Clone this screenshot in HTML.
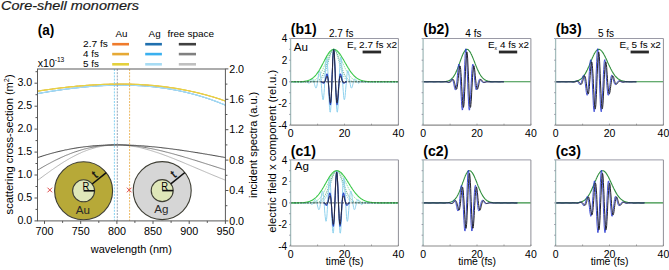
<!DOCTYPE html>
<html><head><meta charset="utf-8"><style>
html,body{margin:0;padding:0;background:#fff;}
svg{display:block;}
text{font-family:"Liberation Sans", sans-serif;}
</style></head><body>
<svg width="669" height="270" viewBox="0 0 669 270">
<rect width="669" height="270" fill="#fff"/>
<text x="1" y="10.3" font-size="12.6" font-style="italic" textLength="138" lengthAdjust="spacingAndGlyphs" fill="#1a1a1a" stroke="#1a1a1a" stroke-width="0.2">Core-shell monomers</text>
<text x="37.8" y="35" font-size="14" font-weight="bold" textLength="16.6" lengthAdjust="spacingAndGlyphs">(a)</text>
<polyline points="37.3,180.6 38.2,179.9 39.2,179.2 40.1,178.5 41,177.8 42,177.1 42.9,176.4 43.9,175.7 44.8,175 45.8,174.3 46.7,173.6 47.7,173 48.6,172.3 49.6,171.6 50.5,170.9 51.4,170.2 52.4,169.6 53.3,168.9 54.3,168.3 55.2,167.6 56.2,167 57.1,166.3 58.1,165.7 59,165.1 60,164.4 60.9,163.8 61.8,163.2 62.8,162.6 63.7,162 64.7,161.4 65.6,160.9 66.6,160.3 67.5,159.7 68.5,159.2 69.4,158.6 70.4,158.1 71.3,157.6 72.2,157.1 73.2,156.6 74.1,156.1 75.1,155.6 76,155.1 77,154.6 77.9,154.2 78.9,153.7 79.8,153.3 80.8,152.9 81.7,152.4 82.6,152 83.6,151.6 84.5,151.3 85.5,150.9 86.4,150.5 87.4,150.2 88.3,149.8 89.3,149.5 90.2,149.2 91.2,148.9 92.1,148.6 93,148.3 94,148 94.9,147.8 95.9,147.5 96.8,147.3 97.8,147.1 98.7,146.9 99.7,146.7 100.6,146.5 101.6,146.3 102.5,146.1 103.4,146 104.4,145.8 105.3,145.7 106.3,145.6 107.2,145.4 108.2,145.3 109.1,145.2 110.1,145.2 111,145.1 112,145 112.9,145 113.8,145 114.8,144.9 115.7,144.9 116.7,144.9 117.6,144.9 118.6,144.9 119.5,144.9 120.5,145 121.4,145 122.4,145.1 123.3,145.1 124.2,145.2 125.2,145.3 126.1,145.4 127.1,145.5 128,145.6 129,145.7 129.9,145.8 130.9,146 131.8,146.1 132.8,146.2 133.7,146.4 134.6,146.6 135.6,146.7 136.5,146.9 137.5,147.1 138.4,147.3 139.4,147.5 140.3,147.7 141.3,147.9 142.2,148.2 143.1,148.4 144.1,148.6 145,148.9 146,149.1 146.9,149.4 147.9,149.7 148.8,149.9 149.8,150.2 150.7,150.5 151.7,150.8 152.6,151.1 153.5,151.4 154.5,151.7 155.4,152 156.4,152.3 157.3,152.6 158.3,152.9 159.2,153.2 160.2,153.6 161.1,153.9 162.1,154.2 163,154.6 163.9,154.9 164.9,155.3 165.8,155.6 166.8,156 167.7,156.3 168.7,156.7 169.6,157.1 170.6,157.4 171.5,157.8 172.5,158.2 173.4,158.5 174.3,158.9 175.3,159.3 176.2,159.7 177.2,160.1 178.1,160.5 179.1,160.8 180,161.2 181,161.6 181.9,162 182.9,162.4 183.8,162.8 184.7,163.2 185.7,163.6 186.6,164 187.6,164.4 188.5,164.8 189.5,165.2 190.4,165.6 191.4,166 192.3,166.4 193.3,166.8 194.2,167.2 195.1,167.6 196.1,168 197,168.4 198,168.8 198.9,169.2 199.9,169.6 200.8,170 201.8,170.4 202.7,170.8 203.7,171.2 204.6,171.6 205.5,172 206.5,172.4 207.4,172.8 208.4,173.2 209.3,173.6 210.3,174 211.2,174.4 212.2,174.8 213.1,175.2 214.1,175.6 215,176 215.9,176.3 216.9,176.7 217.8,177.1 218.8,177.5 219.7,177.9 220.7,178.3 221.6,178.6 222.6,179 223.5,179.4 224.5,179.8 225.4,180.1" fill="none" stroke="#b4b4b4" stroke-width="1" stroke-linejoin="round"/>
<polyline points="37.3,170.3 38.2,169.7 39.2,169.2 40.1,168.6 41,168.1 42,167.5 42.9,167 43.9,166.4 44.8,165.9 45.8,165.4 46.7,164.8 47.7,164.3 48.6,163.8 49.6,163.3 50.5,162.8 51.4,162.3 52.4,161.8 53.3,161.3 54.3,160.8 55.2,160.3 56.2,159.9 57.1,159.4 58.1,159 59,158.5 60,158.1 60.9,157.6 61.8,157.2 62.8,156.8 63.7,156.4 64.7,155.9 65.6,155.5 66.6,155.1 67.5,154.8 68.5,154.4 69.4,154 70.4,153.6 71.3,153.3 72.2,152.9 73.2,152.6 74.1,152.2 75.1,151.9 76,151.6 77,151.3 77.9,151 78.9,150.7 79.8,150.4 80.8,150.1 81.7,149.8 82.6,149.6 83.6,149.3 84.5,149 85.5,148.8 86.4,148.6 87.4,148.3 88.3,148.1 89.3,147.9 90.2,147.7 91.2,147.5 92.1,147.3 93,147.1 94,146.9 94.9,146.8 95.9,146.6 96.8,146.4 97.8,146.3 98.7,146.2 99.7,146 100.6,145.9 101.6,145.8 102.5,145.7 103.4,145.6 104.4,145.5 105.3,145.4 106.3,145.3 107.2,145.2 108.2,145.2 109.1,145.1 110.1,145.1 111,145 112,145 112.9,145 113.8,144.9 114.8,144.9 115.7,144.9 116.7,144.9 117.6,144.9 118.6,144.9 119.5,144.9 120.5,144.9 121.4,145 122.4,145 123.3,145 124.2,145.1 125.2,145.1 126.1,145.2 127.1,145.3 128,145.3 129,145.4 129.9,145.5 130.9,145.6 131.8,145.7 132.8,145.8 133.7,145.9 134.6,146 135.6,146.1 136.5,146.2 137.5,146.3 138.4,146.5 139.4,146.6 140.3,146.7 141.3,146.9 142.2,147 143.1,147.2 144.1,147.3 145,147.5 146,147.6 146.9,147.8 147.9,148 148.8,148.2 149.8,148.3 150.7,148.5 151.7,148.7 152.6,148.9 153.5,149.1 154.5,149.3 155.4,149.5 156.4,149.7 157.3,149.9 158.3,150.1 159.2,150.3 160.2,150.6 161.1,150.8 162.1,151 163,151.2 163.9,151.5 164.9,151.7 165.8,152 166.8,152.2 167.7,152.4 168.7,152.7 169.6,152.9 170.6,153.2 171.5,153.4 172.5,153.7 173.4,153.9 174.3,154.2 175.3,154.5 176.2,154.7 177.2,155 178.1,155.3 179.1,155.5 180,155.8 181,156.1 181.9,156.3 182.9,156.6 183.8,156.9 184.7,157.2 185.7,157.5 186.6,157.7 187.6,158 188.5,158.3 189.5,158.6 190.4,158.9 191.4,159.2 192.3,159.5 193.3,159.8 194.2,160 195.1,160.3 196.1,160.6 197,160.9 198,161.2 198.9,161.5 199.9,161.8 200.8,162.1 201.8,162.4 202.7,162.7 203.7,163 204.6,163.3 205.5,163.6 206.5,163.9 207.4,164.2 208.4,164.5 209.3,164.8 210.3,165.1 211.2,165.4 212.2,165.7 213.1,166 214.1,166.3 215,166.6 215.9,166.9 216.9,167.2 217.8,167.5 218.8,167.8 219.7,168.1 220.7,168.4 221.6,168.7 222.6,169 223.5,169.3 224.5,169.6 225.4,169.9" fill="none" stroke="#7c7c7c" stroke-width="1" stroke-linejoin="round"/>
<polyline points="37.3,157.8 38.2,157.4 39.2,157.1 40.1,156.8 41,156.5 42,156.2 42.9,155.9 43.9,155.6 44.8,155.3 45.8,155 46.7,154.7 47.7,154.5 48.6,154.2 49.6,153.9 50.5,153.6 51.4,153.4 52.4,153.1 53.3,152.9 54.3,152.6 55.2,152.4 56.2,152.1 57.1,151.9 58.1,151.7 59,151.4 60,151.2 60.9,151 61.8,150.8 62.8,150.6 63.7,150.4 64.7,150.1 65.6,149.9 66.6,149.8 67.5,149.6 68.5,149.4 69.4,149.2 70.4,149 71.3,148.8 72.2,148.7 73.2,148.5 74.1,148.3 75.1,148.2 76,148 77,147.9 77.9,147.7 78.9,147.6 79.8,147.4 80.8,147.3 81.7,147.2 82.6,147.1 83.6,146.9 84.5,146.8 85.5,146.7 86.4,146.6 87.4,146.5 88.3,146.4 89.3,146.3 90.2,146.2 91.2,146.1 92.1,146 93,145.9 94,145.8 94.9,145.8 95.9,145.7 96.8,145.6 97.8,145.5 98.7,145.5 99.7,145.4 100.6,145.4 101.6,145.3 102.5,145.3 103.4,145.2 104.4,145.2 105.3,145.1 106.3,145.1 107.2,145.1 108.2,145 109.1,145 110.1,145 111,145 112,144.9 112.9,144.9 113.8,144.9 114.8,144.9 115.7,144.9 116.7,144.9 117.6,144.9 118.6,144.9 119.5,144.9 120.5,144.9 121.4,144.9 122.4,144.9 123.3,145 124.2,145 125.2,145 126.1,145 127.1,145.1 128,145.1 129,145.1 129.9,145.2 130.9,145.2 131.8,145.3 132.8,145.3 133.7,145.3 134.6,145.4 135.6,145.4 136.5,145.5 137.5,145.6 138.4,145.6 139.4,145.7 140.3,145.7 141.3,145.8 142.2,145.9 143.1,145.9 144.1,146 145,146.1 146,146.2 146.9,146.2 147.9,146.3 148.8,146.4 149.8,146.5 150.7,146.6 151.7,146.7 152.6,146.8 153.5,146.8 154.5,146.9 155.4,147 156.4,147.1 157.3,147.2 158.3,147.3 159.2,147.4 160.2,147.5 161.1,147.6 162.1,147.8 163,147.9 163.9,148 164.9,148.1 165.8,148.2 166.8,148.3 167.7,148.4 168.7,148.5 169.6,148.7 170.6,148.8 171.5,148.9 172.5,149 173.4,149.2 174.3,149.3 175.3,149.4 176.2,149.5 177.2,149.7 178.1,149.8 179.1,149.9 180,150.1 181,150.2 181.9,150.3 182.9,150.5 183.8,150.6 184.7,150.8 185.7,150.9 186.6,151 187.6,151.2 188.5,151.3 189.5,151.5 190.4,151.6 191.4,151.8 192.3,151.9 193.3,152.1 194.2,152.2 195.1,152.4 196.1,152.5 197,152.7 198,152.8 198.9,153 199.9,153.1 200.8,153.3 201.8,153.4 202.7,153.6 203.7,153.8 204.6,153.9 205.5,154.1 206.5,154.2 207.4,154.4 208.4,154.6 209.3,154.7 210.3,154.9 211.2,155 212.2,155.2 213.1,155.4 214.1,155.5 215,155.7 215.9,155.9 216.9,156 217.8,156.2 218.8,156.4 219.7,156.5 220.7,156.7 221.6,156.9 222.6,157 223.5,157.2 224.5,157.4 225.4,157.5" fill="none" stroke="#3e3e3e" stroke-width="1" stroke-linejoin="round"/>
<polyline points="37.5,93.7 39.1,93.4 40.7,93.1 42.2,92.9 43.8,92.6 45.4,92.3 47,92.1 48.6,91.8 50.1,91.5 51.7,91.3 53.3,91 54.9,90.8 56.4,90.6 58,90.3 59.6,90.1 61.2,89.9 62.8,89.6 64.3,89.4 65.9,89.2 67.5,89 69.1,88.8 70.7,88.6 72.2,88.4 73.8,88.2 75.4,88 77,87.8 78.6,87.7 80.1,87.5 81.7,87.3 83.3,87.2 84.9,87 86.4,86.9 88,86.7 89.6,86.6 91.2,86.5 92.8,86.3 94.3,86.2 95.9,86.1 97.5,86 99.1,85.9 100.7,85.8 102.2,85.7 103.8,85.6 105.4,85.6 107,85.5 108.6,85.4 110.1,85.4 111.7,85.3 113.3,85.3 114.9,85.3 116.4,85.2 118,85.2 119.6,85.2 121.2,85.2 122.8,85.2 124.3,85.2 125.9,85.2 127.5,85.2 129.1,85.3 130.7,85.3 132.2,85.4 133.8,85.4 135.4,85.5 137,85.6 138.6,85.7 140.1,85.7 141.7,85.8 143.3,85.9 144.9,86.1 146.5,86.2 148,86.3 149.6,86.5 151.2,86.6 152.8,86.8 154.3,86.9 155.9,87.1 157.5,87.3 159.1,87.5 160.7,87.7 162.2,87.9 163.8,88.2 165.4,88.4 167,88.6 168.6,88.9 170.1,89.1 171.7,89.4 173.3,89.7 174.9,90 176.5,90.3 178,90.6 179.6,90.9 181.2,91.3 182.8,91.6 184.3,92 185.9,92.3 187.5,92.7 189.1,93.1 190.7,93.5 192.2,93.9 193.8,94.3 195.4,94.8 197,95.2 198.6,95.7 200.1,96.1 201.7,96.6 203.3,97.1 204.9,97.6 206.5,98.1 208,98.6 209.6,99.2 211.2,99.7 212.8,100.3 214.3,100.9 215.9,101.4 217.5,102 219.1,102.6 220.7,103.3 222.2,103.9 223.8,104.5 225.4,105.2" fill="none" stroke="#5a9ccc" stroke-width="0.8" stroke-linejoin="round"/>
<polyline points="37.5,93.6 39.1,93.4 40.7,93.1 42.2,92.8 43.8,92.5 45.4,92.3 47,92 48.6,91.7 50.1,91.5 51.7,91.2 53.3,91 54.9,90.7 56.4,90.5 58,90.3 59.6,90 61.2,89.8 62.8,89.6 64.3,89.4 65.9,89.1 67.5,88.9 69.1,88.7 70.7,88.5 72.2,88.3 73.8,88.1 75.4,88 77,87.8 78.6,87.6 80.1,87.4 81.7,87.3 83.3,87.1 84.9,87 86.4,86.8 88,86.7 89.6,86.5 91.2,86.4 92.8,86.3 94.3,86.2 95.9,86 97.5,85.9 99.1,85.8 100.7,85.7 102.2,85.7 103.8,85.6 105.4,85.5 107,85.4 108.6,85.4 110.1,85.3 111.7,85.3 113.3,85.2 114.9,85.2 116.4,85.2 118,85.2 119.6,85.1 121.2,85.1 122.8,85.1 124.3,85.2 125.9,85.2 127.5,85.2 129.1,85.2 130.7,85.3 132.2,85.3 133.8,85.4 135.4,85.4 137,85.5 138.6,85.6 140.1,85.7 141.7,85.8 143.3,85.9 144.9,86 146.5,86.1 148,86.3 149.6,86.4 151.2,86.6 152.8,86.7 154.3,86.9 155.9,87.1 157.5,87.3 159.1,87.5 160.7,87.7 162.2,87.9 163.8,88.1 165.4,88.3 167,88.6 168.6,88.8 170.1,89.1 171.7,89.4 173.3,89.7 174.9,89.9 176.5,90.3 178,90.6 179.6,90.9 181.2,91.2 182.8,91.6 184.3,91.9 185.9,92.3 187.5,92.7 189.1,93.1 190.7,93.5 192.2,93.9 193.8,94.3 195.4,94.7 197,95.2 198.6,95.6 200.1,96.1 201.7,96.6 203.3,97.1 204.9,97.6 206.5,98.1 208,98.6 209.6,99.1 211.2,99.7 212.8,100.2 214.3,100.8 215.9,101.4 217.5,102 219.1,102.6 220.7,103.2 222.2,103.8 223.8,104.5 225.4,105.2" fill="none" stroke="#70c0ee" stroke-width="0.9" stroke-linejoin="round"/>
<polyline points="37.5,93.6 39.1,93.3 40.7,93 42.2,92.8 43.8,92.5 45.4,92.2 47,92 48.6,91.7 50.1,91.4 51.7,91.2 53.3,90.9 54.9,90.7 56.4,90.5 58,90.2 59.6,90 61.2,89.8 62.8,89.5 64.3,89.3 65.9,89.1 67.5,88.9 69.1,88.7 70.7,88.5 72.2,88.3 73.8,88.1 75.4,87.9 77,87.7 78.6,87.6 80.1,87.4 81.7,87.2 83.3,87.1 84.9,86.9 86.4,86.8 88,86.6 89.6,86.5 91.2,86.4 92.8,86.2 94.3,86.1 95.9,86 97.5,85.9 99.1,85.8 100.7,85.7 102.2,85.6 103.8,85.5 105.4,85.5 107,85.4 108.6,85.3 110.1,85.3 111.7,85.2 113.3,85.2 114.9,85.2 116.4,85.1 118,85.1 119.6,85.1 121.2,85.1 122.8,85.1 124.3,85.1 125.9,85.1 127.5,85.1 129.1,85.2 130.7,85.2 132.2,85.3 133.8,85.3 135.4,85.4 137,85.5 138.6,85.6 140.1,85.6 141.7,85.7 143.3,85.8 144.9,86 146.5,86.1 148,86.2 149.6,86.4 151.2,86.5 152.8,86.7 154.3,86.8 155.9,87 157.5,87.2 159.1,87.4 160.7,87.6 162.2,87.8 163.8,88.1 165.4,88.3 167,88.5 168.6,88.8 170.1,89 171.7,89.3 173.3,89.6 174.9,89.9 176.5,90.2 178,90.5 179.6,90.8 181.2,91.2 182.8,91.5 184.3,91.9 185.9,92.2 187.5,92.6 189.1,93 190.7,93.4 192.2,93.8 193.8,94.2 195.4,94.7 197,95.1 198.6,95.6 200.1,96 201.7,96.5 203.3,97 204.9,97.5 206.5,98 208,98.5 209.6,99.1 211.2,99.6 212.8,100.2 214.3,100.8 215.9,101.3 217.5,101.9 219.1,102.5 220.7,103.2 222.2,103.8 223.8,104.4 225.4,105.1" fill="none" stroke="#a6dcf4" stroke-width="1.1" stroke-linejoin="round"/>
<polyline points="37.5,91.2 39.1,91 40.7,90.7 42.2,90.5 43.8,90.3 45.4,90 47,89.8 48.6,89.6 50.1,89.4 51.7,89.2 53.3,88.9 54.9,88.7 56.4,88.5 58,88.3 59.6,88.1 61.2,87.9 62.8,87.8 64.3,87.6 65.9,87.4 67.5,87.2 69.1,87 70.7,86.9 72.2,86.7 73.8,86.6 75.4,86.4 77,86.2 78.6,86.1 80.1,86 81.7,85.8 83.3,85.7 84.9,85.6 86.4,85.4 88,85.3 89.6,85.2 91.2,85.1 92.8,85 94.3,84.9 95.9,84.8 97.5,84.7 99.1,84.6 100.7,84.6 102.2,84.5 103.8,84.4 105.4,84.4 107,84.3 108.6,84.3 110.1,84.2 111.7,84.2 113.3,84.2 114.9,84.1 116.4,84.1 118,84.1 119.6,84.1 121.2,84.1 122.8,84.1 124.3,84.1 125.9,84.1 127.5,84.2 129.1,84.2 130.7,84.2 132.2,84.3 133.8,84.3 135.4,84.4 137,84.5 138.6,84.5 140.1,84.6 141.7,84.7 143.3,84.8 144.9,84.9 146.5,85 148,85.1 149.6,85.3 151.2,85.4 152.8,85.5 154.3,85.7 155.9,85.8 157.5,86 159.1,86.2 160.7,86.3 162.2,86.5 163.8,86.7 165.4,86.9 167,87.1 168.6,87.3 170.1,87.6 171.7,87.8 173.3,88 174.9,88.3 176.5,88.5 178,88.8 179.6,89.1 181.2,89.4 182.8,89.7 184.3,90 185.9,90.3 187.5,90.6 189.1,90.9 190.7,91.3 192.2,91.6 193.8,92 195.4,92.3 197,92.7 198.6,93.1 200.1,93.5 201.7,93.9 203.3,94.3 204.9,94.7 206.5,95.1 208,95.6 209.6,96 211.2,96.5 212.8,96.9 214.3,97.4 215.9,97.9 217.5,98.4 219.1,98.9 220.7,99.4 222.2,100 223.8,100.5 225.4,101.1" fill="none" stroke="#e89a40" stroke-width="0.8" stroke-linejoin="round"/>
<polyline points="37.5,91.2 39.1,90.9 40.7,90.7 42.2,90.4 43.8,90.2 45.4,90 47,89.8 48.6,89.5 50.1,89.3 51.7,89.1 53.3,88.9 54.9,88.7 56.4,88.5 58,88.3 59.6,88.1 61.2,87.9 62.8,87.7 64.3,87.5 65.9,87.3 67.5,87.2 69.1,87 70.7,86.8 72.2,86.7 73.8,86.5 75.4,86.3 77,86.2 78.6,86.1 80.1,85.9 81.7,85.8 83.3,85.6 84.9,85.5 86.4,85.4 88,85.3 89.6,85.2 91.2,85.1 92.8,85 94.3,84.9 95.9,84.8 97.5,84.7 99.1,84.6 100.7,84.5 102.2,84.5 103.8,84.4 105.4,84.3 107,84.3 108.6,84.2 110.1,84.2 111.7,84.1 113.3,84.1 114.9,84.1 116.4,84.1 118,84.1 119.6,84.1 121.2,84.1 122.8,84.1 124.3,84.1 125.9,84.1 127.5,84.1 129.1,84.2 130.7,84.2 132.2,84.2 133.8,84.3 135.4,84.4 137,84.4 138.6,84.5 140.1,84.6 141.7,84.7 143.3,84.8 144.9,84.9 146.5,85 148,85.1 149.6,85.2 151.2,85.3 152.8,85.5 154.3,85.6 155.9,85.8 157.5,85.9 159.1,86.1 160.7,86.3 162.2,86.5 163.8,86.7 165.4,86.9 167,87.1 168.6,87.3 170.1,87.5 171.7,87.7 173.3,88 174.9,88.2 176.5,88.5 178,88.8 179.6,89 181.2,89.3 182.8,89.6 184.3,89.9 185.9,90.2 187.5,90.5 189.1,90.9 190.7,91.2 192.2,91.5 193.8,91.9 195.4,92.3 197,92.6 198.6,93 200.1,93.4 201.7,93.8 203.3,94.2 204.9,94.6 206.5,95.1 208,95.5 209.6,96 211.2,96.4 212.8,96.9 214.3,97.4 215.9,97.9 217.5,98.4 219.1,98.9 220.7,99.4 222.2,99.9 223.8,100.5 225.4,101" fill="none" stroke="#e6b840" stroke-width="0.9" stroke-linejoin="round"/>
<polyline points="37.5,91.1 39.1,90.9 40.7,90.6 42.2,90.4 43.8,90.2 45.4,89.9 47,89.7 48.6,89.5 50.1,89.3 51.7,89.1 53.3,88.8 54.9,88.6 56.4,88.4 58,88.2 59.6,88 61.2,87.8 62.8,87.7 64.3,87.5 65.9,87.3 67.5,87.1 69.1,86.9 70.7,86.8 72.2,86.6 73.8,86.5 75.4,86.3 77,86.1 78.6,86 80.1,85.9 81.7,85.7 83.3,85.6 84.9,85.5 86.4,85.3 88,85.2 89.6,85.1 91.2,85 92.8,84.9 94.3,84.8 95.9,84.7 97.5,84.6 99.1,84.5 100.7,84.5 102.2,84.4 103.8,84.3 105.4,84.3 107,84.2 108.6,84.2 110.1,84.1 111.7,84.1 113.3,84.1 114.9,84 116.4,84 118,84 119.6,84 121.2,84 122.8,84 124.3,84 125.9,84 127.5,84.1 129.1,84.1 130.7,84.1 132.2,84.2 133.8,84.2 135.4,84.3 137,84.4 138.6,84.4 140.1,84.5 141.7,84.6 143.3,84.7 144.9,84.8 146.5,84.9 148,85 149.6,85.2 151.2,85.3 152.8,85.4 154.3,85.6 155.9,85.7 157.5,85.9 159.1,86.1 160.7,86.2 162.2,86.4 163.8,86.6 165.4,86.8 167,87 168.6,87.2 170.1,87.5 171.7,87.7 173.3,87.9 174.9,88.2 176.5,88.4 178,88.7 179.6,89 181.2,89.3 182.8,89.6 184.3,89.9 185.9,90.2 187.5,90.5 189.1,90.8 190.7,91.2 192.2,91.5 193.8,91.9 195.4,92.2 197,92.6 198.6,93 200.1,93.4 201.7,93.8 203.3,94.2 204.9,94.6 206.5,95 208,95.5 209.6,95.9 211.2,96.4 212.8,96.8 214.3,97.3 215.9,97.8 217.5,98.3 219.1,98.8 220.7,99.3 222.2,99.9 223.8,100.4 225.4,101" fill="none" stroke="#e6d444" stroke-width="1.1" stroke-linejoin="round"/>
<line x1="114.4" y1="69" x2="114.4" y2="220.9" stroke="#78cdf0" stroke-width="0.9" stroke-dasharray="2,1.2"/>
<line x1="117.3" y1="69" x2="117.3" y2="220.9" stroke="#8c98aa" stroke-width="0.9" stroke-dasharray="2,1.2"/>
<line x1="129.6" y1="69" x2="129.6" y2="220.9" stroke="#eab050" stroke-width="0.9" stroke-dasharray="2,1.2"/>
<circle cx="83.6" cy="190.8" r="29" fill="#b7a938" stroke="#3e3e34" stroke-width="1.1"/>
<circle cx="83.6" cy="190.8" r="11" fill="#dfe7b9" stroke="#3e3e34" stroke-width="1.1"/>
<line x1="83.6" y1="190.8" x2="94.6" y2="190.8" stroke="#111" stroke-width="1.6"/>
<line x1="92.2" y1="184" x2="106.3" y2="172.7" stroke="#111" stroke-width="1.6"/>
<text x="82.6" y="189.8" font-size="10" textLength="6.8" lengthAdjust="spacingAndGlyphs">R</text>
<text x="97.1" y="177.5" font-size="11.5" text-anchor="middle" transform="rotate(-38.5 97.1 177.5)" stroke="#222" stroke-width="0.4">t</text>
<text x="82.8" y="213.6" font-size="11.6" text-anchor="middle" fill="#2a2a2a">Au</text>
<circle cx="162.2" cy="190.6" r="29" fill="#d6d6d6" stroke="#3e3e34" stroke-width="1.1"/>
<circle cx="162.2" cy="190.6" r="11" fill="#dfe7b9" stroke="#3e3e34" stroke-width="1.1"/>
<line x1="162.2" y1="190.6" x2="173.2" y2="190.6" stroke="#111" stroke-width="1.6"/>
<line x1="170.8" y1="183.8" x2="184.9" y2="172.5" stroke="#111" stroke-width="1.6"/>
<text x="161.2" y="189.6" font-size="10" textLength="6.8" lengthAdjust="spacingAndGlyphs">R</text>
<text x="175.7" y="177.3" font-size="11.5" text-anchor="middle" transform="rotate(-38.5 175.7 177.3)" stroke="#222" stroke-width="0.4">t</text>
<text x="161.4" y="213.4" font-size="11.6" text-anchor="middle" fill="#2a2a2a">Ag</text>
<path d="M47.5,187.7 L52.099999999999994,192.3 M52.099999999999994,187.7 L47.5,192.3" stroke="#e04848" stroke-width="1"/>
<path d="M126.89999999999999,187.7 L131.5,192.3 M131.5,187.7 L126.89999999999999,192.3" stroke="#e04848" stroke-width="1"/>
<rect x="37.5" y="69.0" width="187.9" height="151.9" fill="none" stroke="#5a5a5a" stroke-width="1"/>
<line x1="44.5" y1="220.9" x2="44.5" y2="223.9" stroke="#555" stroke-width="1"/>
<text x="44.5" y="235.2" font-size="10.5" text-anchor="middle" textLength="18" lengthAdjust="spacingAndGlyphs">700</text>
<line x1="80.7" y1="220.9" x2="80.7" y2="223.9" stroke="#555" stroke-width="1"/>
<text x="80.7" y="235.2" font-size="10.5" text-anchor="middle" textLength="18" lengthAdjust="spacingAndGlyphs">750</text>
<line x1="116.9" y1="220.9" x2="116.9" y2="223.9" stroke="#555" stroke-width="1"/>
<text x="116.9" y="235.2" font-size="10.5" text-anchor="middle" textLength="18" lengthAdjust="spacingAndGlyphs">800</text>
<line x1="153" y1="220.9" x2="153" y2="223.9" stroke="#555" stroke-width="1"/>
<text x="153" y="235.2" font-size="10.5" text-anchor="middle" textLength="18" lengthAdjust="spacingAndGlyphs">850</text>
<line x1="189.2" y1="220.9" x2="189.2" y2="223.9" stroke="#555" stroke-width="1"/>
<text x="189.2" y="235.2" font-size="10.5" text-anchor="middle" textLength="18" lengthAdjust="spacingAndGlyphs">900</text>
<line x1="225.4" y1="220.9" x2="225.4" y2="223.9" stroke="#555" stroke-width="1"/>
<text x="225.4" y="235.2" font-size="10.5" text-anchor="middle" textLength="18" lengthAdjust="spacingAndGlyphs">950</text>
<line x1="62.6" y1="220.9" x2="62.6" y2="222.9" stroke="#555" stroke-width="1"/>
<line x1="98.8" y1="220.9" x2="98.8" y2="222.9" stroke="#555" stroke-width="1"/>
<line x1="134.9" y1="220.9" x2="134.9" y2="222.9" stroke="#555" stroke-width="1"/>
<line x1="171.1" y1="220.9" x2="171.1" y2="222.9" stroke="#555" stroke-width="1"/>
<line x1="207.3" y1="220.9" x2="207.3" y2="222.9" stroke="#555" stroke-width="1"/>
<line x1="34.5" y1="220.9" x2="37.5" y2="220.9" stroke="#555" stroke-width="1"/>
<text x="32.2" y="224.1" font-size="10.8" text-anchor="end" textLength="14.8" lengthAdjust="spacingAndGlyphs">0.0</text>
<line x1="34.5" y1="198" x2="37.5" y2="198" stroke="#555" stroke-width="1"/>
<text x="32.2" y="201.2" font-size="10.8" text-anchor="end" textLength="14.8" lengthAdjust="spacingAndGlyphs">0.5</text>
<line x1="34.5" y1="175" x2="37.5" y2="175" stroke="#555" stroke-width="1"/>
<text x="32.2" y="178.2" font-size="10.8" text-anchor="end" textLength="14.8" lengthAdjust="spacingAndGlyphs">1.0</text>
<line x1="34.5" y1="152.1" x2="37.5" y2="152.1" stroke="#555" stroke-width="1"/>
<text x="32.2" y="155.2" font-size="10.8" text-anchor="end" textLength="14.8" lengthAdjust="spacingAndGlyphs">1.5</text>
<line x1="34.5" y1="129.1" x2="37.5" y2="129.1" stroke="#555" stroke-width="1"/>
<text x="32.2" y="132.3" font-size="10.8" text-anchor="end" textLength="14.8" lengthAdjust="spacingAndGlyphs">2.0</text>
<line x1="34.5" y1="106.2" x2="37.5" y2="106.2" stroke="#555" stroke-width="1"/>
<text x="32.2" y="109.4" font-size="10.8" text-anchor="end" textLength="14.8" lengthAdjust="spacingAndGlyphs">2.5</text>
<line x1="34.5" y1="83.2" x2="37.5" y2="83.2" stroke="#555" stroke-width="1"/>
<text x="32.2" y="86.4" font-size="10.8" text-anchor="end" textLength="14.8" lengthAdjust="spacingAndGlyphs">3.0</text>
<line x1="35.5" y1="209.4" x2="37.5" y2="209.4" stroke="#555" stroke-width="1"/>
<line x1="35.5" y1="186.5" x2="37.5" y2="186.5" stroke="#555" stroke-width="1"/>
<line x1="35.5" y1="163.5" x2="37.5" y2="163.5" stroke="#555" stroke-width="1"/>
<line x1="35.5" y1="140.6" x2="37.5" y2="140.6" stroke="#555" stroke-width="1"/>
<line x1="35.5" y1="117.6" x2="37.5" y2="117.6" stroke="#555" stroke-width="1"/>
<line x1="35.5" y1="94.7" x2="37.5" y2="94.7" stroke="#555" stroke-width="1"/>
<line x1="35.5" y1="71.7" x2="37.5" y2="71.7" stroke="#555" stroke-width="1"/>
<line x1="225.4" y1="220.9" x2="228.4" y2="220.9" stroke="#555" stroke-width="1"/>
<text x="229.2" y="224.5" font-size="10.3" textLength="14.9" lengthAdjust="spacingAndGlyphs">0.0</text>
<line x1="225.4" y1="190.5" x2="228.4" y2="190.5" stroke="#555" stroke-width="1"/>
<text x="229.2" y="194.1" font-size="10.3" textLength="14.9" lengthAdjust="spacingAndGlyphs">0.4</text>
<line x1="225.4" y1="160.1" x2="228.4" y2="160.1" stroke="#555" stroke-width="1"/>
<text x="229.2" y="163.7" font-size="10.3" textLength="14.9" lengthAdjust="spacingAndGlyphs">0.8</text>
<line x1="225.4" y1="129.7" x2="228.4" y2="129.7" stroke="#555" stroke-width="1"/>
<text x="229.2" y="133.3" font-size="10.3" textLength="14.9" lengthAdjust="spacingAndGlyphs">1.2</text>
<line x1="225.4" y1="99.3" x2="228.4" y2="99.3" stroke="#555" stroke-width="1"/>
<text x="229.2" y="102.9" font-size="10.3" textLength="14.9" lengthAdjust="spacingAndGlyphs">1.6</text>
<line x1="225.4" y1="68.9" x2="228.4" y2="68.9" stroke="#555" stroke-width="1"/>
<text x="229.2" y="72.5" font-size="10.3" textLength="14.9" lengthAdjust="spacingAndGlyphs">2.0</text>
<line x1="225.4" y1="205.7" x2="227.4" y2="205.7" stroke="#555" stroke-width="1"/>
<line x1="225.4" y1="175.3" x2="227.4" y2="175.3" stroke="#555" stroke-width="1"/>
<line x1="225.4" y1="144.9" x2="227.4" y2="144.9" stroke="#555" stroke-width="1"/>
<line x1="225.4" y1="114.5" x2="227.4" y2="114.5" stroke="#555" stroke-width="1"/>
<line x1="225.4" y1="84.1" x2="227.4" y2="84.1" stroke="#555" stroke-width="1"/>
<text x="37.8" y="66.6" font-size="10.5">x10<tspan dy="-5" font-size="6.6">-13</tspan></text>
<text x="90.8" y="252.6" font-size="10.6" textLength="81.1" lengthAdjust="spacingAndGlyphs">wavelength (nm)</text>
<text x="13.3" y="214.4" font-size="10.6" textLength="140" lengthAdjust="spacingAndGlyphs" transform="rotate(-90 13.3 214.4)">scattering cross-section (m<tspan dy="-4" font-size="7">2</tspan><tspan dy="4">)</tspan></text>
<text x="256.8" y="198" font-size="10.4" textLength="106.3" lengthAdjust="spacingAndGlyphs" transform="rotate(-90 256.8 198)">incident spectra (a.u.)</text>
<text x="83" y="46.8" font-size="9.3" textLength="24.8" lengthAdjust="spacingAndGlyphs">2.7 fs</text>
<text x="83" y="56.8" font-size="9.3" textLength="15.9" lengthAdjust="spacingAndGlyphs">4 fs</text>
<text x="83" y="66.5" font-size="9.3" textLength="15.9" lengthAdjust="spacingAndGlyphs">5 fs</text>
<text x="121.5" y="36.8" font-size="9.8" text-anchor="middle">Au</text>
<text x="154.6" y="36.9" font-size="9.8" text-anchor="middle">Ag</text>
<text x="167.4" y="36.9" font-size="9.8" textLength="46.7" lengthAdjust="spacingAndGlyphs">free space</text>
<line x1="112.2" y1="44.2" x2="129" y2="44.2" stroke="#ef7b2c" stroke-width="2.6"/>
<line x1="145.2" y1="44.2" x2="161.9" y2="44.2" stroke="#1f6fae" stroke-width="2.6"/>
<line x1="178.8" y1="44.2" x2="196" y2="44.2" stroke="#404040" stroke-width="2.6"/>
<line x1="112.2" y1="54.1" x2="129" y2="54.1" stroke="#e6a935" stroke-width="2.6"/>
<line x1="145.2" y1="54.1" x2="161.9" y2="54.1" stroke="#3ab0ef" stroke-width="2.6"/>
<line x1="178.8" y1="54.1" x2="196" y2="54.1" stroke="#808080" stroke-width="2.6"/>
<line x1="112.2" y1="64.3" x2="129" y2="64.3" stroke="#e4d03c" stroke-width="2.6"/>
<line x1="145.2" y1="64.3" x2="161.9" y2="64.3" stroke="#a8dcf4" stroke-width="2.6"/>
<line x1="178.8" y1="64.3" x2="196" y2="64.3" stroke="#c0c0c0" stroke-width="2.6"/>
<clipPath id="clip00"><rect x="290.6" y="38.5" width="107.8" height="86.7"/></clipPath>
<clipPath id="clip10"><rect x="423.1" y="38.5" width="107.8" height="86.7"/></clipPath>
<clipPath id="clip20"><rect x="555.6" y="38.5" width="107.8" height="86.7"/></clipPath>
<clipPath id="clip01"><rect x="290.6" y="159.9" width="107.8" height="86.1"/></clipPath>
<clipPath id="clip11"><rect x="423.1" y="159.9" width="107.8" height="86.1"/></clipPath>
<clipPath id="clip21"><rect x="555.6" y="159.9" width="107.8" height="86.1"/></clipPath>
<g clip-path="url(#clip00)">
<polyline points="290.6,81.8 290.9,81.8 291.1,81.8 291.4,81.8 291.7,81.8 292,81.8 292.2,81.8 292.5,81.8 292.8,81.8 293,81.8 293.3,81.8 293.6,81.8 293.8,81.8 294.1,81.8 294.4,81.8 294.7,81.8 294.9,81.8 295.2,81.8 295.5,81.8 295.7,81.8 296,81.8 296.3,81.8 296.5,81.8 296.8,81.8 297.1,81.8 297.4,81.8 297.6,81.8 297.9,81.8 298.2,81.8 298.4,81.8 298.7,81.8 299,81.8 299.2,81.8 299.5,81.8 299.8,81.8 300.1,81.8 300.3,81.8 300.6,81.8 300.9,81.8 301.1,81.8 301.4,81.8 301.7,81.8 301.9,81.8 302.2,81.8 302.5,81.8 302.8,81.8 303,81.8 303.3,81.8 303.6,81.8 303.8,81.8 304.1,81.8 304.4,81.8 304.6,81.8 304.9,81.8 305.2,81.8 305.5,81.8 305.7,81.8 306,81.8 306.3,81.8 306.5,81.8 306.8,81.8 307.1,81.7 307.4,81.7 307.6,81.7 307.9,81.7 308.2,81.7 308.4,81.7 308.7,81.6 309,81.6 309.2,81.6 309.5,81.6 309.8,81.5 310.1,81.5 310.3,81.5 310.6,81.4 310.9,81.4 311.1,81.3 311.4,81.3 311.7,81.2 311.9,81.1 312.2,81.1 312.5,81 312.8,80.9 313,80.8 313.3,80.7 313.6,80.6 313.8,80.5 314.1,80.4 314.4,80.2 314.6,80.1 314.9,80 315.2,79.8 315.5,79.6 315.7,79.4 316,79.3 316.3,79 316.5,78.8 316.8,78.6 317.1,78.3 317.3,78.1 317.6,77.8 317.9,77.5 318.2,77.2 318.4,76.9 318.7,76.6 319,76.2 319.2,75.8 319.5,75.4 319.8,75 320,74.6 320.3,74.2 320.6,73.7 320.9,73.3 321.1,72.8 321.4,72.3 321.7,71.7 321.9,71.2 322.2,70.7 322.5,70.1 322.8,69.5 323,68.9 323.3,68.3 323.6,67.7 323.8,67 324.1,66.4 324.4,65.8 324.6,65.1 324.9,64.4 325.2,63.8 325.5,63.1 325.7,62.4 326,61.7 326.3,61.1 326.5,60.4 326.8,59.7 327.1,59.1 327.3,58.4 327.6,57.8 327.9,57.1 328.2,56.5 328.4,55.9 328.7,55.3 329,54.7 329.2,54.2 329.5,53.7 329.8,53.2 330,52.7 330.3,52.2 330.6,51.8 330.9,51.4 331.1,51.1 331.4,50.7 331.7,50.4 331.9,50.2 332.2,49.9 332.5,49.7 332.7,49.6 333,49.5 333.3,49.4 333.6,49.3 333.8,49.3 334.1,49.4 334.4,49.4 334.6,49.5 334.9,49.6 335.2,49.8 335.4,50 335.7,50.2 336,50.4 336.3,50.7 336.5,51 336.8,51.3 337.1,51.7 337.3,52.1 337.6,52.5 337.9,52.9 338.2,53.3 338.4,53.8 338.7,54.3 339,54.8 339.2,55.3 339.5,55.8 339.8,56.4 340,56.9 340.3,57.5 340.6,58.1 340.9,58.7 341.1,59.3 341.4,59.9 341.7,60.5 341.9,61.1 342.2,61.7 342.5,62.3 342.7,62.9 343,63.5 343.3,64.2 343.6,64.8 343.8,65.4 344.1,66 344.4,66.5 344.6,67.1 344.9,67.7 345.2,68.3 345.4,68.8 345.7,69.4 346,69.9 346.3,70.4 346.5,70.9 346.8,71.4 347.1,71.9 347.3,72.4 347.6,72.8 347.9,73.3 348.1,73.7 348.4,74.1 348.7,74.5 349,74.9 349.2,75.3 349.5,75.6 349.8,76 350,76.3 350.3,76.6 350.6,76.9 350.8,77.2 351.1,77.5 351.4,77.8 351.7,78 351.9,78.3 352.2,78.5 352.5,78.7 352.7,78.9 353,79.1 353.3,79.3 353.6,79.5 353.8,79.6 354.1,79.8 354.4,79.9 354.6,80.1 354.9,80.2 355.2,80.3 355.4,80.4 355.7,80.5 356,80.6 356.3,80.7 356.5,80.8 356.8,80.9 357.1,81 357.3,81.1 357.6,81.1 357.9,81.2 358.1,81.2 358.4,81.3 358.7,81.3 359,81.4 359.2,81.4 359.5,81.5 359.8,81.5 360,81.5 360.3,81.6 360.6,81.6 360.8,81.6 361.1,81.6 361.4,81.6 361.7,81.7 361.9,81.7 362.2,81.7 362.5,81.7 362.7,81.7 363,81.7 363.3,81.8 363.5,81.8 363.8,81.8 364.1,81.8 364.4,81.8 364.6,81.8 364.9,81.8 365.2,81.8 365.4,81.8 365.7,81.8 366,81.8 366.2,81.8 366.5,81.8 366.8,81.8 367.1,81.8 367.3,81.8 367.6,81.8 367.9,81.8 368.1,81.8 368.4,81.8 368.7,81.8 369,81.8 369.2,81.8 369.5,81.8 369.8,81.8 370,81.8 370.3,81.8 370.6,81.8 370.8,81.8 371.1,81.8 371.4,81.8 371.7,81.8 371.9,81.8 372.2,81.8 372.5,81.8 372.7,81.8 373,81.8 373.3,81.8 373.5,81.8 373.8,81.8 374.1,81.8 374.4,81.8 374.6,81.8 374.9,81.8 375.2,81.8 375.4,81.8 375.7,81.8 376,81.8 376.2,81.8 376.5,81.8 376.8,81.8 377.1,81.8 377.3,81.8 377.6,81.8 377.9,81.8 378.1,81.8 378.4,81.8 378.7,81.8 378.9,81.8 379.2,81.8 379.5,81.8 379.8,81.8 380,81.8 380.3,81.8 380.6,81.8 380.8,81.8 381.1,81.8 381.4,81.8 381.6,81.8 381.9,81.8 382.2,81.8 382.5,81.8 382.7,81.8 383,81.8 383.3,81.8 383.5,81.8 383.8,81.8 384.1,81.8 384.4,81.8 384.6,81.8 384.9,81.8 385.2,81.8 385.4,81.8 385.7,81.8 386,81.8 386.2,81.8 386.5,81.8 386.8,81.8 387.1,81.8 387.3,81.8 387.6,81.8 387.9,81.8 388.1,81.8 388.4,81.8 388.7,81.8 388.9,81.8 389.2,81.8 389.5,81.8 389.8,81.8 390,81.8 390.3,81.8 390.6,81.8 390.8,81.8 391.1,81.8 391.4,81.8 391.6,81.8 391.9,81.8 392.2,81.8 392.5,81.8 392.7,81.8 393,81.8 393.3,81.8 393.5,81.8 393.8,81.8 394.1,81.8 394.3,81.8 394.6,81.8 394.9,81.8 395.2,81.8 395.4,81.8 395.7,81.8 396,81.8 396.2,81.8 396.5,81.8 396.8,81.8 397,81.8 397.3,81.8 397.6,81.8 397.9,81.8 398.1,81.8 398.4,81.8" fill="none" stroke="#70d890" stroke-width="0.8" stroke-linejoin="round" stroke-dasharray="1.6,0.8"/>
<polyline points="290.6,81.8 290.9,81.8 291.1,81.8 291.4,81.8 291.7,81.8 292,81.8 292.2,81.8 292.5,81.8 292.8,81.8 293,81.8 293.3,81.8 293.6,81.8 293.8,81.8 294.1,81.8 294.4,81.8 294.7,81.8 294.9,81.8 295.2,81.8 295.5,81.8 295.7,81.8 296,81.8 296.3,81.8 296.5,81.8 296.8,81.8 297.1,81.8 297.4,81.8 297.6,81.8 297.9,81.8 298.2,81.8 298.4,81.8 298.7,81.8 299,81.8 299.2,81.8 299.5,81.8 299.8,81.8 300.1,81.8 300.3,81.8 300.6,81.8 300.9,81.8 301.1,81.8 301.4,81.8 301.7,81.8 301.9,81.8 302.2,81.8 302.5,81.8 302.8,81.8 303,81.8 303.3,81.8 303.6,81.8 303.8,81.8 304.1,81.8 304.4,81.8 304.6,81.8 304.9,81.8 305.2,81.8 305.5,81.8 305.7,81.8 306,81.8 306.3,81.8 306.5,81.8 306.8,81.8 307.1,81.8 307.4,81.8 307.6,81.8 307.9,81.8 308.2,81.8 308.4,81.8 308.7,81.8 309,81.8 309.2,81.8 309.5,81.8 309.8,81.8 310.1,81.8 310.3,81.8 310.6,81.8 310.9,81.8 311.1,81.8 311.4,81.8 311.7,81.8 311.9,81.8 312.2,81.8 312.5,81.7 312.8,81.7 313,81.7 313.3,81.7 313.6,81.7 313.8,81.6 314.1,81.6 314.4,81.6 314.6,81.5 314.9,81.5 315.2,81.4 315.5,81.4 315.7,81.3 316,81.3 316.3,81.2 316.5,81.1 316.8,81 317.1,80.9 317.3,80.8 317.6,80.7 317.9,80.5 318.2,80.4 318.4,80.2 318.7,80 319,79.8 319.2,79.6 319.5,79.4 319.8,79.1 320,78.8 320.3,78.5 320.6,78.2 320.9,77.9 321.1,77.5 321.4,77.1 321.7,76.7 321.9,76.3 322.2,75.8 322.5,75.3 322.8,74.8 323,74.3 323.3,73.7 323.6,73.1 323.8,72.5 324.1,71.8 324.4,71.2 324.6,70.5 324.9,69.7 325.2,69 325.5,68.2 325.7,67.5 326,66.7 326.3,65.8 326.5,65 326.8,64.2 327.1,63.3 327.3,62.5 327.6,61.6 327.9,60.8 328.2,59.9 328.4,59.1 328.7,58.3 329,57.5 329.2,56.7 329.5,55.9 329.8,55.2 330,54.5 330.3,53.8 330.6,53.2 330.9,52.6 331.1,52 331.4,51.5 331.7,51 331.9,50.6 332.2,50.3 332.5,50 332.7,49.7 333,49.5 333.3,49.4 333.6,49.3 333.8,49.3 334.1,49.4 334.4,49.5 334.6,49.7 334.9,49.9 335.2,50.2 335.4,50.6 335.7,51 336,51.4 336.3,51.9 336.5,52.4 336.8,53 337.1,53.7 337.3,54.3 337.6,55 337.9,55.8 338.2,56.5 338.4,57.3 338.7,58.1 339,58.9 339.2,59.8 339.5,60.6 339.8,61.5 340,62.3 340.3,63.2 340.6,64 340.9,64.8 341.1,65.7 341.4,66.5 341.7,67.3 341.9,68.1 342.2,68.8 342.5,69.6 342.7,70.3 343,71 343.3,71.7 343.6,72.4 343.8,73 344.1,73.6 344.4,74.2 344.6,74.7 344.9,75.2 345.2,75.7 345.4,76.2 345.7,76.6 346,77.1 346.3,77.5 346.5,77.8 346.8,78.2 347.1,78.5 347.3,78.8 347.6,79.1 347.9,79.3 348.1,79.6 348.4,79.8 348.7,80 349,80.2 349.2,80.3 349.5,80.5 349.8,80.6 350,80.8 350.3,80.9 350.6,81 350.8,81.1 351.1,81.2 351.4,81.2 351.7,81.3 351.9,81.4 352.2,81.4 352.5,81.5 352.7,81.5 353,81.6 353.3,81.6 353.6,81.6 353.8,81.7 354.1,81.7 354.4,81.7 354.6,81.7 354.9,81.7 355.2,81.8 355.4,81.8 355.7,81.8 356,81.8 356.3,81.8 356.5,81.8 356.8,81.8 357.1,81.8 357.3,81.8 357.6,81.8 357.9,81.8 358.1,81.8 358.4,81.8 358.7,81.8 359,81.8 359.2,81.8 359.5,81.8 359.8,81.8 360,81.8 360.3,81.8 360.6,81.8 360.8,81.8 361.1,81.8 361.4,81.8 361.7,81.8 361.9,81.8 362.2,81.8 362.5,81.8 362.7,81.8 363,81.8 363.3,81.8 363.5,81.8 363.8,81.8 364.1,81.8 364.4,81.8 364.6,81.8 364.9,81.8 365.2,81.8 365.4,81.8 365.7,81.8 366,81.8 366.2,81.8 366.5,81.8 366.8,81.8 367.1,81.8 367.3,81.8 367.6,81.8 367.9,81.8 368.1,81.8 368.4,81.8 368.7,81.8 369,81.8 369.2,81.8 369.5,81.8 369.8,81.8 370,81.8 370.3,81.8 370.6,81.8 370.8,81.8 371.1,81.8 371.4,81.8 371.7,81.8 371.9,81.8 372.2,81.8 372.5,81.8 372.7,81.8 373,81.8 373.3,81.8 373.5,81.8 373.8,81.8 374.1,81.8 374.4,81.8 374.6,81.8 374.9,81.8 375.2,81.8 375.4,81.8 375.7,81.8 376,81.8 376.2,81.8 376.5,81.8 376.8,81.8 377.1,81.8 377.3,81.8 377.6,81.8 377.9,81.8 378.1,81.8 378.4,81.8 378.7,81.8 378.9,81.8 379.2,81.8 379.5,81.8 379.8,81.8 380,81.8 380.3,81.8 380.6,81.8 380.8,81.8 381.1,81.8 381.4,81.8 381.6,81.8 381.9,81.8 382.2,81.8 382.5,81.8 382.7,81.8 383,81.8 383.3,81.8 383.5,81.8 383.8,81.8 384.1,81.8 384.4,81.8 384.6,81.8 384.9,81.8 385.2,81.8 385.4,81.8 385.7,81.8 386,81.8 386.2,81.8 386.5,81.8 386.8,81.8 387.1,81.8 387.3,81.8 387.6,81.8 387.9,81.8 388.1,81.8 388.4,81.8 388.7,81.8 388.9,81.8 389.2,81.8 389.5,81.8 389.8,81.8 390,81.8 390.3,81.8 390.6,81.8 390.8,81.8 391.1,81.8 391.4,81.8 391.6,81.8 391.9,81.8 392.2,81.8 392.5,81.8 392.7,81.8 393,81.8 393.3,81.8 393.5,81.8 393.8,81.8 394.1,81.8 394.3,81.8 394.6,81.8 394.9,81.8 395.2,81.8 395.4,81.8 395.7,81.8 396,81.8 396.2,81.8 396.5,81.8 396.8,81.8 397,81.8 397.3,81.8 397.6,81.8 397.9,81.8 398.1,81.8 398.4,81.8" fill="none" stroke="#2e8a4a" stroke-width="0.8" stroke-linejoin="round" stroke-dasharray="1.2,1.2"/>
<polyline points="290.6,81.8 290.9,81.8 291.1,81.8 291.4,81.8 291.7,81.8 292,81.8 292.2,81.8 292.5,81.8 292.8,81.8 293,81.8 293.3,81.8 293.6,81.8 293.8,81.8 294.1,81.8 294.4,81.8 294.7,81.8 294.9,81.8 295.2,81.8 295.5,81.8 295.7,81.8 296,81.8 296.3,81.8 296.5,81.8 296.8,81.8 297.1,81.8 297.4,81.8 297.6,81.8 297.9,81.8 298.2,81.8 298.4,81.8 298.7,81.8 299,81.8 299.2,81.8 299.5,81.8 299.8,81.8 300.1,81.8 300.3,81.8 300.6,81.8 300.9,81.8 301.1,81.8 301.4,81.8 301.7,81.8 301.9,81.8 302.2,81.8 302.5,81.8 302.8,81.8 303,81.8 303.3,81.8 303.6,81.8 303.8,81.8 304.1,81.8 304.4,81.8 304.6,81.8 304.9,81.8 305.2,81.8 305.5,81.8 305.7,81.8 306,81.8 306.3,81.8 306.5,81.8 306.8,81.8 307.1,81.8 307.4,81.8 307.6,81.8 307.9,81.8 308.2,81.8 308.4,81.8 308.7,81.8 309,81.8 309.2,81.8 309.5,81.8 309.8,81.8 310.1,81.8 310.3,81.8 310.6,81.8 310.9,81.8 311.1,81.8 311.4,81.8 311.7,81.8 311.9,81.8 312.2,81.8 312.5,81.8 312.8,81.8 313,81.8 313.3,81.8 313.6,81.8 313.8,81.8 314.1,81.8 314.4,81.8 314.6,81.8 314.9,81.8 315.2,81.8 315.5,81.8 315.7,81.7 316,81.7 316.3,81.7 316.5,81.7 316.8,81.6 317.1,81.6 317.3,81.5 317.6,81.5 317.9,81.4 318.2,81.4 318.4,81.3 318.7,81.2 319,81.1 319.2,81 319.5,80.9 319.8,80.8 320,80.6 320.3,80.4 320.6,80.2 320.9,80 321.1,79.8 321.4,79.5 321.7,79.3 321.9,79 322.2,78.6 322.5,78.3 322.8,77.9 323,77.4 323.3,77 323.6,76.5 323.8,75.9 324.1,75.4 324.4,74.8 324.6,74.1 324.9,73.4 325.2,72.7 325.5,72 325.7,71.2 326,70.4 326.3,69.5 326.5,68.6 326.8,67.7 327.1,66.8 327.3,65.8 327.6,64.9 327.9,63.9 328.2,62.9 328.4,61.9 328.7,60.9 329,59.9 329.2,59 329.5,58 329.8,57.1 330,56.2 330.3,55.3 330.6,54.5 330.9,53.7 331.1,52.9 331.4,52.3 331.7,51.6 331.9,51.1 332.2,50.6 332.5,50.2 332.7,49.9 333,49.6 333.3,49.4 333.6,49.4 333.8,49.3 334.1,49.4 334.4,49.6 334.6,49.8 334.9,50.1 335.2,50.5 335.4,51 335.7,51.5 336,52.1 336.3,52.8 336.5,53.5 336.8,54.3 337.1,55.1 337.3,56 337.6,56.9 337.9,57.8 338.2,58.8 338.4,59.7 338.7,60.7 339,61.7 339.2,62.7 339.5,63.7 339.8,64.7 340,65.6 340.3,66.6 340.6,67.5 340.9,68.5 341.1,69.3 341.4,70.2 341.7,71 341.9,71.8 342.2,72.6 342.5,73.3 342.7,74 343,74.6 343.3,75.2 343.6,75.8 343.8,76.4 344.1,76.9 344.4,77.3 344.6,77.8 344.9,78.2 345.2,78.5 345.4,78.9 345.7,79.2 346,79.5 346.3,79.7 346.5,80 346.8,80.2 347.1,80.4 347.3,80.6 347.6,80.7 347.9,80.9 348.1,81 348.4,81.1 348.7,81.2 349,81.3 349.2,81.4 349.5,81.4 349.8,81.5 350,81.5 350.3,81.6 350.6,81.6 350.8,81.7 351.1,81.7 351.4,81.7 351.7,81.7 351.9,81.7 352.2,81.8 352.5,81.8 352.7,81.8 353,81.8 353.3,81.8 353.6,81.8 353.8,81.8 354.1,81.8 354.4,81.8 354.6,81.8 354.9,81.8 355.2,81.8 355.4,81.8 355.7,81.8 356,81.8 356.3,81.8 356.5,81.8 356.8,81.8 357.1,81.8 357.3,81.8 357.6,81.8 357.9,81.8 358.1,81.8 358.4,81.8 358.7,81.8 359,81.8 359.2,81.8 359.5,81.8 359.8,81.8 360,81.8 360.3,81.8 360.6,81.8 360.8,81.8 361.1,81.8 361.4,81.8 361.7,81.8 361.9,81.8 362.2,81.8 362.5,81.8 362.7,81.8 363,81.8 363.3,81.8 363.5,81.8 363.8,81.8 364.1,81.8 364.4,81.8 364.6,81.8 364.9,81.8 365.2,81.8 365.4,81.8 365.7,81.8 366,81.8 366.2,81.8 366.5,81.8 366.8,81.8 367.1,81.8 367.3,81.8 367.6,81.8 367.9,81.8 368.1,81.8 368.4,81.8 368.7,81.8 369,81.8 369.2,81.8 369.5,81.8 369.8,81.8 370,81.8 370.3,81.8 370.6,81.8 370.8,81.8 371.1,81.8 371.4,81.8 371.7,81.8 371.9,81.8 372.2,81.8 372.5,81.8 372.7,81.8 373,81.8 373.3,81.8 373.5,81.8 373.8,81.8 374.1,81.8 374.4,81.8 374.6,81.8 374.9,81.8 375.2,81.8 375.4,81.8 375.7,81.8 376,81.8 376.2,81.8 376.5,81.8 376.8,81.8 377.1,81.8 377.3,81.8 377.6,81.8 377.9,81.8 378.1,81.8 378.4,81.8 378.7,81.8 378.9,81.8 379.2,81.8 379.5,81.8 379.8,81.8 380,81.8 380.3,81.8 380.6,81.8 380.8,81.8 381.1,81.8 381.4,81.8 381.6,81.8 381.9,81.8 382.2,81.8 382.5,81.8 382.7,81.8 383,81.8 383.3,81.8 383.5,81.8 383.8,81.8 384.1,81.8 384.4,81.8 384.6,81.8 384.9,81.8 385.2,81.8 385.4,81.8 385.7,81.8 386,81.8 386.2,81.8 386.5,81.8 386.8,81.8 387.1,81.8 387.3,81.8 387.6,81.8 387.9,81.8 388.1,81.8 388.4,81.8 388.7,81.8 388.9,81.8 389.2,81.8 389.5,81.8 389.8,81.8 390,81.8 390.3,81.8 390.6,81.8 390.8,81.8 391.1,81.8 391.4,81.8 391.6,81.8 391.9,81.8 392.2,81.8 392.5,81.8 392.7,81.8 393,81.8 393.3,81.8 393.5,81.8 393.8,81.8 394.1,81.8 394.3,81.8 394.6,81.8 394.9,81.8 395.2,81.8 395.4,81.8 395.7,81.8 396,81.8 396.2,81.8 396.5,81.8 396.8,81.8 397,81.8 397.3,81.8 397.6,81.8 397.9,81.8 398.1,81.8 398.4,81.8" fill="none" stroke="#50b0b0" stroke-width="0.8" stroke-linejoin="round" stroke-dasharray="1.2,1.2"/>
<polyline points="290.6,81.8 290.9,81.8 291.1,81.8 291.4,81.8 291.7,81.8 292,81.8 292.2,81.8 292.5,81.9 292.8,81.9 293,81.9 293.3,81.9 293.6,81.9 293.8,81.9 294.1,81.9 294.4,81.9 294.7,81.9 294.9,81.9 295.2,81.9 295.5,81.9 295.7,81.9 296,81.8 296.3,81.8 296.5,81.8 296.8,81.8 297.1,81.8 297.4,81.8 297.6,81.8 297.9,81.8 298.2,81.8 298.4,81.8 298.7,81.8 299,81.8 299.2,81.8 299.5,81.8 299.8,81.9 300.1,81.9 300.3,81.9 300.6,81.9 300.9,82 301.1,82 301.4,82 301.7,82 301.9,82 302.2,82 302.5,82 302.8,81.9 303,81.9 303.3,81.8 303.6,81.7 303.8,81.7 304.1,81.6 304.4,81.5 304.6,81.5 304.9,81.4 305.2,81.4 305.5,81.4 305.7,81.4 306,81.5 306.3,81.6 306.5,81.7 306.8,81.9 307.1,82.1 307.4,82.3 307.6,82.5 307.9,82.7 308.2,82.9 308.4,83 308.7,83.1 309,83.1 309.2,83.1 309.5,82.9 309.8,82.7 310.1,82.3 310.3,81.9 310.6,81.4 310.9,80.9 311.1,80.4 311.4,79.9 311.7,79.4 311.9,79.1 312.2,78.9 312.5,78.8 312.8,78.9 313,79.3 313.3,79.8 313.6,80.5 313.8,81.4 314.1,82.4 314.4,83.5 314.6,84.7 314.9,85.7 315.2,86.7 315.5,87.5 315.7,88 316,88.1 316.3,87.9 316.5,87.3 316.8,86.3 317.1,85 317.3,83.3 317.6,81.3 317.9,79.2 318.2,77.1 318.4,75.1 318.7,73.3 319,71.9 319.2,70.9 319.5,70.5 319.8,70.8 320,71.7 320.3,73.4 320.6,75.7 320.9,78.5 321.1,81.7 321.4,85.2 321.7,88.7 321.9,92.1 322.2,95 322.5,97.4 322.8,99.1 323,99.8 323.3,99.5 323.6,98.2 323.8,95.8 324.1,92.5 324.4,88.3 324.6,83.6 324.9,78.5 325.2,73.4 325.5,68.5 325.7,64.1 326,60.6 326.3,58.1 326.5,57 326.8,57.2 327.1,58.8 327.3,61.9 327.6,66.2 327.9,71.5 328.2,77.6 328.4,84.2 328.7,90.8 329,97.1 329.2,102.7 329.5,107.2 329.8,110.5 330,112.1 330.3,112.1 330.6,110.3 330.9,106.9 331.1,102 331.4,95.9 331.7,88.9 331.9,81.5 332.2,74 332.5,66.8 332.7,60.5 333,55.3 333.3,51.7 333.6,49.7 333.8,49.5 334.1,51.1 334.4,54.5 334.6,59.4 334.9,65.5 335.2,72.5 335.4,80 335.7,87.5 336,94.6 336.3,100.9 336.5,106 336.8,109.7 337.1,111.8 337.3,112.2 337.6,110.9 337.9,108 338.2,103.7 338.4,98.3 338.7,92.1 339,85.5 339.2,78.9 339.5,72.7 339.8,67.1 340,62.6 340.3,59.3 340.6,57.4 340.9,56.9 341.1,57.8 341.4,60 341.7,63.3 341.9,67.5 342.2,72.3 342.5,77.5 342.7,82.6 343,87.4 343.3,91.7 343.6,95.2 343.8,97.8 344.1,99.3 344.4,99.8 344.6,99.3 344.9,97.8 345.2,95.6 345.4,92.7 345.7,89.4 346,85.9 346.3,82.4 346.5,79.1 346.8,76.2 347.1,73.8 347.3,72 347.6,70.9 347.9,70.5 348.1,70.8 348.4,71.6 348.7,73 349,74.7 349.2,76.7 349.5,78.8 349.8,80.9 350,82.9 350.3,84.6 350.6,86.1 350.8,87.1 351.1,87.8 351.4,88.1 351.7,88 351.9,87.6 352.2,86.9 352.5,85.9 352.7,84.9 353,83.8 353.3,82.7 353.6,81.6 353.8,80.7 354.1,79.9 354.4,79.4 354.6,79 354.9,78.8 355.2,78.8 355.4,79 355.7,79.4 356,79.8 356.3,80.3 356.5,80.8 356.8,81.3 357.1,81.8 357.3,82.3 357.6,82.6 357.9,82.9 358.1,83 358.4,83.1 358.7,83.1 359,83.1 359.2,82.9 359.5,82.8 359.8,82.5 360,82.3 360.3,82.1 360.6,81.9 360.8,81.7 361.1,81.6 361.4,81.5 361.7,81.4 361.9,81.4 362.2,81.4 362.5,81.4 362.7,81.4 363,81.5 363.3,81.6 363.5,81.7 363.8,81.7 364.1,81.8 364.4,81.9 364.6,81.9 364.9,82 365.2,82 365.4,82 365.7,82 366,82 366.2,82 366.5,82 366.8,81.9 367.1,81.9 367.3,81.9 367.6,81.9 367.9,81.8 368.1,81.8 368.4,81.8 368.7,81.8 369,81.8 369.2,81.8 369.5,81.8 369.8,81.8 370,81.8 370.3,81.8 370.6,81.8 370.8,81.8 371.1,81.8 371.4,81.8 371.7,81.9 371.9,81.9 372.2,81.9 372.5,81.9 372.7,81.9 373,81.9 373.3,81.9 373.5,81.9 373.8,81.9 374.1,81.9 374.4,81.9 374.6,81.9 374.9,81.9 375.2,81.8 375.4,81.8 375.7,81.8 376,81.8 376.2,81.8 376.5,81.8 376.8,81.8 377.1,81.8 377.3,81.8 377.6,81.8 377.9,81.8 378.1,81.8 378.4,81.8 378.7,81.9 378.9,81.9 379.2,81.9 379.5,81.9 379.8,81.9 380,81.9 380.3,81.9 380.6,81.9 380.8,81.9 381.1,81.9 381.4,81.9 381.6,81.9 381.9,81.9 382.2,81.9 382.5,81.8 382.7,81.8 383,81.8 383.3,81.8 383.5,81.8 383.8,81.8 384.1,81.8 384.4,81.8 384.6,81.8 384.9,81.8 385.2,81.8 385.4,81.8 385.7,81.8 386,81.9 386.2,81.9 386.5,81.9 386.8,81.9 387.1,81.9 387.3,81.9 387.6,81.9 387.9,81.9 388.1,81.9 388.4,81.9 388.7,81.9 388.9,81.9 389.2,81.9 389.5,81.8 389.8,81.8 390,81.8 390.3,81.8 390.6,81.8 390.8,81.8 391.1,81.8 391.4,81.8 391.6,81.8 391.9,81.8 392.2,81.8 392.5,81.8 392.7,81.8 393,81.8 393.3,81.9 393.5,81.9 393.8,81.9 394.1,81.9 394.3,81.9 394.6,81.9 394.9,81.9 395.2,81.9 395.4,81.9 395.7,81.9 396,81.9 396.2,81.9 396.5,81.9 396.8,81.8 397,81.8 397.3,81.8 397.6,81.8 397.9,81.8 398.1,81.8 398.4,81.8" fill="none" stroke="#90d2ee" stroke-width="1" stroke-linejoin="round"/>
<polyline points="290.6,81.8 290.9,81.8 291.1,81.8 291.4,81.8 291.7,81.8 292,81.8 292.2,81.8 292.5,81.8 292.8,81.8 293,81.8 293.3,81.8 293.6,81.8 293.8,81.8 294.1,81.8 294.4,81.8 294.7,81.8 294.9,81.8 295.2,81.8 295.5,81.8 295.7,81.8 296,81.8 296.3,81.8 296.5,81.8 296.8,81.8 297.1,81.8 297.4,81.8 297.6,81.8 297.9,81.8 298.2,81.8 298.4,81.8 298.7,81.8 299,81.8 299.2,81.8 299.5,81.7 299.8,81.7 300.1,81.7 300.3,81.7 300.6,81.7 300.9,81.7 301.1,81.7 301.4,81.7 301.7,81.6 301.9,81.6 302.2,81.6 302.5,81.6 302.8,81.6 303,81.5 303.3,81.5 303.6,81.5 303.8,81.4 304.1,81.4 304.4,81.4 304.6,81.3 304.9,81.3 305.2,81.2 305.5,81.2 305.7,81.1 306,81.1 306.3,81 306.5,81 306.8,80.9 307.1,80.8 307.4,80.8 307.6,80.7 307.9,80.6 308.2,80.5 308.4,80.4 308.7,80.3 309,80.2 309.2,80.1 309.5,80 309.8,79.9 310.1,79.8 310.3,79.6 310.6,79.5 310.9,79.3 311.1,79.2 311.4,79 311.7,78.8 311.9,78.7 312.2,78.5 312.5,78.3 312.8,78.1 313,77.9 313.3,77.6 313.6,77.4 313.8,77.2 314.1,76.9 314.4,76.6 314.6,76.4 314.9,76.1 315.2,75.8 315.5,75.5 315.7,75.2 316,74.9 316.3,74.5 316.5,74.2 316.8,73.8 317.1,73.5 317.3,73.1 317.6,72.7 317.9,72.3 318.2,71.9 318.4,71.5 318.7,71.1 319,70.6 319.2,70.2 319.5,69.8 319.8,69.3 320,68.8 320.3,68.4 320.6,67.9 320.9,67.4 321.1,66.9 321.4,66.4 321.7,65.9 321.9,65.4 322.2,64.9 322.5,64.3 322.8,63.8 323,63.3 323.3,62.8 323.6,62.2 323.8,61.7 324.1,61.2 324.4,60.7 324.6,60.1 324.9,59.6 325.2,59.1 325.5,58.6 325.7,58.1 326,57.6 326.3,57.1 326.5,56.6 326.8,56.1 327.1,55.7 327.3,55.2 327.6,54.8 327.9,54.3 328.2,53.9 328.4,53.5 328.7,53.1 329,52.7 329.2,52.4 329.5,52 329.8,51.7 330,51.4 330.3,51.1 330.6,50.9 330.9,50.6 331.1,50.4 331.4,50.2 331.7,50 331.9,49.8 332.2,49.7 332.5,49.6 332.7,49.5 333,49.4 333.3,49.4 333.6,49.3 333.8,49.3 334.1,49.4 334.4,49.4 334.6,49.4 334.9,49.5 335.2,49.6 335.4,49.7 335.7,49.9 336,50 336.3,50.2 336.5,50.4 336.8,50.6 337.1,50.8 337.3,51 337.6,51.3 337.9,51.5 338.2,51.8 338.4,52.1 338.7,52.4 339,52.8 339.2,53.1 339.5,53.5 339.8,53.8 340,54.2 340.3,54.6 340.6,55 340.9,55.4 341.1,55.8 341.4,56.2 341.7,56.7 341.9,57.1 342.2,57.6 342.5,58 342.7,58.5 343,58.9 343.3,59.4 343.6,59.9 343.8,60.3 344.1,60.8 344.4,61.3 344.6,61.8 344.9,62.3 345.2,62.7 345.4,63.2 345.7,63.7 346,64.2 346.3,64.6 346.5,65.1 346.8,65.6 347.1,66 347.3,66.5 347.6,66.9 347.9,67.4 348.1,67.8 348.4,68.3 348.7,68.7 349,69.1 349.2,69.6 349.5,70 349.8,70.4 350,70.8 350.3,71.2 350.6,71.6 350.8,71.9 351.1,72.3 351.4,72.7 351.7,73 351.9,73.4 352.2,73.7 352.5,74 352.7,74.3 353,74.6 353.3,74.9 353.6,75.2 353.8,75.5 354.1,75.8 354.4,76.1 354.6,76.3 354.9,76.6 355.2,76.8 355.4,77 355.7,77.3 356,77.5 356.3,77.7 356.5,77.9 356.8,78.1 357.1,78.3 357.3,78.4 357.6,78.6 357.9,78.8 358.1,78.9 358.4,79.1 358.7,79.2 359,79.4 359.2,79.5 359.5,79.6 359.8,79.8 360,79.9 360.3,80 360.6,80.1 360.8,80.2 361.1,80.3 361.4,80.4 361.7,80.5 361.9,80.5 362.2,80.6 362.5,80.7 362.7,80.8 363,80.8 363.3,80.9 363.5,81 363.8,81 364.1,81.1 364.4,81.1 364.6,81.2 364.9,81.2 365.2,81.3 365.4,81.3 365.7,81.3 366,81.4 366.2,81.4 366.5,81.4 366.8,81.5 367.1,81.5 367.3,81.5 367.6,81.5 367.9,81.6 368.1,81.6 368.4,81.6 368.7,81.6 369,81.6 369.2,81.7 369.5,81.7 369.8,81.7 370,81.7 370.3,81.7 370.6,81.7 370.8,81.7 371.1,81.7 371.4,81.7 371.7,81.8 371.9,81.8 372.2,81.8 372.5,81.8 372.7,81.8 373,81.8 373.3,81.8 373.5,81.8 373.8,81.8 374.1,81.8 374.4,81.8 374.6,81.8 374.9,81.8 375.2,81.8 375.4,81.8 375.7,81.8 376,81.8 376.2,81.8 376.5,81.8 376.8,81.8 377.1,81.8 377.3,81.8 377.6,81.8 377.9,81.8 378.1,81.8 378.4,81.8 378.7,81.8 378.9,81.8 379.2,81.8 379.5,81.8 379.8,81.8 380,81.8 380.3,81.8 380.6,81.8 380.8,81.8 381.1,81.8 381.4,81.8 381.6,81.8 381.9,81.8 382.2,81.8 382.5,81.8 382.7,81.8 383,81.8 383.3,81.8 383.5,81.8 383.8,81.8 384.1,81.8 384.4,81.8 384.6,81.8 384.9,81.8 385.2,81.8 385.4,81.8 385.7,81.8 386,81.8 386.2,81.8 386.5,81.8 386.8,81.8 387.1,81.8 387.3,81.8 387.6,81.8 387.9,81.8 388.1,81.8 388.4,81.8 388.7,81.8 388.9,81.8 389.2,81.8 389.5,81.8 389.8,81.8 390,81.8 390.3,81.8 390.6,81.8 390.8,81.8 391.1,81.8 391.4,81.8 391.6,81.8 391.9,81.8 392.2,81.8 392.5,81.8 392.7,81.8 393,81.8 393.3,81.8 393.5,81.8 393.8,81.8 394.1,81.8 394.3,81.8 394.6,81.8 394.9,81.8 395.2,81.8 395.4,81.8 395.7,81.8 396,81.8 396.2,81.8 396.5,81.8 396.8,81.8 397,81.8 397.3,81.8 397.6,81.8 397.9,81.8 398.1,81.8 398.4,81.8" fill="none" stroke="#3cc84a" stroke-width="1.1" stroke-linejoin="round"/>
<line x1="290.6" y1="81.8" x2="398.4" y2="81.8" stroke="#34443a" stroke-width="0.9" stroke-dasharray="2.2,1"/>
<polyline points="320.9,81.8 321.1,81.8 321.4,81.9 321.7,82.1 321.9,82.2 322.2,82.4 322.5,82.6 322.8,82.8 323,83 323.3,83.1 323.6,83.2 323.8,83.2 324.1,83 324.4,82.6 324.6,82.1 324.9,81.3 325.2,80.4 325.5,79.3 325.7,78.1 326,76.8 326.3,75.7 326.5,74.7 326.8,74.1 327.1,74 327.3,74.4 327.6,75.5 327.9,77.3 328.2,79.9 328.4,83 328.7,86.7 329,90.7 329.2,94.7 329.5,98.4 329.8,101.5 330,103.7 330.3,104.7 330.6,104.3 330.9,102.4 331.1,99 331.4,94.2 331.7,88.2 331.9,81.5 332.2,74.4 332.5,67.4 332.7,61 333,55.7 333.3,51.8 333.6,49.7 333.8,49.5 334.1,51.2 334.4,54.8 334.6,59.8 334.9,66 335.2,73 335.4,80.1 335.7,86.9 336,93.1 336.3,98.1 336.5,101.8 336.8,104 337.1,104.7 337.3,104 337.6,102 337.9,99 338.2,95.4 338.4,91.5 338.7,87.5 339,83.7 339.2,80.4 339.5,77.8 339.8,75.8 340,74.6 340.3,74 340.6,74 340.9,74.6 341.1,75.5 341.4,76.6 341.7,77.8 341.9,79.1 342.2,80.2 342.5,81.2 342.7,82 343,82.5 343.3,82.9 343.6,83.1 343.8,83.2 344.1,83.1 344.4,83 344.6,82.8 344.9,82.6 345.2,82.4 345.4,82.2 345.7,82.1 346,82 346.3,81.9 346.5,81.8" fill="none" stroke="#2848c8" stroke-width="1.1" stroke-linejoin="round"/>
<polyline points="320.9,81.8 321.1,81.8 321.4,81.9 321.7,81.9 321.9,82 322.2,82.1 322.5,82.1 322.8,82.2 323,82.3 323.3,82.4 323.6,82.5 323.8,82.5 324.1,82.4 324.4,82.3 324.6,82 324.9,81.6 325.2,81 325.5,80.3 325.7,79.5 326,78.6 326.3,77.7 326.5,77 326.8,76.4 327.1,76.1 327.3,76.3 327.6,77 327.9,78.3 328.2,80.3 328.4,82.8 328.7,85.9 329,89.3 329.2,92.9 329.5,96.4 329.8,99.4 330,101.6 330.3,102.8 330.6,102.7 330.9,101.2 331.1,98.1 331.4,93.7 331.7,88 331.9,81.5 332.2,74.5 332.5,67.5 332.7,61.1 333,55.8 333.3,51.8 333.6,49.7 333.8,49.5 334.1,51.3 334.4,54.8 334.6,60 334.9,66.2 335.2,73.1 335.4,80.1 335.7,86.8 336,92.7 336.3,97.4 336.5,100.7 336.8,102.5 337.1,102.9 337.3,101.9 337.6,99.9 337.9,97 338.2,93.6 338.4,90 338.7,86.6 339,83.4 339.2,80.7 339.5,78.7 339.8,77.2 340,76.4 340.3,76.1 340.6,76.3 340.9,76.8 341.1,77.6 341.4,78.4 341.7,79.3 341.9,80.1 342.2,80.9 342.5,81.5 342.7,81.9 343,82.2 343.3,82.4 343.6,82.5 343.8,82.5 344.1,82.4 344.4,82.4 344.6,82.3 344.9,82.2 345.2,82.1 345.4,82 345.7,81.9 346,81.9 346.3,81.9 346.5,81.8" fill="none" stroke="#2a2a3a" stroke-width="1" stroke-linejoin="round"/>
</g>
<line x1="290.6" y1="125.2" x2="398.4" y2="125.2" stroke="#8a8a8a" stroke-width="1.2"/>
<line x1="290.6" y1="38.5" x2="398.4" y2="38.5" stroke="#9a9aa6" stroke-width="1"/>
<line x1="398.4" y1="38.5" x2="398.4" y2="125.2" stroke="#8e8e96" stroke-width="1"/>
<line x1="290.6" y1="38.5" x2="290.6" y2="125.2" stroke="#a4bcbc" stroke-width="1.3"/>
<line x1="289.1" y1="125.2" x2="290.6" y2="125.2" stroke="#889" stroke-width="0.8"/>
<line x1="289.1" y1="114.4" x2="290.6" y2="114.4" stroke="#889" stroke-width="0.8"/>
<line x1="289.1" y1="103.5" x2="290.6" y2="103.5" stroke="#889" stroke-width="0.8"/>
<line x1="289.1" y1="92.7" x2="290.6" y2="92.7" stroke="#889" stroke-width="0.8"/>
<line x1="289.1" y1="81.8" x2="290.6" y2="81.8" stroke="#889" stroke-width="0.8"/>
<line x1="289.1" y1="71" x2="290.6" y2="71" stroke="#889" stroke-width="0.8"/>
<line x1="289.1" y1="60.2" x2="290.6" y2="60.2" stroke="#889" stroke-width="0.8"/>
<line x1="289.1" y1="49.3" x2="290.6" y2="49.3" stroke="#889" stroke-width="0.8"/>
<line x1="289.1" y1="38.5" x2="290.6" y2="38.5" stroke="#889" stroke-width="0.8"/>
<line x1="290.6" y1="125.2" x2="290.6" y2="123.7" stroke="#888" stroke-width="0.8"/>
<line x1="317.6" y1="125.2" x2="317.6" y2="123.7" stroke="#888" stroke-width="0.8"/>
<line x1="344.5" y1="125.2" x2="344.5" y2="123.7" stroke="#888" stroke-width="0.8"/>
<line x1="371.5" y1="125.2" x2="371.5" y2="123.7" stroke="#888" stroke-width="0.8"/>
<line x1="398.4" y1="125.2" x2="398.4" y2="123.7" stroke="#888" stroke-width="0.8"/>
<text x="287.2" y="42.2" font-size="10" text-anchor="end">4</text>
<text x="287.2" y="63.9" font-size="10" text-anchor="end">2</text>
<text x="287.2" y="85.5" font-size="10" text-anchor="end">0</text>
<text x="287.2" y="107.2" font-size="10" text-anchor="end">-2</text>
<text x="287.2" y="128.9" font-size="10" text-anchor="end">-4</text>
<text x="290.6" y="137" font-size="10.5" text-anchor="middle">0</text>
<text x="344.5" y="137" font-size="10.5" text-anchor="middle">20</text>
<text x="398.4" y="137" font-size="10.5" text-anchor="middle">40</text>
<g clip-path="url(#clip10)">
<polyline points="423.1,81.8 423.4,81.8 423.6,81.8 423.9,81.8 424.2,81.8 424.5,81.8 424.7,81.8 425,81.8 425.3,81.8 425.5,81.8 425.8,81.8 426.1,81.8 426.3,81.8 426.6,81.8 426.9,81.8 427.2,81.8 427.4,81.8 427.7,81.8 428,81.8 428.2,81.8 428.5,81.8 428.8,81.8 429,81.8 429.3,81.8 429.6,81.8 429.9,81.8 430.1,81.8 430.4,81.8 430.7,81.8 430.9,81.8 431.2,81.8 431.5,81.8 431.7,81.8 432,81.8 432.3,81.8 432.6,81.8 432.8,81.8 433.1,81.8 433.4,81.8 433.6,81.8 433.9,81.8 434.2,81.8 434.4,81.8 434.7,81.8 435,81.8 435.3,81.8 435.5,81.8 435.8,81.8 436.1,81.8 436.3,81.8 436.6,81.8 436.9,81.8 437.1,81.8 437.4,81.8 437.7,81.8 438,81.8 438.2,81.8 438.5,81.8 438.8,81.8 439,81.8 439.3,81.8 439.6,81.8 439.9,81.8 440.1,81.8 440.4,81.8 440.7,81.8 440.9,81.8 441.2,81.8 441.5,81.8 441.7,81.8 442,81.8 442.3,81.8 442.6,81.8 442.8,81.8 443.1,81.8 443.4,81.7 443.6,81.7 443.9,81.7 444.2,81.7 444.4,81.7 444.7,81.6 445,81.6 445.3,81.6 445.5,81.6 445.8,81.5 446.1,81.5 446.3,81.4 446.6,81.4 446.9,81.3 447.1,81.3 447.4,81.2 447.7,81.1 448,81 448.2,81 448.5,80.9 448.8,80.7 449,80.6 449.3,80.5 449.6,80.4 449.8,80.2 450.1,80.1 450.4,79.9 450.7,79.7 450.9,79.5 451.2,79.3 451.5,79 451.7,78.8 452,78.5 452.3,78.2 452.5,77.9 452.8,77.6 453.1,77.3 453.4,76.9 453.6,76.5 453.9,76.1 454.2,75.7 454.4,75.3 454.7,74.8 455,74.3 455.3,73.8 455.5,73.3 455.8,72.7 456.1,72.1 456.3,71.5 456.6,70.9 456.9,70.3 457.1,69.6 457.4,69 457.7,68.3 458,67.6 458.2,66.9 458.5,66.1 458.8,65.4 459,64.6 459.3,63.9 459.6,63.1 459.8,62.4 460.1,61.6 460.4,60.8 460.7,60.1 460.9,59.3 461.2,58.6 461.5,57.9 461.7,57.1 462,56.4 462.3,55.8 462.5,55.1 462.8,54.5 463.1,53.8 463.4,53.3 463.6,52.7 463.9,52.2 464.2,51.7 464.4,51.3 464.7,50.9 465,50.5 465.2,50.2 465.5,50 465.8,49.7 466.1,49.6 466.3,49.4 466.6,49.4 466.9,49.3 467.1,49.4 467.4,49.4 467.7,49.5 467.9,49.6 468.2,49.8 468.5,50 468.8,50.3 469,50.6 469.3,50.9 469.6,51.3 469.8,51.7 470.1,52.1 470.4,52.5 470.7,53 470.9,53.5 471.2,54.1 471.5,54.6 471.7,55.2 472,55.8 472.3,56.4 472.5,57.1 472.8,57.7 473.1,58.4 473.4,59.1 473.6,59.7 473.9,60.4 474.2,61.1 474.4,61.8 474.7,62.5 475,63.2 475.2,63.9 475.5,64.6 475.8,65.3 476.1,65.9 476.3,66.6 476.6,67.3 476.9,67.9 477.1,68.5 477.4,69.2 477.7,69.8 477.9,70.4 478.2,70.9 478.5,71.5 478.8,72 479,72.6 479.3,73.1 479.6,73.6 479.8,74 480.1,74.5 480.4,74.9 480.6,75.4 480.9,75.8 481.2,76.1 481.5,76.5 481.7,76.9 482,77.2 482.3,77.5 482.5,77.8 482.8,78.1 483.1,78.4 483.3,78.6 483.6,78.8 483.9,79.1 484.2,79.3 484.4,79.5 484.7,79.7 485,79.8 485.2,80 485.5,80.1 485.8,80.3 486.1,80.4 486.3,80.5 486.6,80.7 486.9,80.8 487.1,80.9 487.4,80.9 487.7,81 487.9,81.1 488.2,81.2 488.5,81.2 488.8,81.3 489,81.3 489.3,81.4 489.6,81.4 489.8,81.5 490.1,81.5 490.4,81.6 490.6,81.6 490.9,81.6 491.2,81.6 491.5,81.7 491.7,81.7 492,81.7 492.3,81.7 492.5,81.7 492.8,81.7 493.1,81.8 493.3,81.8 493.6,81.8 493.9,81.8 494.2,81.8 494.4,81.8 494.7,81.8 495,81.8 495.2,81.8 495.5,81.8 495.8,81.8 496,81.8 496.3,81.8 496.6,81.8 496.9,81.8 497.1,81.8 497.4,81.8 497.7,81.8 497.9,81.8 498.2,81.8 498.5,81.8 498.7,81.8 499,81.8 499.3,81.8 499.6,81.8 499.8,81.8 500.1,81.8 500.4,81.8 500.6,81.8 500.9,81.8 501.2,81.8 501.5,81.8 501.7,81.8 502,81.8 502.3,81.8 502.5,81.8 502.8,81.8 503.1,81.8 503.3,81.8 503.6,81.8 503.9,81.8 504.2,81.8 504.4,81.8 504.7,81.8 505,81.8 505.2,81.8 505.5,81.8 505.8,81.8 506,81.8 506.3,81.8 506.6,81.8 506.9,81.8 507.1,81.8 507.4,81.8 507.7,81.8 507.9,81.8 508.2,81.8 508.5,81.8 508.7,81.8 509,81.8 509.3,81.8 509.6,81.8 509.8,81.8 510.1,81.8 510.4,81.8 510.6,81.8 510.9,81.8 511.2,81.8 511.4,81.8 511.7,81.8 512,81.8 512.3,81.8 512.5,81.8 512.8,81.8 513.1,81.8 513.3,81.8 513.6,81.8 513.9,81.8 514.1,81.8 514.4,81.8 514.7,81.8 515,81.8 515.2,81.8 515.5,81.8 515.8,81.8 516,81.8 516.3,81.8 516.6,81.8 516.9,81.8 517.1,81.8 517.4,81.8 517.7,81.8 517.9,81.8 518.2,81.8 518.5,81.8 518.7,81.8 519,81.8 519.3,81.8 519.6,81.8 519.8,81.8 520.1,81.8 520.4,81.8 520.6,81.8 520.9,81.8 521.2,81.8 521.4,81.8 521.7,81.8 522,81.8 522.3,81.8 522.5,81.8 522.8,81.8 523.1,81.8 523.3,81.8 523.6,81.8 523.9,81.8 524.1,81.8 524.4,81.8 524.7,81.8 525,81.8 525.2,81.8 525.5,81.8 525.8,81.8 526,81.8 526.3,81.8 526.6,81.8 526.8,81.8 527.1,81.8 527.4,81.8 527.7,81.8 527.9,81.8 528.2,81.8 528.5,81.8 528.7,81.8 529,81.8 529.3,81.8 529.5,81.8 529.8,81.8 530.1,81.8 530.4,81.8 530.6,81.8 530.9,81.8" fill="none" stroke="#339040" stroke-width="1.1" stroke-linejoin="round"/>
<polyline points="423.1,81.8 423.4,81.8 423.6,81.8 423.9,81.8 424.2,81.8 424.5,81.8 424.7,81.9 425,81.9 425.3,81.9 425.5,81.9 425.8,81.9 426.1,81.9 426.3,81.9 426.6,81.9 426.9,81.9 427.2,81.9 427.4,81.9 427.7,81.9 428,81.9 428.2,81.8 428.5,81.8 428.8,81.8 429,81.8 429.3,81.8 429.6,81.8 429.9,81.8 430.1,81.8 430.4,81.8 430.7,81.8 430.9,81.8 431.2,81.8 431.5,81.8 431.7,81.9 432,81.9 432.3,81.9 432.6,81.9 432.8,81.9 433.1,81.9 433.4,81.9 433.6,81.9 433.9,81.9 434.2,81.9 434.4,81.9 434.7,81.9 435,81.9 435.3,81.9 435.5,81.8 435.8,81.8 436.1,81.8 436.3,81.8 436.6,81.8 436.9,81.8 437.1,81.8 437.4,81.8 437.7,81.8 438,81.8 438.2,81.8 438.5,81.8 438.8,81.8 439,81.9 439.3,81.9 439.6,81.9 439.9,81.9 440.1,81.9 440.4,81.9 440.7,81.9 440.9,81.9 441.2,81.9 441.5,81.9 441.7,81.9 442,81.9 442.3,81.9 442.6,81.8 442.8,81.8 443.1,81.8 443.4,81.8 443.6,81.8 443.9,81.8 444.2,81.8 444.4,81.7 444.7,81.7 445,81.7 445.3,81.7 445.5,81.8 445.8,81.8 446.1,81.8 446.3,81.9 446.6,82 446.9,82.1 447.1,82.2 447.4,82.3 447.7,82.4 448,82.5 448.2,82.5 448.5,82.5 448.8,82.5 449,82.4 449.3,82.2 449.6,82 449.8,81.7 450.1,81.3 450.4,80.9 450.7,80.5 450.9,80 451.2,79.7 451.5,79.4 451.7,79.2 452,79.1 452.3,79.3 452.5,79.7 452.8,80.3 453.1,81.1 453.4,82.1 453.6,83.3 453.9,84.7 454.2,86 454.4,87.3 454.7,88.5 455,89.4 455.3,89.9 455.5,90 455.8,89.5 456.1,88.4 456.3,86.8 456.6,84.6 456.9,82 457.1,79 457.4,75.8 457.7,72.6 458,69.7 458.2,67.1 458.5,65.3 458.8,64.2 459,64.2 459.3,65.3 459.6,67.5 459.8,70.7 460.1,75 460.4,80 460.7,85.5 460.9,91.1 461.2,96.6 461.5,101.6 461.7,105.7 462,108.6 462.3,110.1 462.5,109.9 462.8,108.1 463.1,104.7 463.4,99.8 463.6,93.7 463.9,86.7 464.2,79.2 464.4,71.7 464.7,64.7 465,58.5 465.2,53.6 465.5,50.3 465.8,48.8 466.1,49.1 466.3,51.4 466.6,55.4 466.9,60.8 467.1,67.4 467.4,74.7 467.7,82.2 467.9,89.5 468.2,96.2 468.5,101.9 468.8,106.3 469,109.1 469.3,110.2 469.6,109.7 469.8,107.6 470.1,104.2 470.4,99.7 470.7,94.5 470.9,88.9 471.2,83.3 471.5,77.9 471.7,73.2 472,69.3 472.3,66.5 472.5,64.7 472.8,64.1 473.1,64.5 473.4,65.9 473.6,68.1 473.9,70.8 474.2,73.9 474.4,77.1 474.7,80.2 475,83.1 475.2,85.6 475.5,87.5 475.8,88.9 476.1,89.7 476.3,90 476.6,89.7 476.9,89.1 477.1,88.1 477.4,86.8 477.7,85.5 477.9,84.1 478.2,82.8 478.5,81.7 478.8,80.7 479,80 479.3,79.5 479.6,79.2 479.8,79.1 480.1,79.2 480.4,79.5 480.6,79.8 480.9,80.2 481.2,80.6 481.5,81.1 481.7,81.5 482,81.8 482.3,82.1 482.5,82.3 482.8,82.4 483.1,82.5 483.3,82.5 483.6,82.5 483.9,82.4 484.2,82.3 484.4,82.2 484.7,82.1 485,82 485.2,82 485.5,81.9 485.8,81.8 486.1,81.8 486.3,81.7 486.6,81.7 486.9,81.7 487.1,81.7 487.4,81.7 487.7,81.8 487.9,81.8 488.2,81.8 488.5,81.8 488.8,81.8 489,81.8 489.3,81.9 489.6,81.9 489.8,81.9 490.1,81.9 490.4,81.9 490.6,81.9 490.9,81.9 491.2,81.9 491.5,81.9 491.7,81.9 492,81.9 492.3,81.9 492.5,81.9 492.8,81.9 493.1,81.8 493.3,81.8 493.6,81.8 493.9,81.8 494.2,81.8 494.4,81.8 494.7,81.8 495,81.8 495.2,81.8 495.5,81.8 495.8,81.8 496,81.8 496.3,81.8 496.6,81.9 496.9,81.9 497.1,81.9 497.4,81.9 497.7,81.9 497.9,81.9 498.2,81.9 498.5,81.9 498.7,81.9 499,81.9 499.3,81.9 499.6,81.9 499.8,81.9 500.1,81.8 500.4,81.8 500.6,81.8 500.9,81.8 501.2,81.8 501.5,81.8 501.7,81.8 502,81.8 502.3,81.8 502.5,81.8 502.8,81.8 503.1,81.8 503.3,81.8 503.6,81.9 503.9,81.9" fill="none" stroke="#2c3cd0" stroke-width="0.9" stroke-linejoin="round"/>
<polyline points="423.1,81.8 423.4,81.8 423.6,81.8 423.9,81.8 424.2,81.8 424.5,81.8 424.7,81.8 425,81.8 425.3,81.8 425.5,81.8 425.8,81.9 426.1,81.9 426.3,81.9 426.6,81.9 426.9,81.9 427.2,81.9 427.4,81.9 427.7,81.9 428,81.9 428.2,81.9 428.5,81.9 428.8,81.9 429,81.9 429.3,81.8 429.6,81.8 429.9,81.8 430.1,81.8 430.4,81.8 430.7,81.8 430.9,81.8 431.2,81.8 431.5,81.8 431.7,81.8 432,81.8 432.3,81.8 432.6,81.8 432.8,81.9 433.1,81.9 433.4,81.9 433.6,81.9 433.9,81.9 434.2,81.9 434.4,81.9 434.7,81.9 435,81.9 435.3,81.9 435.5,81.9 435.8,81.9 436.1,81.9 436.3,81.9 436.6,81.8 436.9,81.8 437.1,81.8 437.4,81.8 437.7,81.8 438,81.8 438.2,81.8 438.5,81.8 438.8,81.8 439,81.8 439.3,81.8 439.6,81.8 439.9,81.8 440.1,81.9 440.4,81.9 440.7,81.9 440.9,81.9 441.2,81.9 441.5,81.9 441.7,81.9 442,81.9 442.3,81.9 442.6,81.9 442.8,81.9 443.1,81.9 443.4,81.9 443.6,81.8 443.9,81.8 444.2,81.8 444.4,81.8 444.7,81.8 445,81.8 445.3,81.8 445.5,81.8 445.8,81.7 446.1,81.7 446.3,81.8 446.6,81.8 446.9,81.8 447.1,81.9 447.4,81.9 447.7,82 448,82.1 448.2,82.2 448.5,82.3 448.8,82.3 449,82.4 449.3,82.4 449.6,82.4 449.8,82.4 450.1,82.3 450.4,82.1 450.7,81.9 450.9,81.6 451.2,81.3 451.5,80.9 451.7,80.5 452,80.1 452.3,79.8 452.5,79.6 452.8,79.4 453.1,79.4 453.4,79.6 453.6,80 453.9,80.6 454.2,81.3 454.4,82.3 454.7,83.4 455,84.7 455.3,85.9 455.5,87 455.8,88 456.1,88.8 456.3,89.2 456.6,89.1 456.9,88.6 457.1,87.5 457.4,86 457.7,83.9 458,81.4 458.2,78.7 458.5,75.8 458.8,72.9 459,70.3 459.3,68.2 459.6,66.6 459.8,65.9 460.1,66 460.4,67.2 460.7,69.4 460.9,72.6 461.2,76.5 461.5,81.2 461.7,86.2 462,91.3 462.3,96.2 462.5,100.5 462.8,104 463.1,106.4 463.4,107.4 463.6,107 463.9,105 464.2,101.7 464.4,97 464.7,91.3 465,84.8 465.2,78.1 465.5,71.3 465.8,65.1 466.1,59.8 466.3,55.6 466.6,53 466.9,51.9 467.1,52.6 467.4,55 467.7,58.9 467.9,64 468.2,70.1 468.5,76.8 468.8,83.6 469,90.1 469.3,96 469.6,100.9 469.8,104.5 470.1,106.7 470.4,107.4 470.7,106.7 470.9,104.6 471.2,101.3 471.5,97 471.7,92.2 472,87.1 472.3,82.1 472.5,77.4 472.8,73.2 473.1,69.9 473.4,67.6 473.6,66.2 473.9,65.8 474.2,66.4 474.4,67.8 474.7,69.9 475,72.4 475.2,75.2 475.5,78.1 475.8,80.9 476.1,83.5 476.3,85.6 476.6,87.3 476.9,88.4 477.1,89.1 477.4,89.2 477.7,88.9 477.9,88.2 478.2,87.2 478.5,86.1 478.8,84.9 479,83.7 479.3,82.5 479.6,81.5 479.8,80.7 480.1,80.1 480.4,79.6 480.6,79.4 480.9,79.4 481.2,79.5 481.5,79.8 481.7,80.1 482,80.5 482.3,80.8 482.5,81.2 482.8,81.6 483.1,81.9 483.3,82.1 483.6,82.3 483.9,82.4 484.2,82.4 484.4,82.5 484.7,82.4 485,82.4 485.2,82.3 485.5,82.2 485.8,82.1 486.1,82 486.3,81.9 486.6,81.9 486.9,81.8 487.1,81.8 487.4,81.8 487.7,81.7 487.9,81.7 488.2,81.7 488.5,81.8 488.8,81.8 489,81.8 489.3,81.8 489.6,81.8 489.8,81.8 490.1,81.8 490.4,81.9 490.6,81.9 490.9,81.9 491.2,81.9 491.5,81.9 491.7,81.9 492,81.9 492.3,81.9 492.5,81.9 492.8,81.9 493.1,81.9 493.3,81.9 493.6,81.9 493.9,81.8 494.2,81.8 494.4,81.8 494.7,81.8 495,81.8 495.2,81.8 495.5,81.8 495.8,81.8 496,81.8 496.3,81.8 496.6,81.8 496.9,81.8 497.1,81.8 497.4,81.8 497.7,81.9 497.9,81.9 498.2,81.9 498.5,81.9 498.7,81.9 499,81.9 499.3,81.9 499.6,81.9 499.8,81.9 500.1,81.9 500.4,81.9 500.6,81.9 500.9,81.9 501.2,81.8 501.5,81.8 501.7,81.8 502,81.8 502.3,81.8 502.5,81.8 502.8,81.8 503.1,81.8 503.3,81.8 503.6,81.8 503.9,81.8" fill="none" stroke="#26262c" stroke-width="1" stroke-linejoin="round"/>
</g>
<line x1="423.1" y1="125.2" x2="530.9" y2="125.2" stroke="#8a8a8a" stroke-width="1.2"/>
<line x1="423.1" y1="38.5" x2="530.9" y2="38.5" stroke="#9a9aa6" stroke-width="1"/>
<line x1="530.9" y1="38.5" x2="530.9" y2="125.2" stroke="#8e8e96" stroke-width="1"/>
<line x1="423.1" y1="38.5" x2="423.1" y2="125.2" stroke="#a4bcbc" stroke-width="1.3"/>
<line x1="421.6" y1="125.2" x2="423.1" y2="125.2" stroke="#889" stroke-width="0.8"/>
<line x1="421.6" y1="114.4" x2="423.1" y2="114.4" stroke="#889" stroke-width="0.8"/>
<line x1="421.6" y1="103.5" x2="423.1" y2="103.5" stroke="#889" stroke-width="0.8"/>
<line x1="421.6" y1="92.7" x2="423.1" y2="92.7" stroke="#889" stroke-width="0.8"/>
<line x1="421.6" y1="81.8" x2="423.1" y2="81.8" stroke="#889" stroke-width="0.8"/>
<line x1="421.6" y1="71" x2="423.1" y2="71" stroke="#889" stroke-width="0.8"/>
<line x1="421.6" y1="60.2" x2="423.1" y2="60.2" stroke="#889" stroke-width="0.8"/>
<line x1="421.6" y1="49.3" x2="423.1" y2="49.3" stroke="#889" stroke-width="0.8"/>
<line x1="421.6" y1="38.5" x2="423.1" y2="38.5" stroke="#889" stroke-width="0.8"/>
<line x1="423.1" y1="125.2" x2="423.1" y2="123.7" stroke="#888" stroke-width="0.8"/>
<line x1="450.1" y1="125.2" x2="450.1" y2="123.7" stroke="#888" stroke-width="0.8"/>
<line x1="477" y1="125.2" x2="477" y2="123.7" stroke="#888" stroke-width="0.8"/>
<line x1="504" y1="125.2" x2="504" y2="123.7" stroke="#888" stroke-width="0.8"/>
<line x1="530.9" y1="125.2" x2="530.9" y2="123.7" stroke="#888" stroke-width="0.8"/>
<text x="423.1" y="137" font-size="10.5" text-anchor="middle">0</text>
<text x="477" y="137" font-size="10.5" text-anchor="middle">20</text>
<text x="530.9" y="137" font-size="10.5" text-anchor="middle">40</text>
<g clip-path="url(#clip20)">
<polyline points="555.6,81.8 555.9,81.8 556.1,81.8 556.4,81.8 556.7,81.8 557,81.8 557.2,81.8 557.5,81.8 557.8,81.8 558,81.8 558.3,81.8 558.6,81.8 558.8,81.8 559.1,81.8 559.4,81.8 559.7,81.8 559.9,81.8 560.2,81.8 560.5,81.8 560.7,81.8 561,81.8 561.3,81.8 561.5,81.8 561.8,81.8 562.1,81.8 562.4,81.8 562.6,81.8 562.9,81.8 563.2,81.8 563.4,81.8 563.7,81.8 564,81.8 564.2,81.8 564.5,81.8 564.8,81.8 565.1,81.8 565.3,81.8 565.6,81.8 565.9,81.8 566.1,81.8 566.4,81.8 566.7,81.8 566.9,81.8 567.2,81.8 567.5,81.8 567.8,81.8 568,81.8 568.3,81.8 568.6,81.8 568.8,81.8 569.1,81.8 569.4,81.8 569.6,81.8 569.9,81.8 570.2,81.8 570.5,81.8 570.7,81.8 571,81.8 571.3,81.7 571.5,81.7 571.8,81.7 572.1,81.7 572.4,81.7 572.6,81.7 572.9,81.6 573.2,81.6 573.4,81.6 573.7,81.6 574,81.5 574.2,81.5 574.5,81.5 574.8,81.4 575.1,81.4 575.3,81.3 575.6,81.3 575.9,81.2 576.1,81.2 576.4,81.1 576.7,81 576.9,81 577.2,80.9 577.5,80.8 577.8,80.7 578,80.6 578.3,80.5 578.6,80.4 578.8,80.2 579.1,80.1 579.4,80 579.6,79.8 579.9,79.6 580.2,79.5 580.5,79.3 580.7,79.1 581,78.9 581.3,78.6 581.5,78.4 581.8,78.2 582.1,77.9 582.3,77.6 582.6,77.3 582.9,77 583.2,76.7 583.4,76.4 583.7,76 584,75.6 584.2,75.2 584.5,74.8 584.8,74.4 585,74 585.3,73.6 585.6,73.1 585.9,72.6 586.1,72.1 586.4,71.6 586.7,71.1 586.9,70.5 587.2,70 587.5,69.4 587.8,68.8 588,68.2 588.3,67.6 588.6,67 588.8,66.4 589.1,65.8 589.4,65.1 589.6,64.5 589.9,63.8 590.2,63.2 590.5,62.5 590.7,61.9 591,61.2 591.3,60.5 591.5,59.9 591.8,59.3 592.1,58.6 592.3,58 592.6,57.4 592.9,56.8 593.2,56.2 593.4,55.6 593.7,55 594,54.5 594.2,53.9 594.5,53.4 594.8,53 595,52.5 595.3,52.1 595.6,51.7 595.9,51.3 596.1,51 596.4,50.6 596.7,50.4 596.9,50.1 597.2,49.9 597.5,49.7 597.7,49.6 598,49.5 598.3,49.4 598.6,49.3 598.8,49.3 599.1,49.4 599.4,49.4 599.6,49.5 599.9,49.6 600.2,49.8 600.4,49.9 600.7,50.1 601,50.4 601.3,50.6 601.5,50.9 601.8,51.2 602.1,51.6 602.3,51.9 602.6,52.3 602.9,52.7 603.2,53.1 603.4,53.6 603.7,54 604,54.5 604.2,55 604.5,55.5 604.8,56 605,56.6 605.3,57.1 605.6,57.7 605.9,58.2 606.1,58.8 606.4,59.4 606.7,60 606.9,60.6 607.2,61.2 607.5,61.8 607.7,62.4 608,63 608.3,63.6 608.6,64.1 608.8,64.7 609.1,65.3 609.4,65.9 609.6,66.5 609.9,67 610.2,67.6 610.4,68.1 610.7,68.7 611,69.2 611.3,69.7 611.5,70.2 611.8,70.7 612.1,71.2 612.3,71.7 612.6,72.2 612.9,72.6 613.1,73.1 613.4,73.5 613.7,73.9 614,74.3 614.2,74.7 614.5,75 614.8,75.4 615,75.8 615.3,76.1 615.6,76.4 615.8,76.7 616.1,77 616.4,77.3 616.7,77.5 616.9,77.8 617.2,78 617.5,78.3 617.7,78.5 618,78.7 618.3,78.9 618.6,79.1 618.8,79.3 619.1,79.5 619.4,79.6 619.6,79.8 619.9,79.9 620.2,80 620.4,80.2 620.7,80.3 621,80.4 621.3,80.5 621.5,80.6 621.8,80.7 622.1,80.8 622.3,80.9 622.6,80.9 622.9,81 623.1,81.1 623.4,81.1 623.7,81.2 624,81.3 624.2,81.3 624.5,81.3 624.8,81.4 625,81.4 625.3,81.5 625.6,81.5 625.8,81.5 626.1,81.6 626.4,81.6 626.7,81.6 626.9,81.6 627.2,81.7 627.5,81.7 627.7,81.7 628,81.7 628.3,81.7 628.5,81.7 628.8,81.7 629.1,81.8 629.4,81.8 629.6,81.8 629.9,81.8 630.2,81.8 630.4,81.8 630.7,81.8 631,81.8 631.2,81.8 631.5,81.8 631.8,81.8 632.1,81.8 632.3,81.8 632.6,81.8 632.9,81.8 633.1,81.8 633.4,81.8 633.7,81.8 634,81.8 634.2,81.8 634.5,81.8 634.8,81.8 635,81.8 635.3,81.8 635.6,81.8 635.8,81.8 636.1,81.8 636.4,81.8 636.7,81.8 636.9,81.8 637.2,81.8 637.5,81.8 637.7,81.8 638,81.8 638.3,81.8 638.5,81.8 638.8,81.8 639.1,81.8 639.4,81.8 639.6,81.8 639.9,81.8 640.2,81.8 640.4,81.8 640.7,81.8 641,81.8 641.2,81.8 641.5,81.8 641.8,81.8 642.1,81.8 642.3,81.8 642.6,81.8 642.9,81.8 643.1,81.8 643.4,81.8 643.7,81.8 643.9,81.8 644.2,81.8 644.5,81.8 644.8,81.8 645,81.8 645.3,81.8 645.6,81.8 645.8,81.8 646.1,81.8 646.4,81.8 646.6,81.8 646.9,81.8 647.2,81.8 647.5,81.8 647.7,81.8 648,81.8 648.3,81.8 648.5,81.8 648.8,81.8 649.1,81.8 649.4,81.8 649.6,81.8 649.9,81.8 650.2,81.8 650.4,81.8 650.7,81.8 651,81.8 651.2,81.8 651.5,81.8 651.8,81.8 652.1,81.8 652.3,81.8 652.6,81.8 652.9,81.8 653.1,81.8 653.4,81.8 653.7,81.8 653.9,81.8 654.2,81.8 654.5,81.8 654.8,81.8 655,81.8 655.3,81.8 655.6,81.8 655.8,81.8 656.1,81.8 656.4,81.8 656.6,81.8 656.9,81.8 657.2,81.8 657.5,81.8 657.7,81.8 658,81.8 658.3,81.8 658.5,81.8 658.8,81.8 659.1,81.8 659.3,81.8 659.6,81.8 659.9,81.8 660.2,81.8 660.4,81.8 660.7,81.8 661,81.8 661.2,81.8 661.5,81.8 661.8,81.8 662,81.8 662.3,81.8 662.6,81.8 662.9,81.8 663.1,81.8 663.4,81.8" fill="none" stroke="#339040" stroke-width="1.1" stroke-linejoin="round"/>
<polyline points="555.6,81.8 555.9,81.8 556.1,81.8 556.4,81.9 556.7,81.9 557,81.9 557.2,81.9 557.5,81.9 557.8,81.9 558,81.9 558.3,81.9 558.6,81.9 558.8,81.9 559.1,81.9 559.4,81.9 559.7,81.9 559.9,81.9 560.2,81.8 560.5,81.8 560.7,81.8 561,81.8 561.3,81.8 561.5,81.8 561.8,81.8 562.1,81.8 562.4,81.8 562.6,81.8 562.9,81.8 563.2,81.8 563.4,81.8 563.7,81.9 564,81.9 564.2,81.9 564.5,81.9 564.8,81.9 565.1,81.9 565.3,81.9 565.6,81.9 565.9,81.9 566.1,81.9 566.4,81.9 566.7,81.9 566.9,81.9 567.2,81.8 567.5,81.8 567.8,81.8 568,81.8 568.3,81.8 568.6,81.8 568.8,81.8 569.1,81.8 569.4,81.8 569.6,81.8 569.9,81.8 570.2,81.8 570.5,81.8 570.7,81.8 571,81.9 571.3,81.9 571.5,81.9 571.8,82 572.1,82 572.4,82.1 572.6,82.1 572.9,82.1 573.2,82.1 573.4,82.1 573.7,82 574,82 574.2,81.9 574.5,81.8 574.8,81.7 575.1,81.5 575.3,81.4 575.6,81.2 575.9,81.1 576.1,81 576.4,81 576.7,81 576.9,81 577.2,81.1 577.5,81.4 577.8,81.6 578,82 578.3,82.4 578.6,82.8 578.8,83.3 579.1,83.7 579.4,84.1 579.6,84.4 579.9,84.5 580.2,84.6 580.5,84.4 580.7,84 581,83.5 581.3,82.7 581.5,81.8 581.8,80.7 582.1,79.6 582.3,78.5 582.6,77.4 582.9,76.4 583.2,75.7 583.4,75.3 583.7,75.2 584,75.5 584.2,76.3 584.5,77.6 584.8,79.3 585,81.3 585.3,83.6 585.6,86 585.9,88.5 586.1,90.8 586.4,92.7 586.7,94.2 586.9,95.1 587.2,95.3 587.5,94.6 587.8,93.1 588,90.8 588.3,87.8 588.6,84.1 588.8,80 589.1,75.7 589.4,71.4 589.6,67.4 589.9,64 590.2,61.5 590.5,60 590.7,59.7 591,60.7 591.3,63 591.5,66.5 591.8,71.1 592.1,76.7 592.3,82.7 592.6,89.1 592.9,95.2 593.2,100.9 593.4,105.7 593.7,109.2 594,111.3 594.2,111.8 594.5,110.6 594.8,107.6 595,103.1 595.3,97.3 595.6,90.5 595.9,83.1 596.1,75.4 596.4,68.1 596.7,61.4 596.9,55.8 597.2,51.7 597.5,49.3 597.7,48.7 598,50 598.3,53.1 598.6,57.8 598.8,63.8 599.1,70.8 599.4,78.3 599.6,85.9 599.9,93.2 600.2,99.7 600.4,105 600.7,108.9 601,111.2 601.3,111.8 601.5,110.7 601.8,108 602.1,104 602.3,98.8 602.6,92.9 602.9,86.6 603.2,80.4 603.4,74.5 603.7,69.3 604,65 604.2,61.9 604.5,60.1 604.8,59.6 605,60.4 605.3,62.3 605.6,65.2 605.9,68.9 606.1,73 606.4,77.3 606.7,81.6 606.9,85.6 607.2,89 607.5,91.8 607.7,93.8 608,95 608.3,95.3 608.6,94.9 608.8,93.7 609.1,92 609.4,89.9 609.6,87.5 609.9,85.1 610.2,82.7 610.4,80.5 610.7,78.6 611,77.1 611.3,76 611.5,75.4 611.8,75.2 612.1,75.4 612.3,75.9 612.6,76.8 612.9,77.8 613.1,78.9 613.4,80 613.7,81.2 614,82.2 614.2,83 614.5,83.7 614.8,84.2 615,84.5 615.3,84.6 615.6,84.5 615.8,84.3 616.1,83.9 616.4,83.5 616.7,83.1 616.9,82.6 617.2,82.2 617.5,81.8 617.7,81.5 618,81.3 618.3,81.1 618.6,81 618.8,80.9 619.1,81 619.4,81 619.6,81.2 619.9,81.3 620.2,81.4 620.4,81.6 620.7,81.7 621,81.8 621.3,81.9 621.5,82 621.8,82.1 622.1,82.1 622.3,82.1 622.6,82.1 622.9,82.1 623.1,82 623.4,82 623.7,82 624,81.9 624.2,81.9 624.5,81.9 624.8,81.8 625,81.8 625.3,81.8 625.6,81.8 625.8,81.8 626.1,81.8 626.4,81.8 626.7,81.8 626.9,81.8 627.2,81.8 627.5,81.8 627.7,81.8 628,81.8 628.3,81.9 628.5,81.9 628.8,81.9 629.1,81.9 629.4,81.9 629.6,81.9 629.9,81.9 630.2,81.9 630.4,81.9 630.7,81.9 631,81.9 631.2,81.9 631.5,81.9 631.8,81.9 632.1,81.8 632.3,81.8 632.6,81.8 632.9,81.8 633.1,81.8 633.4,81.8 633.7,81.8 634,81.8 634.2,81.8 634.5,81.8 634.8,81.8 635,81.8 635.3,81.8 635.6,81.9 635.8,81.9 636.1,81.9 636.4,81.9" fill="none" stroke="#2c3cd0" stroke-width="0.9" stroke-linejoin="round"/>
<polyline points="555.6,81.8 555.9,81.8 556.1,81.8 556.4,81.8 556.7,81.8 557,81.8 557.2,81.8 557.5,81.9 557.8,81.9 558,81.9 558.3,81.9 558.6,81.9 558.8,81.9 559.1,81.9 559.4,81.9 559.7,81.9 559.9,81.9 560.2,81.9 560.5,81.9 560.7,81.9 561,81.8 561.3,81.8 561.5,81.8 561.8,81.8 562.1,81.8 562.4,81.8 562.6,81.8 562.9,81.8 563.2,81.8 563.4,81.8 563.7,81.8 564,81.8 564.2,81.8 564.5,81.8 564.8,81.9 565.1,81.9 565.3,81.9 565.6,81.9 565.9,81.9 566.1,81.9 566.4,81.9 566.7,81.9 566.9,81.9 567.2,81.9 567.5,81.9 567.8,81.9 568,81.9 568.3,81.8 568.6,81.8 568.8,81.8 569.1,81.8 569.4,81.8 569.6,81.8 569.9,81.8 570.2,81.8 570.5,81.8 570.7,81.8 571,81.8 571.3,81.8 571.5,81.8 571.8,81.9 572.1,81.9 572.4,81.9 572.6,81.9 572.9,82 573.2,82 573.4,82 573.7,82.1 574,82.1 574.2,82.1 574.5,82 574.8,82 575.1,81.9 575.3,81.9 575.6,81.8 575.9,81.6 576.1,81.5 576.4,81.4 576.7,81.3 576.9,81.2 577.2,81.1 577.5,81 577.8,81 578,81.1 578.3,81.2 578.6,81.4 578.8,81.7 579.1,82 579.4,82.4 579.6,82.8 579.9,83.2 580.2,83.6 580.5,83.9 580.7,84.2 581,84.3 581.3,84.3 581.5,84.1 581.8,83.7 582.1,83.2 582.3,82.5 582.6,81.6 582.9,80.6 583.2,79.6 583.4,78.6 583.7,77.6 584,76.8 584.2,76.2 584.5,75.9 584.8,75.9 585,76.3 585.3,77.1 585.6,78.3 585.9,79.9 586.1,81.8 586.4,83.9 586.7,86.1 586.9,88.3 587.2,90.3 587.5,92 587.8,93.2 588,93.9 588.3,93.9 588.6,93.2 588.8,91.7 589.1,89.4 589.4,86.5 589.6,83.1 589.9,79.4 590.2,75.5 590.5,71.6 590.7,68.1 591,65.2 591.3,63.1 591.5,62 591.8,61.9 592.1,63.1 592.3,65.4 592.6,68.8 592.9,73.2 593.2,78.3 593.4,83.8 593.7,89.5 594,95 594.2,100 594.5,104.1 594.8,107.1 595,108.7 595.3,108.8 595.6,107.3 595.9,104.4 596.1,100 596.4,94.6 596.7,88.3 596.9,81.5 597.2,74.6 597.5,68.1 597.7,62.3 598,57.5 598.3,54.1 598.6,52.2 598.8,52.1 599.1,53.6 599.4,56.7 599.6,61.2 599.9,66.9 600.2,73.3 600.4,80.1 600.7,87 601,93.4 601.3,99 601.5,103.6 601.8,106.8 602.1,108.6 602.3,108.8 602.6,107.5 602.9,104.8 603.2,100.9 603.4,96.1 603.7,90.7 604,85 604.2,79.4 604.5,74.2 604.8,69.6 605,66 605.3,63.4 605.6,62.1 605.9,61.9 606.1,62.8 606.4,64.7 606.7,67.5 606.9,70.9 607.2,74.7 607.5,78.6 607.7,82.4 608,85.9 608.3,88.9 608.6,91.3 608.8,92.9 609.1,93.8 609.4,94 609.6,93.4 609.9,92.3 610.2,90.7 610.4,88.7 610.7,86.5 611,84.3 611.3,82.2 611.5,80.2 611.8,78.6 612.1,77.3 612.3,76.4 612.6,75.9 612.9,75.8 613.1,76.1 613.4,76.6 613.7,77.4 614,78.4 614.2,79.4 614.5,80.4 614.8,81.4 615,82.3 615.3,83.1 615.6,83.6 615.8,84 616.1,84.2 616.4,84.3 616.7,84.2 616.9,84 617.2,83.7 617.5,83.3 617.7,82.9 618,82.5 618.3,82.1 618.6,81.8 618.8,81.5 619.1,81.3 619.4,81.1 619.6,81.1 619.9,81 620.2,81.1 620.4,81.1 620.7,81.2 621,81.4 621.3,81.5 621.5,81.6 621.8,81.7 622.1,81.8 622.3,81.9 622.6,82 622.9,82 623.1,82.1 623.4,82.1 623.7,82.1 624,82 624.2,82 624.5,82 624.8,81.9 625,81.9 625.3,81.9 625.6,81.9 625.8,81.8 626.1,81.8 626.4,81.8 626.7,81.8 626.9,81.8 627.2,81.8 627.5,81.8 627.7,81.8 628,81.8 628.3,81.8 628.5,81.8 628.8,81.8 629.1,81.8 629.4,81.9 629.6,81.9 629.9,81.9 630.2,81.9 630.4,81.9 630.7,81.9 631,81.9 631.2,81.9 631.5,81.9 631.8,81.9 632.1,81.9 632.3,81.9 632.6,81.9 632.9,81.8 633.1,81.8 633.4,81.8 633.7,81.8 634,81.8 634.2,81.8 634.5,81.8 634.8,81.8 635,81.8 635.3,81.8 635.6,81.8 635.8,81.8 636.1,81.8 636.4,81.8" fill="none" stroke="#26262c" stroke-width="1" stroke-linejoin="round"/>
</g>
<line x1="555.6" y1="125.2" x2="663.4" y2="125.2" stroke="#8a8a8a" stroke-width="1.2"/>
<line x1="555.6" y1="38.5" x2="663.4" y2="38.5" stroke="#9a9aa6" stroke-width="1"/>
<line x1="663.4" y1="38.5" x2="663.4" y2="125.2" stroke="#8e8e96" stroke-width="1"/>
<line x1="555.6" y1="38.5" x2="555.6" y2="125.2" stroke="#a4bcbc" stroke-width="1.3"/>
<line x1="554.1" y1="125.2" x2="555.6" y2="125.2" stroke="#889" stroke-width="0.8"/>
<line x1="554.1" y1="114.4" x2="555.6" y2="114.4" stroke="#889" stroke-width="0.8"/>
<line x1="554.1" y1="103.5" x2="555.6" y2="103.5" stroke="#889" stroke-width="0.8"/>
<line x1="554.1" y1="92.7" x2="555.6" y2="92.7" stroke="#889" stroke-width="0.8"/>
<line x1="554.1" y1="81.8" x2="555.6" y2="81.8" stroke="#889" stroke-width="0.8"/>
<line x1="554.1" y1="71" x2="555.6" y2="71" stroke="#889" stroke-width="0.8"/>
<line x1="554.1" y1="60.2" x2="555.6" y2="60.2" stroke="#889" stroke-width="0.8"/>
<line x1="554.1" y1="49.3" x2="555.6" y2="49.3" stroke="#889" stroke-width="0.8"/>
<line x1="554.1" y1="38.5" x2="555.6" y2="38.5" stroke="#889" stroke-width="0.8"/>
<line x1="555.6" y1="125.2" x2="555.6" y2="123.7" stroke="#888" stroke-width="0.8"/>
<line x1="582.6" y1="125.2" x2="582.6" y2="123.7" stroke="#888" stroke-width="0.8"/>
<line x1="609.5" y1="125.2" x2="609.5" y2="123.7" stroke="#888" stroke-width="0.8"/>
<line x1="636.5" y1="125.2" x2="636.5" y2="123.7" stroke="#888" stroke-width="0.8"/>
<line x1="663.4" y1="125.2" x2="663.4" y2="123.7" stroke="#888" stroke-width="0.8"/>
<text x="555.6" y="137" font-size="10.5" text-anchor="middle">0</text>
<text x="609.5" y="137" font-size="10.5" text-anchor="middle">20</text>
<text x="663.4" y="137" font-size="10.5" text-anchor="middle">40</text>
<g clip-path="url(#clip01)">
<polyline points="290.6,202.9 290.9,202.9 291.1,202.9 291.4,202.9 291.7,202.9 292,202.9 292.2,202.9 292.5,202.9 292.8,202.9 293,202.9 293.3,202.9 293.6,202.9 293.8,202.9 294.1,202.9 294.4,202.9 294.7,202.9 294.9,202.9 295.2,202.9 295.5,202.9 295.7,202.9 296,202.9 296.3,202.9 296.5,202.9 296.8,202.9 297.1,202.9 297.4,202.9 297.6,202.9 297.9,202.9 298.2,202.9 298.4,202.9 298.7,202.9 299,202.9 299.2,202.9 299.5,202.9 299.8,202.9 300.1,202.9 300.3,202.9 300.6,202.9 300.9,202.9 301.1,202.9 301.4,202.9 301.7,202.9 301.9,202.9 302.2,202.9 302.5,202.9 302.8,202.9 303,202.9 303.3,202.9 303.6,202.9 303.8,202.9 304.1,202.9 304.4,202.9 304.6,202.9 304.9,202.9 305.2,202.9 305.5,202.9 305.7,202.9 306,202.9 306.3,202.9 306.5,202.9 306.8,202.9 307.1,202.9 307.4,202.9 307.6,202.8 307.9,202.8 308.2,202.8 308.4,202.8 308.7,202.8 309,202.8 309.2,202.7 309.5,202.7 309.8,202.7 310.1,202.7 310.3,202.6 310.6,202.6 310.9,202.6 311.1,202.6 311.4,202.5 311.7,202.5 311.9,202.4 312.2,202.4 312.5,202.3 312.8,202.3 313,202.2 313.3,202.1 313.6,202.1 313.8,202 314.1,201.9 314.4,201.8 314.6,201.7 314.9,201.6 315.2,201.5 315.5,201.4 315.7,201.3 316,201.1 316.3,201 316.5,200.8 316.8,200.7 317.1,200.5 317.3,200.3 317.6,200.2 317.9,200 318.2,199.7 318.4,199.5 318.7,199.3 319,199 319.2,198.8 319.5,198.5 319.8,198.2 320,197.9 320.3,197.6 320.6,197.3 320.9,197 321.1,196.6 321.4,196.2 321.7,195.9 321.9,195.5 322.2,195.1 322.5,194.6 322.8,194.2 323,193.8 323.3,193.3 323.6,192.8 323.8,192.3 324.1,191.8 324.4,191.3 324.6,190.8 324.9,190.2 325.2,189.7 325.5,189.1 325.7,188.6 326,188 326.3,187.4 326.5,186.8 326.8,186.2 327.1,185.6 327.3,185 327.6,184.4 327.9,183.8 328.2,183.2 328.4,182.6 328.7,181.9 329,181.3 329.2,180.7 329.5,180.1 329.8,179.5 330,179 330.3,178.4 330.6,177.8 330.9,177.3 331.1,176.7 331.4,176.2 331.7,175.7 331.9,175.2 332.2,174.7 332.5,174.3 332.7,173.9 333,173.5 333.3,173.1 333.6,172.7 333.8,172.4 334.1,172.1 334.4,171.8 334.6,171.6 334.9,171.3 335.2,171.2 335.4,171 335.7,170.9 336,170.8 336.3,170.7 336.5,170.7 336.8,170.7 337.1,170.7 337.3,170.7 337.6,170.8 337.9,170.9 338.2,171 338.4,171.2 338.7,171.4 339,171.6 339.2,171.8 339.5,172.1 339.8,172.3 340,172.6 340.3,172.9 340.6,173.3 340.9,173.6 341.1,174 341.4,174.4 341.7,174.8 341.9,175.3 342.2,175.7 342.5,176.2 342.7,176.6 343,177.1 343.3,177.6 343.6,178.1 343.8,178.6 344.1,179.2 344.4,179.7 344.6,180.2 344.9,180.8 345.2,181.3 345.4,181.9 345.7,182.4 346,183 346.3,183.6 346.5,184.1 346.8,184.7 347.1,185.2 347.3,185.8 347.6,186.3 347.9,186.9 348.1,187.4 348.4,187.9 348.7,188.5 349,189 349.2,189.5 349.5,190 349.8,190.5 350,191 350.3,191.5 350.6,191.9 350.8,192.4 351.1,192.8 351.4,193.3 351.7,193.7 351.9,194.1 352.2,194.5 352.5,194.9 352.7,195.3 353,195.6 353.3,196 353.6,196.3 353.8,196.6 354.1,197 354.4,197.3 354.6,197.6 354.9,197.9 355.2,198.1 355.4,198.4 355.7,198.6 356,198.9 356.3,199.1 356.5,199.3 356.8,199.5 357.1,199.7 357.3,199.9 357.6,200.1 357.9,200.3 358.1,200.5 358.4,200.6 358.7,200.8 359,200.9 359.2,201 359.5,201.2 359.8,201.3 360,201.4 360.3,201.5 360.6,201.6 360.8,201.7 361.1,201.8 361.4,201.9 361.7,201.9 361.9,202 362.2,202.1 362.5,202.2 362.7,202.2 363,202.3 363.3,202.3 363.5,202.4 363.8,202.4 364.1,202.5 364.4,202.5 364.6,202.5 364.9,202.6 365.2,202.6 365.4,202.6 365.7,202.7 366,202.7 366.2,202.7 366.5,202.7 366.8,202.7 367.1,202.8 367.3,202.8 367.6,202.8 367.9,202.8 368.1,202.8 368.4,202.8 368.7,202.8 369,202.9 369.2,202.9 369.5,202.9 369.8,202.9 370,202.9 370.3,202.9 370.6,202.9 370.8,202.9 371.1,202.9 371.4,202.9 371.7,202.9 371.9,202.9 372.2,202.9 372.5,202.9 372.7,202.9 373,202.9 373.3,202.9 373.5,202.9 373.8,202.9 374.1,202.9 374.4,202.9 374.6,202.9 374.9,202.9 375.2,202.9 375.4,202.9 375.7,202.9 376,202.9 376.2,202.9 376.5,202.9 376.8,202.9 377.1,202.9 377.3,202.9 377.6,202.9 377.9,202.9 378.1,202.9 378.4,202.9 378.7,202.9 378.9,202.9 379.2,202.9 379.5,202.9 379.8,202.9 380,202.9 380.3,202.9 380.6,202.9 380.8,202.9 381.1,202.9 381.4,202.9 381.6,202.9 381.9,202.9 382.2,202.9 382.5,202.9 382.7,202.9 383,202.9 383.3,202.9 383.5,202.9 383.8,202.9 384.1,202.9 384.4,202.9 384.6,202.9 384.9,202.9 385.2,202.9 385.4,202.9 385.7,202.9 386,202.9 386.2,202.9 386.5,202.9 386.8,202.9 387.1,202.9 387.3,202.9 387.6,202.9 387.9,202.9 388.1,202.9 388.4,202.9 388.7,202.9 388.9,202.9 389.2,202.9 389.5,202.9 389.8,202.9 390,202.9 390.3,202.9 390.6,202.9 390.8,202.9 391.1,202.9 391.4,202.9 391.6,202.9 391.9,202.9 392.2,202.9 392.5,202.9 392.7,202.9 393,202.9 393.3,202.9 393.5,202.9 393.8,202.9 394.1,202.9 394.3,202.9 394.6,202.9 394.9,202.9 395.2,202.9 395.4,202.9 395.7,202.9 396,202.9 396.2,202.9 396.5,202.9 396.8,202.9 397,202.9 397.3,202.9 397.6,202.9 397.9,202.9 398.1,202.9 398.4,202.9" fill="none" stroke="#70d890" stroke-width="0.8" stroke-linejoin="round" stroke-dasharray="1.6,0.8"/>
<polyline points="290.6,202.9 290.9,202.9 291.1,202.9 291.4,202.9 291.7,202.9 292,202.9 292.2,202.9 292.5,202.9 292.8,202.9 293,202.9 293.3,202.9 293.6,202.9 293.8,202.9 294.1,202.9 294.4,202.9 294.7,202.9 294.9,202.9 295.2,202.9 295.5,202.9 295.7,202.9 296,202.9 296.3,202.9 296.5,202.9 296.8,202.9 297.1,202.9 297.4,202.9 297.6,202.9 297.9,202.9 298.2,202.9 298.4,202.9 298.7,202.9 299,202.9 299.2,202.9 299.5,202.9 299.8,202.9 300.1,202.9 300.3,202.9 300.6,202.9 300.9,202.9 301.1,202.9 301.4,202.9 301.7,202.9 301.9,202.9 302.2,202.9 302.5,202.9 302.8,202.9 303,202.9 303.3,202.9 303.6,202.9 303.8,202.9 304.1,202.9 304.4,202.9 304.6,202.9 304.9,202.9 305.2,202.9 305.5,202.9 305.7,202.9 306,202.9 306.3,202.9 306.5,202.9 306.8,202.9 307.1,202.9 307.4,202.9 307.6,202.9 307.9,202.9 308.2,202.9 308.4,202.9 308.7,202.9 309,202.9 309.2,202.9 309.5,202.9 309.8,202.9 310.1,202.9 310.3,202.9 310.6,202.9 310.9,202.9 311.1,202.9 311.4,202.9 311.7,202.9 311.9,202.9 312.2,202.9 312.5,202.9 312.8,202.9 313,202.9 313.3,202.9 313.6,202.8 313.8,202.8 314.1,202.8 314.4,202.8 314.6,202.8 314.9,202.7 315.2,202.7 315.5,202.7 315.7,202.7 316,202.6 316.3,202.6 316.5,202.5 316.8,202.5 317.1,202.4 317.3,202.3 317.6,202.3 317.9,202.2 318.2,202.1 318.4,202 318.7,201.9 319,201.8 319.2,201.7 319.5,201.6 319.8,201.4 320,201.3 320.3,201.1 320.6,200.9 320.9,200.7 321.1,200.5 321.4,200.3 321.7,200 321.9,199.8 322.2,199.5 322.5,199.2 322.8,198.9 323,198.5 323.3,198.2 323.6,197.8 323.8,197.4 324.1,197 324.4,196.5 324.6,196.1 324.9,195.6 325.2,195.1 325.5,194.5 325.7,194 326,193.4 326.3,192.8 326.5,192.2 326.8,191.5 327.1,190.9 327.3,190.2 327.6,189.5 327.9,188.8 328.2,188.1 328.4,187.3 328.7,186.6 329,185.8 329.2,185.1 329.5,184.3 329.8,183.5 330,182.8 330.3,182 330.6,181.2 330.9,180.5 331.1,179.7 331.4,179 331.7,178.3 331.9,177.6 332.2,176.9 332.5,176.2 332.7,175.6 333,175 333.3,174.4 333.6,173.9 333.8,173.4 334.1,172.9 334.4,172.5 334.6,172.1 334.9,171.7 335.2,171.4 335.4,171.2 335.7,171 336,170.8 336.3,170.7 336.5,170.7 336.8,170.7 337.1,170.7 337.3,170.8 337.6,171 337.9,171.2 338.2,171.4 338.4,171.7 338.7,172 339,172.4 339.2,172.8 339.5,173.3 339.8,173.8 340,174.3 340.3,174.9 340.6,175.5 340.9,176.1 341.1,176.8 341.4,177.5 341.7,178.2 341.9,178.9 342.2,179.6 342.5,180.4 342.7,181.1 343,181.9 343.3,182.6 343.6,183.4 343.8,184.2 344.1,185 344.4,185.7 344.6,186.5 344.9,187.2 345.2,188 345.4,188.7 345.7,189.4 346,190.1 346.3,190.8 346.5,191.4 346.8,192.1 347.1,192.7 347.3,193.3 347.6,193.9 347.9,194.5 348.1,195 348.4,195.5 348.7,196 349,196.5 349.2,196.9 349.5,197.3 349.8,197.7 350,198.1 350.3,198.5 350.6,198.8 350.8,199.1 351.1,199.4 351.4,199.7 351.7,200 351.9,200.2 352.2,200.5 352.5,200.7 352.7,200.9 353,201.1 353.3,201.2 353.6,201.4 353.8,201.5 354.1,201.7 354.4,201.8 354.6,201.9 354.9,202 355.2,202.1 355.4,202.2 355.7,202.3 356,202.3 356.3,202.4 356.5,202.5 356.8,202.5 357.1,202.6 357.3,202.6 357.6,202.6 357.9,202.7 358.1,202.7 358.4,202.7 358.7,202.8 359,202.8 359.2,202.8 359.5,202.8 359.8,202.8 360,202.9 360.3,202.9 360.6,202.9 360.8,202.9 361.1,202.9 361.4,202.9 361.7,202.9 361.9,202.9 362.2,202.9 362.5,202.9 362.7,202.9 363,202.9 363.3,202.9 363.5,202.9 363.8,202.9 364.1,202.9 364.4,202.9 364.6,202.9 364.9,202.9 365.2,202.9 365.4,202.9 365.7,202.9 366,202.9 366.2,202.9 366.5,202.9 366.8,202.9 367.1,202.9 367.3,202.9 367.6,202.9 367.9,202.9 368.1,202.9 368.4,202.9 368.7,202.9 369,202.9 369.2,202.9 369.5,202.9 369.8,202.9 370,202.9 370.3,202.9 370.6,202.9 370.8,202.9 371.1,202.9 371.4,202.9 371.7,202.9 371.9,202.9 372.2,202.9 372.5,202.9 372.7,202.9 373,202.9 373.3,202.9 373.5,202.9 373.8,202.9 374.1,202.9 374.4,202.9 374.6,202.9 374.9,202.9 375.2,202.9 375.4,202.9 375.7,202.9 376,202.9 376.2,202.9 376.5,202.9 376.8,202.9 377.1,202.9 377.3,202.9 377.6,202.9 377.9,202.9 378.1,202.9 378.4,202.9 378.7,202.9 378.9,202.9 379.2,202.9 379.5,202.9 379.8,202.9 380,202.9 380.3,202.9 380.6,202.9 380.8,202.9 381.1,202.9 381.4,202.9 381.6,202.9 381.9,202.9 382.2,202.9 382.5,202.9 382.7,202.9 383,202.9 383.3,202.9 383.5,202.9 383.8,202.9 384.1,202.9 384.4,202.9 384.6,202.9 384.9,202.9 385.2,202.9 385.4,202.9 385.7,202.9 386,202.9 386.2,202.9 386.5,202.9 386.8,202.9 387.1,202.9 387.3,202.9 387.6,202.9 387.9,202.9 388.1,202.9 388.4,202.9 388.7,202.9 388.9,202.9 389.2,202.9 389.5,202.9 389.8,202.9 390,202.9 390.3,202.9 390.6,202.9 390.8,202.9 391.1,202.9 391.4,202.9 391.6,202.9 391.9,202.9 392.2,202.9 392.5,202.9 392.7,202.9 393,202.9 393.3,202.9 393.5,202.9 393.8,202.9 394.1,202.9 394.3,202.9 394.6,202.9 394.9,202.9 395.2,202.9 395.4,202.9 395.7,202.9 396,202.9 396.2,202.9 396.5,202.9 396.8,202.9 397,202.9 397.3,202.9 397.6,202.9 397.9,202.9 398.1,202.9 398.4,202.9" fill="none" stroke="#2e8a4a" stroke-width="0.8" stroke-linejoin="round" stroke-dasharray="1.2,1.2"/>
<polyline points="290.6,202.9 290.9,202.9 291.1,202.9 291.4,202.9 291.7,202.9 292,202.9 292.2,202.9 292.5,202.9 292.8,202.9 293,202.9 293.3,202.9 293.6,202.9 293.8,202.9 294.1,202.9 294.4,202.9 294.7,202.9 294.9,202.9 295.2,202.9 295.5,202.9 295.7,202.9 296,202.9 296.3,202.9 296.5,202.9 296.8,202.9 297.1,202.9 297.4,202.9 297.6,202.9 297.9,202.9 298.2,202.9 298.4,202.9 298.7,202.9 299,202.9 299.2,202.9 299.5,202.9 299.8,202.9 300.1,202.9 300.3,202.9 300.6,202.9 300.9,202.9 301.1,202.9 301.4,202.9 301.7,202.9 301.9,202.9 302.2,202.9 302.5,202.9 302.8,202.9 303,202.9 303.3,202.9 303.6,202.9 303.8,202.9 304.1,202.9 304.4,202.9 304.6,202.9 304.9,202.9 305.2,202.9 305.5,202.9 305.7,202.9 306,202.9 306.3,202.9 306.5,202.9 306.8,202.9 307.1,202.9 307.4,202.9 307.6,202.9 307.9,202.9 308.2,202.9 308.4,202.9 308.7,202.9 309,202.9 309.2,202.9 309.5,202.9 309.8,202.9 310.1,202.9 310.3,202.9 310.6,202.9 310.9,202.9 311.1,202.9 311.4,202.9 311.7,202.9 311.9,202.9 312.2,202.9 312.5,202.9 312.8,202.9 313,202.9 313.3,202.9 313.6,202.9 313.8,202.9 314.1,202.9 314.4,202.9 314.6,202.9 314.9,202.9 315.2,202.9 315.5,202.9 315.7,202.9 316,202.9 316.3,202.9 316.5,202.9 316.8,202.8 317.1,202.8 317.3,202.8 317.6,202.8 317.9,202.8 318.2,202.7 318.4,202.7 318.7,202.7 319,202.6 319.2,202.6 319.5,202.5 319.8,202.4 320,202.4 320.3,202.3 320.6,202.2 320.9,202.1 321.1,202 321.4,201.9 321.7,201.7 321.9,201.6 322.2,201.4 322.5,201.2 322.8,201 323,200.8 323.3,200.6 323.6,200.3 323.8,200 324.1,199.7 324.4,199.4 324.6,199.1 324.9,198.7 325.2,198.3 325.5,197.8 325.7,197.3 326,196.9 326.3,196.3 326.5,195.8 326.8,195.2 327.1,194.6 327.3,193.9 327.6,193.2 327.9,192.5 328.2,191.8 328.4,191 328.7,190.2 329,189.4 329.2,188.6 329.5,187.7 329.8,186.9 330,186 330.3,185.1 330.6,184.2 330.9,183.3 331.1,182.4 331.4,181.5 331.7,180.6 331.9,179.7 332.2,178.8 332.5,178 332.7,177.2 333,176.4 333.3,175.7 333.6,175 333.8,174.3 334.1,173.7 334.4,173.1 334.6,172.6 334.9,172.1 335.2,171.7 335.4,171.4 335.7,171.1 336,170.9 336.3,170.7 336.5,170.7 336.8,170.7 337.1,170.7 337.3,170.9 337.6,171.1 337.9,171.3 338.2,171.7 338.4,172.1 338.7,172.5 339,173 339.2,173.6 339.5,174.2 339.8,174.9 340,175.6 340.3,176.3 340.6,177.1 340.9,177.9 341.1,178.7 341.4,179.6 341.7,180.5 341.9,181.3 342.2,182.2 342.5,183.1 342.7,184 343,184.9 343.3,185.8 343.6,186.7 343.8,187.6 344.1,188.5 344.4,189.3 344.6,190.1 344.9,190.9 345.2,191.7 345.4,192.4 345.7,193.1 346,193.8 346.3,194.5 346.5,195.1 346.8,195.7 347.1,196.2 347.3,196.8 347.6,197.3 347.9,197.8 348.1,198.2 348.4,198.6 348.7,199 349,199.4 349.2,199.7 349.5,200 349.8,200.3 350,200.6 350.3,200.8 350.6,201 350.8,201.2 351.1,201.4 351.4,201.6 351.7,201.7 351.9,201.9 352.2,202 352.5,202.1 352.7,202.2 353,202.3 353.3,202.4 353.6,202.4 353.8,202.5 354.1,202.6 354.4,202.6 354.6,202.7 354.9,202.7 355.2,202.7 355.4,202.8 355.7,202.8 356,202.8 356.3,202.8 356.5,202.8 356.8,202.9 357.1,202.9 357.3,202.9 357.6,202.9 357.9,202.9 358.1,202.9 358.4,202.9 358.7,202.9 359,202.9 359.2,202.9 359.5,202.9 359.8,202.9 360,202.9 360.3,202.9 360.6,202.9 360.8,202.9 361.1,202.9 361.4,202.9 361.7,202.9 361.9,202.9 362.2,202.9 362.5,202.9 362.7,202.9 363,202.9 363.3,202.9 363.5,202.9 363.8,202.9 364.1,202.9 364.4,202.9 364.6,202.9 364.9,202.9 365.2,202.9 365.4,202.9 365.7,202.9 366,202.9 366.2,202.9 366.5,202.9 366.8,202.9 367.1,202.9 367.3,202.9 367.6,202.9 367.9,202.9 368.1,202.9 368.4,202.9 368.7,202.9 369,202.9 369.2,202.9 369.5,202.9 369.8,202.9 370,202.9 370.3,202.9 370.6,202.9 370.8,202.9 371.1,202.9 371.4,202.9 371.7,202.9 371.9,202.9 372.2,202.9 372.5,202.9 372.7,202.9 373,202.9 373.3,202.9 373.5,202.9 373.8,202.9 374.1,202.9 374.4,202.9 374.6,202.9 374.9,202.9 375.2,202.9 375.4,202.9 375.7,202.9 376,202.9 376.2,202.9 376.5,202.9 376.8,202.9 377.1,202.9 377.3,202.9 377.6,202.9 377.9,202.9 378.1,202.9 378.4,202.9 378.7,202.9 378.9,202.9 379.2,202.9 379.5,202.9 379.8,202.9 380,202.9 380.3,202.9 380.6,202.9 380.8,202.9 381.1,202.9 381.4,202.9 381.6,202.9 381.9,202.9 382.2,202.9 382.5,202.9 382.7,202.9 383,202.9 383.3,202.9 383.5,202.9 383.8,202.9 384.1,202.9 384.4,202.9 384.6,202.9 384.9,202.9 385.2,202.9 385.4,202.9 385.7,202.9 386,202.9 386.2,202.9 386.5,202.9 386.8,202.9 387.1,202.9 387.3,202.9 387.6,202.9 387.9,202.9 388.1,202.9 388.4,202.9 388.7,202.9 388.9,202.9 389.2,202.9 389.5,202.9 389.8,202.9 390,202.9 390.3,202.9 390.6,202.9 390.8,202.9 391.1,202.9 391.4,202.9 391.6,202.9 391.9,202.9 392.2,202.9 392.5,202.9 392.7,202.9 393,202.9 393.3,202.9 393.5,202.9 393.8,202.9 394.1,202.9 394.3,202.9 394.6,202.9 394.9,202.9 395.2,202.9 395.4,202.9 395.7,202.9 396,202.9 396.2,202.9 396.5,202.9 396.8,202.9 397,202.9 397.3,202.9 397.6,202.9 397.9,202.9 398.1,202.9 398.4,202.9" fill="none" stroke="#50b0b0" stroke-width="0.8" stroke-linejoin="round" stroke-dasharray="1.2,1.2"/>
<polyline points="290.6,203 290.9,203 291.1,203 291.4,203 291.7,203 292,202.9 292.2,202.9 292.5,202.9 292.8,202.9 293,202.9 293.3,202.9 293.6,202.9 293.8,202.9 294.1,202.9 294.4,202.9 294.7,202.9 294.9,202.9 295.2,202.9 295.5,203 295.7,203 296,203 296.3,203 296.5,203 296.8,203 297.1,203 297.4,203 297.6,203 297.9,203 298.2,203 298.4,203 298.7,203 299,202.9 299.2,202.9 299.5,202.9 299.8,202.9 300.1,202.9 300.3,202.9 300.6,202.9 300.9,202.9 301.1,202.9 301.4,202.9 301.7,202.9 301.9,202.9 302.2,202.9 302.5,202.9 302.8,203 303,203 303.3,203 303.6,203.1 303.8,203.1 304.1,203.1 304.4,203.1 304.6,203.2 304.9,203.2 305.2,203.1 305.5,203.1 305.7,203.1 306,203 306.3,202.9 306.5,202.8 306.8,202.7 307.1,202.6 307.4,202.5 307.6,202.5 307.9,202.4 308.2,202.4 308.4,202.4 308.7,202.4 309,202.5 309.2,202.6 309.5,202.8 309.8,203 310.1,203.2 310.3,203.5 310.6,203.7 310.9,204 311.1,204.2 311.4,204.4 311.7,204.4 311.9,204.5 312.2,204.4 312.5,204.2 312.8,203.9 313,203.5 313.3,203 313.6,202.5 313.8,201.9 314.1,201.3 314.4,200.7 314.6,200.2 314.9,199.8 315.2,199.6 315.5,199.5 315.7,199.7 316,200.1 316.3,200.7 316.5,201.5 316.8,202.5 317.1,203.6 317.3,204.8 317.6,206.1 317.9,207.2 318.2,208.3 318.4,209.1 318.7,209.6 319,209.7 319.2,209.5 319.5,208.8 319.8,207.7 320,206.2 320.3,204.4 320.6,202.3 320.9,200.1 321.1,197.9 321.4,195.7 321.7,193.9 321.9,192.4 322.2,191.4 322.5,191.1 322.8,191.4 323,192.4 323.3,194.2 323.6,196.6 323.8,199.5 324.1,202.9 324.4,206.5 324.6,210.1 324.9,213.6 325.2,216.6 325.5,219 325.7,220.7 326,221.3 326.3,221 326.5,219.6 326.8,217.1 327.1,213.6 327.3,209.4 327.6,204.6 327.9,199.4 328.2,194.2 328.4,189.3 328.7,184.9 329,181.4 329.2,179 329.5,177.9 329.8,178.1 330,179.9 330.3,183 330.6,187.3 330.9,192.7 331.1,198.9 331.4,205.5 331.7,212.1 331.9,218.4 332.2,223.9 332.5,228.4 332.7,231.5 333,233.1 333.3,233 333.6,231.2 333.8,227.7 334.1,222.8 334.4,216.7 334.6,209.8 334.9,202.4 335.2,194.9 335.4,187.8 335.7,181.6 336,176.5 336.3,172.9 336.5,171 336.8,170.8 337.1,172.5 337.3,175.9 337.6,180.8 337.9,186.9 338.2,193.8 338.4,201.3 338.7,208.7 339,215.8 339.2,222 339.5,227.1 339.8,230.8 340,232.9 340.3,233.2 340.6,231.9 340.9,228.9 341.1,224.6 341.4,219.2 341.7,213 341.9,206.4 342.2,199.8 342.5,193.6 342.7,188.1 343,183.5 343.3,180.2 343.6,178.3 343.8,177.8 344.1,178.7 344.4,181 344.6,184.3 344.9,188.6 345.2,193.5 345.4,198.6 345.7,203.8 346,208.7 346.3,213.1 346.5,216.6 346.8,219.3 347.1,220.9 347.3,221.4 347.6,220.8 347.9,219.3 348.1,217 348.4,214 348.7,210.6 349,207 349.2,203.4 349.5,200 349.8,197 350,194.5 350.3,192.6 350.6,191.5 350.8,191.1 351.1,191.3 351.4,192.2 351.7,193.6 351.9,195.5 352.2,197.6 352.5,199.8 352.7,202 353,204.1 353.3,206 353.6,207.5 353.8,208.7 354.1,209.4 354.4,209.7 354.6,209.6 354.9,209.2 355.2,208.4 355.4,207.4 355.7,206.2 356,205 356.3,203.8 356.5,202.7 356.8,201.6 357.1,200.8 357.3,200.2 357.6,199.7 357.9,199.6 358.1,199.6 358.4,199.8 358.7,200.1 359,200.6 359.2,201.2 359.5,201.8 359.8,202.4 360,202.9 360.3,203.4 360.6,203.8 360.8,204.1 361.1,204.4 361.4,204.5 361.7,204.5 361.9,204.4 362.2,204.2 362.5,204 362.7,203.8 363,203.5 363.3,203.3 363.5,203 363.8,202.8 364.1,202.6 364.4,202.5 364.6,202.4 364.9,202.4 365.2,202.4 365.4,202.4 365.7,202.4 366,202.5 366.2,202.6 366.5,202.7 366.8,202.8 367.1,202.9 367.3,203 367.6,203 367.9,203.1 368.1,203.1 368.4,203.2 368.7,203.2 369,203.1 369.2,203.1 369.5,203.1 369.8,203.1 370,203 370.3,203 370.6,203 370.8,202.9 371.1,202.9 371.4,202.9 371.7,202.9 371.9,202.9 372.2,202.9 372.5,202.9 372.7,202.9 373,202.9 373.3,202.9 373.5,202.9 373.8,202.9 374.1,202.9 374.4,202.9 374.6,203 374.9,203 375.2,203 375.4,203 375.7,203 376,203 376.2,203 376.5,203 376.8,203 377.1,203 377.3,203 377.6,203 377.9,203 378.1,202.9 378.4,202.9 378.7,202.9 378.9,202.9 379.2,202.9 379.5,202.9 379.8,202.9 380,202.9 380.3,202.9 380.6,202.9 380.8,202.9 381.1,202.9 381.4,202.9 381.6,203 381.9,203 382.2,203 382.5,203 382.7,203 383,203 383.3,203 383.5,203 383.8,203 384.1,203 384.4,203 384.6,203 384.9,203 385.2,203 385.4,202.9 385.7,202.9 386,202.9 386.2,202.9 386.5,202.9 386.8,202.9 387.1,202.9 387.3,202.9 387.6,202.9 387.9,202.9 388.1,202.9 388.4,202.9 388.7,202.9 388.9,203 389.2,203 389.5,203 389.8,203 390,203 390.3,203 390.6,203 390.8,203 391.1,203 391.4,203 391.6,203 391.9,203 392.2,203 392.5,202.9 392.7,202.9 393,202.9 393.3,202.9 393.5,202.9 393.8,202.9 394.1,202.9 394.3,202.9 394.6,202.9 394.9,202.9 395.2,202.9 395.4,202.9 395.7,202.9 396,202.9 396.2,203 396.5,203 396.8,203 397,203 397.3,203 397.6,203 397.9,203 398.1,203 398.4,203" fill="none" stroke="#90d2ee" stroke-width="1" stroke-linejoin="round"/>
<polyline points="290.6,202.9 290.9,202.9 291.1,202.9 291.4,202.9 291.7,202.9 292,202.9 292.2,202.9 292.5,202.9 292.8,202.9 293,202.9 293.3,202.9 293.6,202.9 293.8,202.9 294.1,202.9 294.4,202.9 294.7,202.9 294.9,202.9 295.2,202.9 295.5,202.9 295.7,202.9 296,202.9 296.3,202.9 296.5,202.9 296.8,202.9 297.1,202.9 297.4,202.9 297.6,202.9 297.9,202.9 298.2,202.9 298.4,202.9 298.7,202.9 299,202.9 299.2,202.8 299.5,202.8 299.8,202.8 300.1,202.8 300.3,202.8 300.6,202.8 300.9,202.8 301.1,202.8 301.4,202.8 301.7,202.7 301.9,202.7 302.2,202.7 302.5,202.7 302.8,202.7 303,202.6 303.3,202.6 303.6,202.6 303.8,202.6 304.1,202.5 304.4,202.5 304.6,202.5 304.9,202.4 305.2,202.4 305.5,202.4 305.7,202.3 306,202.3 306.3,202.2 306.5,202.2 306.8,202.1 307.1,202.1 307.4,202 307.6,201.9 307.9,201.9 308.2,201.8 308.4,201.7 308.7,201.6 309,201.6 309.2,201.5 309.5,201.4 309.8,201.3 310.1,201.2 310.3,201.1 310.6,201 310.9,200.8 311.1,200.7 311.4,200.6 311.7,200.5 311.9,200.3 312.2,200.2 312.5,200 312.8,199.9 313,199.7 313.3,199.5 313.6,199.3 313.8,199.1 314.1,198.9 314.4,198.7 314.6,198.5 314.9,198.3 315.2,198.1 315.5,197.9 315.7,197.6 316,197.4 316.3,197.1 316.5,196.8 316.8,196.5 317.1,196.3 317.3,196 317.6,195.7 317.9,195.4 318.2,195 318.4,194.7 318.7,194.4 319,194 319.2,193.7 319.5,193.3 319.8,192.9 320,192.6 320.3,192.2 320.6,191.8 320.9,191.4 321.1,191 321.4,190.5 321.7,190.1 321.9,189.7 322.2,189.3 322.5,188.8 322.8,188.4 323,187.9 323.3,187.5 323.6,187 323.8,186.5 324.1,186.1 324.4,185.6 324.6,185.1 324.9,184.6 325.2,184.2 325.5,183.7 325.7,183.2 326,182.7 326.3,182.3 326.5,181.8 326.8,181.3 327.1,180.8 327.3,180.4 327.6,179.9 327.9,179.4 328.2,179 328.4,178.5 328.7,178.1 329,177.7 329.2,177.2 329.5,176.8 329.8,176.4 330,176 330.3,175.6 330.6,175.2 330.9,174.9 331.1,174.5 331.4,174.2 331.7,173.8 331.9,173.5 332.2,173.2 332.5,172.9 332.7,172.6 333,172.4 333.3,172.2 333.6,171.9 333.8,171.7 334.1,171.5 334.4,171.4 334.6,171.2 334.9,171.1 335.2,171 335.4,170.9 335.7,170.8 336,170.7 336.3,170.7 336.5,170.7 336.8,170.7 337.1,170.7 337.3,170.7 337.6,170.8 337.9,170.8 338.2,170.9 338.4,171 338.7,171.1 339,171.2 339.2,171.4 339.5,171.5 339.8,171.7 340,171.9 340.3,172.1 340.6,172.3 340.9,172.5 341.1,172.7 341.4,173 341.7,173.3 341.9,173.5 342.2,173.8 342.5,174.1 342.7,174.4 343,174.8 343.3,175.1 343.6,175.4 343.8,175.8 344.1,176.1 344.4,176.5 344.6,176.9 344.9,177.3 345.2,177.7 345.4,178 345.7,178.5 346,178.9 346.3,179.3 346.5,179.7 346.8,180.1 347.1,180.5 347.3,181 347.6,181.4 347.9,181.8 348.1,182.3 348.4,182.7 348.7,183.1 349,183.6 349.2,184 349.5,184.4 349.8,184.9 350,185.3 350.3,185.7 350.6,186.2 350.8,186.6 351.1,187 351.4,187.4 351.7,187.8 351.9,188.2 352.2,188.7 352.5,189.1 352.7,189.5 353,189.9 353.3,190.2 353.6,190.6 353.8,191 354.1,191.4 354.4,191.7 354.6,192.1 354.9,192.4 355.2,192.8 355.4,193.1 355.7,193.5 356,193.8 356.3,194.1 356.5,194.4 356.8,194.7 357.1,195 357.3,195.3 357.6,195.6 357.9,195.9 358.1,196.2 358.4,196.4 358.7,196.7 359,196.9 359.2,197.2 359.5,197.4 359.8,197.6 360,197.8 360.3,198.1 360.6,198.3 360.8,198.5 361.1,198.7 361.4,198.9 361.7,199 361.9,199.2 362.2,199.4 362.5,199.5 362.7,199.7 363,199.9 363.3,200 363.5,200.1 363.8,200.3 364.1,200.4 364.4,200.5 364.6,200.7 364.9,200.8 365.2,200.9 365.4,201 365.7,201.1 366,201.2 366.2,201.3 366.5,201.4 366.8,201.4 367.1,201.5 367.3,201.6 367.6,201.7 367.9,201.7 368.1,201.8 368.4,201.9 368.7,201.9 369,202 369.2,202.1 369.5,202.1 369.8,202.2 370,202.2 370.3,202.2 370.6,202.3 370.8,202.3 371.1,202.4 371.4,202.4 371.7,202.4 371.9,202.5 372.2,202.5 372.5,202.5 372.7,202.6 373,202.6 373.3,202.6 373.5,202.6 373.8,202.6 374.1,202.7 374.4,202.7 374.6,202.7 374.9,202.7 375.2,202.7 375.4,202.7 375.7,202.8 376,202.8 376.2,202.8 376.5,202.8 376.8,202.8 377.1,202.8 377.3,202.8 377.6,202.8 377.9,202.8 378.1,202.9 378.4,202.9 378.7,202.9 378.9,202.9 379.2,202.9 379.5,202.9 379.8,202.9 380,202.9 380.3,202.9 380.6,202.9 380.8,202.9 381.1,202.9 381.4,202.9 381.6,202.9 381.9,202.9 382.2,202.9 382.5,202.9 382.7,202.9 383,202.9 383.3,202.9 383.5,202.9 383.8,202.9 384.1,202.9 384.4,202.9 384.6,202.9 384.9,202.9 385.2,202.9 385.4,202.9 385.7,202.9 386,202.9 386.2,202.9 386.5,202.9 386.8,202.9 387.1,202.9 387.3,202.9 387.6,202.9 387.9,202.9 388.1,202.9 388.4,202.9 388.7,202.9 388.9,202.9 389.2,202.9 389.5,202.9 389.8,202.9 390,202.9 390.3,202.9 390.6,202.9 390.8,202.9 391.1,202.9 391.4,202.9 391.6,202.9 391.9,202.9 392.2,202.9 392.5,202.9 392.7,202.9 393,202.9 393.3,202.9 393.5,202.9 393.8,202.9 394.1,202.9 394.3,202.9 394.6,202.9 394.9,202.9 395.2,202.9 395.4,202.9 395.7,202.9 396,202.9 396.2,202.9 396.5,202.9 396.8,202.9 397,202.9 397.3,202.9 397.6,202.9 397.9,202.9 398.1,202.9 398.4,202.9" fill="none" stroke="#3cc84a" stroke-width="1.1" stroke-linejoin="round"/>
<line x1="290.6" y1="202.9" x2="398.4" y2="202.9" stroke="#34443a" stroke-width="0.9" stroke-dasharray="2.2,1"/>
<polyline points="323.8,202.8 324.1,202.9 324.4,203.2 324.6,203.4 324.9,203.7 325.2,204.1 325.5,204.5 325.7,204.8 326,205.1 326.3,205.3 326.5,205.4 326.8,205.2 327.1,204.8 327.3,204.2 327.6,203.3 327.9,202.1 328.2,200.7 328.4,199.2 328.7,197.6 329,196 329.2,194.7 329.5,193.6 329.8,193 330,193.1 330.3,193.8 330.6,195.4 330.9,197.7 331.1,200.7 331.4,204.4 331.7,208.5 331.9,212.7 332.2,216.9 332.5,220.6 332.7,223.6 333,225.6 333.3,226.3 333.6,225.6 333.8,223.4 334.1,219.8 334.4,214.9 334.6,209 334.9,202.4 335.2,195.5 335.4,188.8 335.7,182.8 336,177.8 336.3,174.2 336.5,172.3 336.8,172.1 337.1,173.8 337.3,177.2 337.6,182 337.9,187.9 338.2,194.5 338.4,201.4 338.7,208.1 339,214.1 339.2,219.2 339.5,223 339.8,225.4 340,226.3 340.3,225.8 340.6,223.9 340.9,221.1 341.1,217.4 341.4,213.3 341.7,209.1 341.9,205 342.2,201.2 342.5,198.1 342.7,195.7 343,194 343.3,193.2 343.6,193 343.8,193.5 344.1,194.5 344.4,195.8 344.6,197.4 344.9,199 345.2,200.5 345.4,201.9 345.7,203.1 346,204.1 346.3,204.8 346.5,205.2 346.8,205.3 347.1,205.3 347.3,205.1 347.6,204.9 347.9,204.5 348.1,204.2 348.4,203.8 348.7,203.5 349,203.2 349.2,203 349.5,202.8" fill="none" stroke="#2848c8" stroke-width="1.1" stroke-linejoin="round"/>
<polyline points="323.8,202.9 324.1,202.9 324.4,203 324.6,203.1 324.9,203.2 325.2,203.4 325.5,203.6 325.7,203.7 326,203.9 326.3,204 326.5,204.1 326.8,204.1 327.1,203.9 327.3,203.6 327.6,203.1 327.9,202.5 328.2,201.7 328.4,200.7 328.7,199.6 329,198.5 329.2,197.4 329.5,196.5 329.8,196 330,195.8 330.3,196.2 330.6,197.2 330.9,198.9 331.1,201.2 331.4,204.1 331.7,207.5 331.9,211.2 332.2,215 332.5,218.5 332.7,221.4 333,223.4 333.3,224.4 333.6,224 333.8,222.3 334.1,219 334.4,214.5 334.6,208.8 334.9,202.4 335.2,195.7 335.4,189 335.7,182.9 336,177.9 336.3,174.2 336.5,172.3 336.8,172.1 337.1,173.8 337.3,177.3 337.6,182.1 337.9,188.1 338.2,194.7 338.4,201.5 338.7,207.9 339,213.7 339.2,218.4 339.5,221.9 339.8,223.9 340,224.4 340.3,223.7 340.6,221.7 340.9,218.9 341.1,215.5 341.4,211.8 341.7,208.1 341.9,204.6 342.2,201.6 342.5,199.2 342.7,197.4 343,196.3 343.3,195.8 343.6,195.9 343.8,196.4 344.1,197.3 344.4,198.3 344.6,199.4 344.9,200.5 345.2,201.5 345.4,202.4 345.7,203.1 346,203.6 346.3,203.9 346.5,204 346.8,204.1 347.1,204 347.3,203.9 347.6,203.7 347.9,203.6 348.1,203.4 348.4,203.3 348.7,203.1 349,203 349.2,203 349.5,202.9" fill="none" stroke="#2a2a3a" stroke-width="1" stroke-linejoin="round"/>
</g>
<line x1="290.6" y1="246" x2="398.4" y2="246" stroke="#8a8a8a" stroke-width="1.2"/>
<line x1="290.6" y1="159.9" x2="398.4" y2="159.9" stroke="#9a9aa6" stroke-width="1"/>
<line x1="398.4" y1="159.9" x2="398.4" y2="246" stroke="#8e8e96" stroke-width="1"/>
<line x1="290.6" y1="159.9" x2="290.6" y2="246" stroke="#a4bcbc" stroke-width="1.3"/>
<line x1="289.1" y1="246" x2="290.6" y2="246" stroke="#889" stroke-width="0.8"/>
<line x1="289.1" y1="235.2" x2="290.6" y2="235.2" stroke="#889" stroke-width="0.8"/>
<line x1="289.1" y1="224.5" x2="290.6" y2="224.5" stroke="#889" stroke-width="0.8"/>
<line x1="289.1" y1="213.7" x2="290.6" y2="213.7" stroke="#889" stroke-width="0.8"/>
<line x1="289.1" y1="202.9" x2="290.6" y2="202.9" stroke="#889" stroke-width="0.8"/>
<line x1="289.1" y1="192.2" x2="290.6" y2="192.2" stroke="#889" stroke-width="0.8"/>
<line x1="289.1" y1="181.4" x2="290.6" y2="181.4" stroke="#889" stroke-width="0.8"/>
<line x1="289.1" y1="170.7" x2="290.6" y2="170.7" stroke="#889" stroke-width="0.8"/>
<line x1="289.1" y1="159.9" x2="290.6" y2="159.9" stroke="#889" stroke-width="0.8"/>
<line x1="290.6" y1="246" x2="290.6" y2="244.5" stroke="#888" stroke-width="0.8"/>
<line x1="317.6" y1="246" x2="317.6" y2="244.5" stroke="#888" stroke-width="0.8"/>
<line x1="344.5" y1="246" x2="344.5" y2="244.5" stroke="#888" stroke-width="0.8"/>
<line x1="371.5" y1="246" x2="371.5" y2="244.5" stroke="#888" stroke-width="0.8"/>
<line x1="398.4" y1="246" x2="398.4" y2="244.5" stroke="#888" stroke-width="0.8"/>
<text x="287.2" y="163.6" font-size="10" text-anchor="end">4</text>
<text x="287.2" y="185.1" font-size="10" text-anchor="end">2</text>
<text x="287.2" y="206.6" font-size="10" text-anchor="end">0</text>
<text x="287.2" y="228.2" font-size="10" text-anchor="end">-2</text>
<text x="287.2" y="249.7" font-size="10" text-anchor="end">-4</text>
<text x="290.6" y="257.8" font-size="10.5" text-anchor="middle">0</text>
<text x="344.5" y="257.8" font-size="10.5" text-anchor="middle">20</text>
<text x="398.4" y="257.8" font-size="10.5" text-anchor="middle">40</text>
<g clip-path="url(#clip11)">
<polyline points="423.1,202.9 423.4,202.9 423.6,202.9 423.9,202.9 424.2,202.9 424.5,202.9 424.7,202.9 425,202.9 425.3,202.9 425.5,202.9 425.8,202.9 426.1,202.9 426.3,202.9 426.6,202.9 426.9,202.9 427.2,202.9 427.4,202.9 427.7,202.9 428,202.9 428.2,202.9 428.5,202.9 428.8,202.9 429,202.9 429.3,202.9 429.6,202.9 429.9,202.9 430.1,202.9 430.4,202.9 430.7,202.9 430.9,202.9 431.2,202.9 431.5,202.9 431.7,202.9 432,202.9 432.3,202.9 432.6,202.9 432.8,202.9 433.1,202.9 433.4,202.9 433.6,202.9 433.9,202.9 434.2,202.9 434.4,202.9 434.7,202.9 435,202.9 435.3,202.9 435.5,202.9 435.8,202.9 436.1,202.9 436.3,202.9 436.6,202.9 436.9,202.9 437.1,202.9 437.4,202.9 437.7,202.9 438,202.9 438.2,202.9 438.5,202.9 438.8,202.9 439,202.9 439.3,202.9 439.6,202.9 439.9,202.9 440.1,202.9 440.4,202.9 440.7,202.9 440.9,202.9 441.2,202.9 441.5,202.9 441.7,202.9 442,202.9 442.3,202.9 442.6,202.9 442.8,202.9 443.1,202.9 443.4,202.9 443.6,202.9 443.9,202.9 444.2,202.9 444.4,202.9 444.7,202.9 445,202.9 445.3,202.9 445.5,202.9 445.8,202.8 446.1,202.8 446.3,202.8 446.6,202.8 446.9,202.8 447.1,202.8 447.4,202.7 447.7,202.7 448,202.7 448.2,202.6 448.5,202.6 448.8,202.6 449,202.5 449.3,202.5 449.6,202.4 449.8,202.3 450.1,202.3 450.4,202.2 450.7,202.1 450.9,202 451.2,201.9 451.5,201.8 451.7,201.7 452,201.5 452.3,201.4 452.5,201.3 452.8,201.1 453.1,200.9 453.4,200.7 453.6,200.5 453.9,200.3 454.2,200 454.4,199.8 454.7,199.5 455,199.2 455.3,198.9 455.5,198.6 455.8,198.2 456.1,197.9 456.3,197.5 456.6,197.1 456.9,196.6 457.1,196.2 457.4,195.7 457.7,195.2 458,194.7 458.2,194.1 458.5,193.6 458.8,193 459,192.4 459.3,191.8 459.6,191.1 459.8,190.5 460.1,189.8 460.4,189.1 460.7,188.4 460.9,187.7 461.2,187 461.5,186.2 461.7,185.5 462,184.7 462.3,184 462.5,183.2 462.8,182.4 463.1,181.7 463.4,180.9 463.6,180.2 463.9,179.5 464.2,178.7 464.4,178 464.7,177.4 465,176.7 465.2,176 465.5,175.4 465.8,174.8 466.1,174.3 466.3,173.8 466.6,173.3 466.9,172.8 467.1,172.4 467.4,172 467.7,171.7 467.9,171.4 468.2,171.2 468.5,171 468.8,170.8 469,170.7 469.3,170.7 469.6,170.7 469.8,170.7 470.1,170.8 470.4,170.9 470.7,171.1 470.9,171.2 471.2,171.5 471.5,171.8 471.7,172.1 472,172.4 472.3,172.8 472.5,173.2 472.8,173.6 473.1,174.1 473.4,174.6 473.6,175.1 473.9,175.6 474.2,176.2 474.4,176.8 474.7,177.4 475,178 475.2,178.7 475.5,179.3 475.8,180 476.1,180.7 476.3,181.3 476.6,182 476.9,182.7 477.1,183.4 477.4,184.1 477.7,184.8 477.9,185.5 478.2,186.2 478.5,186.8 478.8,187.5 479,188.2 479.3,188.8 479.6,189.4 479.8,190.1 480.1,190.7 480.4,191.3 480.6,191.8 480.9,192.4 481.2,193 481.5,193.5 481.7,194 482,194.5 482.3,195 482.5,195.4 482.8,195.9 483.1,196.3 483.3,196.7 483.6,197.1 483.9,197.5 484.2,197.8 484.4,198.2 484.7,198.5 485,198.8 485.2,199.1 485.5,199.4 485.8,199.6 486.1,199.9 486.3,200.1 486.6,200.3 486.9,200.5 487.1,200.7 487.4,200.9 487.7,201 487.9,201.2 488.2,201.3 488.5,201.5 488.8,201.6 489,201.7 489.3,201.8 489.6,201.9 489.8,202 490.1,202.1 490.4,202.2 490.6,202.2 490.9,202.3 491.2,202.4 491.5,202.4 491.7,202.5 492,202.5 492.3,202.6 492.5,202.6 492.8,202.6 493.1,202.7 493.3,202.7 493.6,202.7 493.9,202.7 494.2,202.8 494.4,202.8 494.7,202.8 495,202.8 495.2,202.8 495.5,202.9 495.8,202.9 496,202.9 496.3,202.9 496.6,202.9 496.9,202.9 497.1,202.9 497.4,202.9 497.7,202.9 497.9,202.9 498.2,202.9 498.5,202.9 498.7,202.9 499,202.9 499.3,202.9 499.6,202.9 499.8,202.9 500.1,202.9 500.4,202.9 500.6,202.9 500.9,202.9 501.2,202.9 501.5,202.9 501.7,202.9 502,202.9 502.3,202.9 502.5,202.9 502.8,202.9 503.1,202.9 503.3,202.9 503.6,202.9 503.9,202.9 504.2,202.9 504.4,202.9 504.7,202.9 505,202.9 505.2,202.9 505.5,202.9 505.8,202.9 506,202.9 506.3,202.9 506.6,202.9 506.9,202.9 507.1,202.9 507.4,202.9 507.7,202.9 507.9,202.9 508.2,202.9 508.5,202.9 508.7,202.9 509,202.9 509.3,202.9 509.6,202.9 509.8,202.9 510.1,202.9 510.4,202.9 510.6,202.9 510.9,202.9 511.2,202.9 511.4,202.9 511.7,202.9 512,202.9 512.3,202.9 512.5,202.9 512.8,202.9 513.1,202.9 513.3,202.9 513.6,202.9 513.9,202.9 514.1,202.9 514.4,202.9 514.7,202.9 515,202.9 515.2,202.9 515.5,202.9 515.8,202.9 516,202.9 516.3,202.9 516.6,202.9 516.9,202.9 517.1,202.9 517.4,202.9 517.7,202.9 517.9,202.9 518.2,202.9 518.5,202.9 518.7,202.9 519,202.9 519.3,202.9 519.6,202.9 519.8,202.9 520.1,202.9 520.4,202.9 520.6,202.9 520.9,202.9 521.2,202.9 521.4,202.9 521.7,202.9 522,202.9 522.3,202.9 522.5,202.9 522.8,202.9 523.1,202.9 523.3,202.9 523.6,202.9 523.9,202.9 524.1,202.9 524.4,202.9 524.7,202.9 525,202.9 525.2,202.9 525.5,202.9 525.8,202.9 526,202.9 526.3,202.9 526.6,202.9 526.8,202.9 527.1,202.9 527.4,202.9 527.7,202.9 527.9,202.9 528.2,202.9 528.5,202.9 528.7,202.9 529,202.9 529.3,202.9 529.5,202.9 529.8,202.9 530.1,202.9 530.4,202.9 530.6,202.9 530.9,202.9" fill="none" stroke="#339040" stroke-width="1.1" stroke-linejoin="round"/>
<polyline points="423.1,203 423.4,203 423.6,202.9 423.9,202.9 424.2,202.9 424.5,202.9 424.7,202.9 425,202.9 425.3,202.9 425.5,202.9 425.8,202.9 426.1,202.9 426.3,202.9 426.6,202.9 426.9,202.9 427.2,203 427.4,203 427.7,203 428,203 428.2,203 428.5,203 428.8,203 429,203 429.3,203 429.6,203 429.9,203 430.1,203 430.4,203 430.7,203 430.9,202.9 431.2,202.9 431.5,202.9 431.7,202.9 432,202.9 432.3,202.9 432.6,202.9 432.8,202.9 433.1,202.9 433.4,202.9 433.6,202.9 433.9,202.9 434.2,202.9 434.4,203 434.7,203 435,203 435.3,203 435.5,203 435.8,203 436.1,203 436.3,203 436.6,203 436.9,203 437.1,203 437.4,203 437.7,203 438,202.9 438.2,202.9 438.5,202.9 438.8,202.9 439,202.9 439.3,202.9 439.6,202.9 439.9,202.9 440.1,202.9 440.4,202.9 440.7,202.9 440.9,202.9 441.2,202.9 441.5,202.9 441.7,203 442,203 442.3,203 442.6,203 442.8,203 443.1,203 443.4,203 443.6,203 443.9,203 444.2,203 444.4,203 444.7,203 445,203 445.3,202.9 445.5,202.9 445.8,202.9 446.1,202.9 446.3,202.9 446.6,202.9 446.9,202.8 447.1,202.8 447.4,202.8 447.7,202.8 448,202.8 448.2,202.9 448.5,202.9 448.8,203 449,203 449.3,203.1 449.6,203.2 449.8,203.3 450.1,203.4 450.4,203.5 450.7,203.6 450.9,203.6 451.2,203.6 451.5,203.5 451.7,203.4 452,203.2 452.3,202.9 452.5,202.6 452.8,202.2 453.1,201.8 453.4,201.4 453.6,200.9 453.9,200.6 454.2,200.4 454.4,200.2 454.7,200.3 455,200.6 455.3,201.1 455.5,201.8 455.8,202.7 456.1,203.8 456.3,205.1 456.6,206.5 456.9,207.8 457.1,209 457.4,210 457.7,210.8 458,211 458.2,210.8 458.5,210.1 458.8,208.7 459,206.8 459.3,204.4 459.6,201.6 459.8,198.5 460.1,195.3 460.4,192.2 460.7,189.5 460.9,187.3 461.2,185.8 461.5,185.3 461.7,185.8 462,187.5 462.3,190.2 462.5,194 462.8,198.6 463.1,203.9 463.4,209.5 463.6,215.1 463.9,220.3 464.2,224.8 464.4,228.3 464.7,230.5 465,231.1 465.2,230.1 465.5,227.5 465.8,223.3 466.1,217.7 466.3,211.2 466.6,203.9 466.9,196.4 467.1,189.2 467.4,182.6 467.7,177 467.9,173 468.2,170.6 468.5,170.1 468.8,171.4 469,174.6 469.3,179.3 469.6,185.4 469.8,192.3 470.1,199.7 470.4,207.2 470.7,214.2 470.9,220.3 471.2,225.3 471.5,228.8 471.7,230.8 472,231 472.3,229.7 472.5,226.9 472.8,223 473.1,218.1 473.4,212.6 473.6,207 473.9,201.5 474.2,196.5 474.4,192.2 474.7,188.9 475,186.6 475.2,185.5 475.5,185.4 475.8,186.3 476.1,188.1 476.3,190.6 476.6,193.5 476.9,196.7 477.1,199.9 477.4,202.9 477.7,205.5 477.9,207.7 478.2,209.4 478.5,210.5 478.8,211 479,211 479.3,210.5 479.6,209.6 479.8,208.5 480.1,207.2 480.4,205.9 480.6,204.5 480.9,203.3 481.2,202.3 481.5,201.4 481.7,200.8 482,200.4 482.3,200.3 482.5,200.3 482.8,200.4 483.1,200.7 483.3,201.1 483.6,201.5 483.9,202 484.2,202.4 484.4,202.7 484.7,203.1 485,203.3 485.2,203.5 485.5,203.6 485.8,203.6 486.1,203.6 486.3,203.6 486.6,203.5 486.9,203.4 487.1,203.3 487.4,203.2 487.7,203.1 487.9,203 488.2,202.9 488.5,202.9 488.8,202.9 489,202.8 489.3,202.8 489.6,202.8 489.8,202.8 490.1,202.9 490.4,202.9 490.6,202.9 490.9,202.9 491.2,202.9 491.5,202.9 491.7,202.9 492,203 492.3,203 492.5,203 492.8,203 493.1,203 493.3,203 493.6,203 493.9,203 494.2,203 494.4,203 494.7,203 495,203 495.2,203 495.5,202.9 495.8,202.9 496,202.9 496.3,202.9 496.6,202.9 496.9,202.9 497.1,202.9 497.4,202.9 497.7,202.9 497.9,202.9 498.2,202.9 498.5,202.9 498.7,202.9 499,203 499.3,203 499.6,203 499.8,203 500.1,203 500.4,203 500.6,203 500.9,203 501.2,203 501.5,203 501.7,203 502,203 502.3,203 502.5,203 502.8,202.9 503.1,202.9 503.3,202.9 503.6,202.9 503.9,202.9 504.2,202.9 504.4,202.9 504.7,202.9 505,202.9 505.2,202.9 505.5,202.9 505.8,202.9 506,202.9 506.3,203 506.6,203 506.9,203 507.1,203 507.4,203 507.7,203 507.9,203 508.2,203 508.5,203 508.7,203 509,203 509.3,203 509.6,203 509.8,202.9 510.1,202.9 510.4,202.9 510.6,202.9 510.9,202.9 511.2,202.9 511.4,202.9 511.7,202.9 512,202.9 512.3,202.9 512.5,202.9 512.8,202.9 513.1,202.9 513.3,202.9 513.6,203 513.9,203 514.1,203 514.4,203 514.7,203 515,203 515.2,203 515.5,203 515.8,203 516,203 516.3,203 516.6,203 516.9,203 517.1,202.9 517.4,202.9" fill="none" stroke="#2c3cd0" stroke-width="0.9" stroke-linejoin="round"/>
<polyline points="423.1,203 423.4,203 423.6,203 423.9,203 424.2,203 424.5,203 424.7,202.9 425,202.9 425.3,202.9 425.5,202.9 425.8,202.9 426.1,202.9 426.3,202.9 426.6,202.9 426.9,202.9 427.2,202.9 427.4,202.9 427.7,202.9 428,202.9 428.2,203 428.5,203 428.8,203 429,203 429.3,203 429.6,203 429.9,203 430.1,203 430.4,203 430.7,203 430.9,203 431.2,203 431.5,203 431.7,202.9 432,202.9 432.3,202.9 432.6,202.9 432.8,202.9 433.1,202.9 433.4,202.9 433.6,202.9 433.9,202.9 434.2,202.9 434.4,202.9 434.7,202.9 435,202.9 435.3,202.9 435.5,203 435.8,203 436.1,203 436.3,203 436.6,203 436.9,203 437.1,203 437.4,203 437.7,203 438,203 438.2,203 438.5,203 438.8,203 439,202.9 439.3,202.9 439.6,202.9 439.9,202.9 440.1,202.9 440.4,202.9 440.7,202.9 440.9,202.9 441.2,202.9 441.5,202.9 441.7,202.9 442,202.9 442.3,202.9 442.6,203 442.8,203 443.1,203 443.4,203 443.6,203 443.9,203 444.2,203 444.4,203 444.7,203 445,203 445.3,203 445.5,203 445.8,203 446.1,203 446.3,202.9 446.6,202.9 446.9,202.9 447.1,202.9 447.4,202.9 447.7,202.9 448,202.9 448.2,202.8 448.5,202.8 448.8,202.8 449,202.9 449.3,202.9 449.6,202.9 449.8,203 450.1,203.1 450.4,203.1 450.7,203.2 450.9,203.3 451.2,203.4 451.5,203.5 451.7,203.5 452,203.5 452.3,203.5 452.5,203.5 452.8,203.3 453.1,203.1 453.4,202.9 453.6,202.6 453.9,202.2 454.2,201.8 454.4,201.4 454.7,201.1 455,200.8 455.3,200.6 455.5,200.5 455.8,200.6 456.1,200.9 456.3,201.4 456.6,202.1 456.9,202.9 457.1,204 457.4,205.2 457.7,206.4 458,207.6 458.2,208.6 458.5,209.5 458.8,210.1 459,210.2 459.3,210 459.6,209.2 459.8,207.8 460.1,206 460.4,203.7 460.7,201.1 460.9,198.3 461.2,195.4 461.5,192.7 461.7,190.3 462,188.5 462.3,187.3 462.5,187.1 462.8,187.7 463.1,189.4 463.4,192.1 463.6,195.7 463.9,200 464.2,204.8 464.4,209.9 464.7,214.9 465,219.5 465.2,223.4 465.5,226.3 465.8,228 466.1,228.3 466.3,227.1 466.6,224.4 466.9,220.3 467.1,215.1 467.4,209 467.7,202.4 467.9,195.7 468.2,189.2 468.5,183.4 468.8,178.7 469,175.3 469.3,173.5 469.6,173.4 469.8,175 470.1,178.1 470.4,182.7 470.7,188.3 470.9,194.7 471.2,201.5 471.5,208.1 471.7,214.3 472,219.7 472.3,223.9 472.5,226.8 472.8,228.2 473.1,228.1 473.4,226.7 473.6,223.9 473.9,220.1 474.2,215.6 474.4,210.6 474.7,205.5 475,200.7 475.2,196.3 475.5,192.6 475.8,189.8 476.1,187.9 476.3,187.1 476.6,187.2 476.9,188.3 477.1,190 477.4,192.3 477.7,195 477.9,197.9 478.2,200.7 478.5,203.4 478.8,205.7 479,207.6 479.3,209 479.6,209.9 479.8,210.2 480.1,210.1 480.4,209.6 480.6,208.8 480.9,207.7 481.2,206.5 481.5,205.3 481.7,204.1 482,203.1 482.3,202.2 482.5,201.4 482.8,200.9 483.1,200.6 483.3,200.5 483.6,200.6 483.9,200.7 484.2,201 484.4,201.4 484.7,201.8 485,202.1 485.2,202.5 485.5,202.8 485.8,203.1 486.1,203.3 486.3,203.4 486.6,203.5 486.9,203.5 487.1,203.5 487.4,203.5 487.7,203.4 487.9,203.3 488.2,203.2 488.5,203.1 488.8,203.1 489,203 489.3,202.9 489.6,202.9 489.8,202.9 490.1,202.8 490.4,202.8 490.6,202.8 490.9,202.9 491.2,202.9 491.5,202.9 491.7,202.9 492,202.9 492.3,202.9 492.5,202.9 492.8,202.9 493.1,203 493.3,203 493.6,203 493.9,203 494.2,203 494.4,203 494.7,203 495,203 495.2,203 495.5,203 495.8,203 496,203 496.3,203 496.6,202.9 496.9,202.9 497.1,202.9 497.4,202.9 497.7,202.9 497.9,202.9 498.2,202.9 498.5,202.9 498.7,202.9 499,202.9 499.3,202.9 499.6,202.9 499.8,202.9 500.1,203 500.4,203 500.6,203 500.9,203 501.2,203 501.5,203 501.7,203 502,203 502.3,203 502.5,203 502.8,203 503.1,203 503.3,203 503.6,202.9 503.9,202.9 504.2,202.9 504.4,202.9 504.7,202.9 505,202.9 505.2,202.9 505.5,202.9 505.8,202.9 506,202.9 506.3,202.9 506.6,202.9 506.9,202.9 507.1,202.9 507.4,203 507.7,203 507.9,203 508.2,203 508.5,203 508.7,203 509,203 509.3,203 509.6,203 509.8,203 510.1,203 510.4,203 510.6,203 510.9,202.9 511.2,202.9 511.4,202.9 511.7,202.9 512,202.9 512.3,202.9 512.5,202.9 512.8,202.9 513.1,202.9 513.3,202.9 513.6,202.9 513.9,202.9 514.1,202.9 514.4,203 514.7,203 515,203 515.2,203 515.5,203 515.8,203 516,203 516.3,203 516.6,203 516.9,203 517.1,203 517.4,203" fill="none" stroke="#26262c" stroke-width="1" stroke-linejoin="round"/>
</g>
<line x1="423.1" y1="246" x2="530.9" y2="246" stroke="#8a8a8a" stroke-width="1.2"/>
<line x1="423.1" y1="159.9" x2="530.9" y2="159.9" stroke="#9a9aa6" stroke-width="1"/>
<line x1="530.9" y1="159.9" x2="530.9" y2="246" stroke="#8e8e96" stroke-width="1"/>
<line x1="423.1" y1="159.9" x2="423.1" y2="246" stroke="#a4bcbc" stroke-width="1.3"/>
<line x1="421.6" y1="246" x2="423.1" y2="246" stroke="#889" stroke-width="0.8"/>
<line x1="421.6" y1="235.2" x2="423.1" y2="235.2" stroke="#889" stroke-width="0.8"/>
<line x1="421.6" y1="224.5" x2="423.1" y2="224.5" stroke="#889" stroke-width="0.8"/>
<line x1="421.6" y1="213.7" x2="423.1" y2="213.7" stroke="#889" stroke-width="0.8"/>
<line x1="421.6" y1="202.9" x2="423.1" y2="202.9" stroke="#889" stroke-width="0.8"/>
<line x1="421.6" y1="192.2" x2="423.1" y2="192.2" stroke="#889" stroke-width="0.8"/>
<line x1="421.6" y1="181.4" x2="423.1" y2="181.4" stroke="#889" stroke-width="0.8"/>
<line x1="421.6" y1="170.7" x2="423.1" y2="170.7" stroke="#889" stroke-width="0.8"/>
<line x1="421.6" y1="159.9" x2="423.1" y2="159.9" stroke="#889" stroke-width="0.8"/>
<line x1="423.1" y1="246" x2="423.1" y2="244.5" stroke="#888" stroke-width="0.8"/>
<line x1="450.1" y1="246" x2="450.1" y2="244.5" stroke="#888" stroke-width="0.8"/>
<line x1="477" y1="246" x2="477" y2="244.5" stroke="#888" stroke-width="0.8"/>
<line x1="504" y1="246" x2="504" y2="244.5" stroke="#888" stroke-width="0.8"/>
<line x1="530.9" y1="246" x2="530.9" y2="244.5" stroke="#888" stroke-width="0.8"/>
<text x="423.1" y="257.8" font-size="10.5" text-anchor="middle">0</text>
<text x="477" y="257.8" font-size="10.5" text-anchor="middle">20</text>
<text x="530.9" y="257.8" font-size="10.5" text-anchor="middle">40</text>
<g clip-path="url(#clip21)">
<polyline points="555.6,202.9 555.9,202.9 556.1,202.9 556.4,202.9 556.7,202.9 557,202.9 557.2,202.9 557.5,202.9 557.8,202.9 558,202.9 558.3,202.9 558.6,202.9 558.8,202.9 559.1,202.9 559.4,202.9 559.7,202.9 559.9,202.9 560.2,202.9 560.5,202.9 560.7,202.9 561,202.9 561.3,202.9 561.5,202.9 561.8,202.9 562.1,202.9 562.4,202.9 562.6,202.9 562.9,202.9 563.2,202.9 563.4,202.9 563.7,202.9 564,202.9 564.2,202.9 564.5,202.9 564.8,202.9 565.1,202.9 565.3,202.9 565.6,202.9 565.9,202.9 566.1,202.9 566.4,202.9 566.7,202.9 566.9,202.9 567.2,202.9 567.5,202.9 567.8,202.9 568,202.9 568.3,202.9 568.6,202.9 568.8,202.9 569.1,202.9 569.4,202.9 569.6,202.9 569.9,202.9 570.2,202.9 570.5,202.9 570.7,202.9 571,202.9 571.3,202.9 571.5,202.9 571.8,202.9 572.1,202.9 572.4,202.9 572.6,202.9 572.9,202.9 573.2,202.9 573.4,202.9 573.7,202.9 574,202.9 574.2,202.9 574.5,202.9 574.8,202.9 575.1,202.8 575.3,202.8 575.6,202.8 575.9,202.8 576.1,202.8 576.4,202.8 576.7,202.7 576.9,202.7 577.2,202.7 577.5,202.7 577.8,202.6 578,202.6 578.3,202.6 578.6,202.5 578.8,202.5 579.1,202.4 579.4,202.4 579.6,202.3 579.9,202.3 580.2,202.2 580.5,202.1 580.7,202.1 581,202 581.3,201.9 581.5,201.8 581.8,201.7 582.1,201.6 582.3,201.5 582.6,201.3 582.9,201.2 583.2,201.1 583.4,200.9 583.7,200.7 584,200.6 584.2,200.4 584.5,200.2 584.8,200 585,199.8 585.3,199.5 585.6,199.3 585.9,199 586.1,198.7 586.4,198.4 586.7,198.1 586.9,197.8 587.2,197.5 587.5,197.1 587.8,196.8 588,196.4 588.3,196 588.6,195.6 588.8,195.1 589.1,194.7 589.4,194.2 589.6,193.8 589.9,193.3 590.2,192.7 590.5,192.2 590.7,191.7 591,191.1 591.3,190.6 591.5,190 591.8,189.4 592.1,188.8 592.3,188.2 592.6,187.6 592.9,186.9 593.2,186.3 593.4,185.7 593.7,185 594,184.4 594.2,183.7 594.5,183.1 594.8,182.4 595,181.8 595.3,181.1 595.6,180.5 595.9,179.9 596.1,179.2 596.4,178.6 596.7,178 596.9,177.4 597.2,176.8 597.5,176.3 597.7,175.7 598,175.2 598.3,174.7 598.6,174.2 598.8,173.8 599.1,173.4 599.4,173 599.6,172.6 599.9,172.3 600.2,172 600.4,171.7 600.7,171.4 601,171.2 601.3,171 601.5,170.9 601.8,170.8 602.1,170.7 602.3,170.7 602.6,170.7 602.9,170.7 603.2,170.8 603.4,170.8 603.7,171 604,171.1 604.2,171.3 604.5,171.5 604.8,171.7 605,172 605.3,172.2 605.6,172.5 605.9,172.9 606.1,173.2 606.4,173.6 606.7,174 606.9,174.4 607.2,174.9 607.5,175.3 607.7,175.8 608,176.3 608.3,176.8 608.6,177.3 608.8,177.9 609.1,178.4 609.4,179 609.6,179.5 609.9,180.1 610.2,180.7 610.4,181.3 610.7,181.8 611,182.4 611.3,183 611.5,183.6 611.8,184.2 612.1,184.8 612.3,185.4 612.6,186 612.9,186.6 613.1,187.1 613.4,187.7 613.7,188.3 614,188.8 614.2,189.4 614.5,189.9 614.8,190.4 615,190.9 615.3,191.4 615.6,191.9 615.8,192.4 616.1,192.9 616.4,193.4 616.7,193.8 616.9,194.2 617.2,194.7 617.5,195.1 617.7,195.5 618,195.8 618.3,196.2 618.6,196.6 618.8,196.9 619.1,197.2 619.4,197.5 619.6,197.9 619.9,198.1 620.2,198.4 620.4,198.7 620.7,198.9 621,199.2 621.3,199.4 621.5,199.6 621.8,199.8 622.1,200 622.3,200.2 622.6,200.4 622.9,200.6 623.1,200.7 623.4,200.9 623.7,201 624,201.2 624.2,201.3 624.5,201.4 624.8,201.5 625,201.6 625.3,201.7 625.6,201.8 625.8,201.9 626.1,202 626.4,202.1 626.7,202.1 626.9,202.2 627.2,202.3 627.5,202.3 627.7,202.4 628,202.4 628.3,202.5 628.5,202.5 628.8,202.5 629.1,202.6 629.4,202.6 629.6,202.6 629.9,202.7 630.2,202.7 630.4,202.7 630.7,202.7 631,202.8 631.2,202.8 631.5,202.8 631.8,202.8 632.1,202.8 632.3,202.8 632.6,202.8 632.9,202.9 633.1,202.9 633.4,202.9 633.7,202.9 634,202.9 634.2,202.9 634.5,202.9 634.8,202.9 635,202.9 635.3,202.9 635.6,202.9 635.8,202.9 636.1,202.9 636.4,202.9 636.7,202.9 636.9,202.9 637.2,202.9 637.5,202.9 637.7,202.9 638,202.9 638.3,202.9 638.5,202.9 638.8,202.9 639.1,202.9 639.4,202.9 639.6,202.9 639.9,202.9 640.2,202.9 640.4,202.9 640.7,202.9 641,202.9 641.2,202.9 641.5,202.9 641.8,202.9 642.1,202.9 642.3,202.9 642.6,202.9 642.9,202.9 643.1,202.9 643.4,202.9 643.7,202.9 643.9,202.9 644.2,202.9 644.5,202.9 644.8,202.9 645,202.9 645.3,202.9 645.6,202.9 645.8,202.9 646.1,202.9 646.4,202.9 646.6,202.9 646.9,202.9 647.2,202.9 647.5,202.9 647.7,202.9 648,202.9 648.3,202.9 648.5,202.9 648.8,202.9 649.1,202.9 649.4,202.9 649.6,202.9 649.9,202.9 650.2,202.9 650.4,202.9 650.7,202.9 651,202.9 651.2,202.9 651.5,202.9 651.8,202.9 652.1,202.9 652.3,202.9 652.6,202.9 652.9,202.9 653.1,202.9 653.4,202.9 653.7,202.9 653.9,202.9 654.2,202.9 654.5,202.9 654.8,202.9 655,202.9 655.3,202.9 655.6,202.9 655.8,202.9 656.1,202.9 656.4,202.9 656.6,202.9 656.9,202.9 657.2,202.9 657.5,202.9 657.7,202.9 658,202.9 658.3,202.9 658.5,202.9 658.8,202.9 659.1,202.9 659.3,202.9 659.6,202.9 659.9,202.9 660.2,202.9 660.4,202.9 660.7,202.9 661,202.9 661.2,202.9 661.5,202.9 661.8,202.9 662,202.9 662.3,202.9 662.6,202.9 662.9,202.9 663.1,202.9 663.4,202.9" fill="none" stroke="#339040" stroke-width="1.1" stroke-linejoin="round"/>
<polyline points="555.6,203 555.9,203 556.1,203 556.4,203 556.7,202.9 557,202.9 557.2,202.9 557.5,202.9 557.8,202.9 558,202.9 558.3,202.9 558.6,202.9 558.8,202.9 559.1,202.9 559.4,202.9 559.7,202.9 559.9,202.9 560.2,203 560.5,203 560.7,203 561,203 561.3,203 561.5,203 561.8,203 562.1,203 562.4,203 562.6,203 562.9,203 563.2,203 563.4,203 563.7,203 564,202.9 564.2,202.9 564.5,202.9 564.8,202.9 565.1,202.9 565.3,202.9 565.6,202.9 565.9,202.9 566.1,202.9 566.4,202.9 566.7,202.9 566.9,202.9 567.2,202.9 567.5,203 567.8,203 568,203 568.3,203 568.6,203 568.8,203 569.1,203 569.4,203 569.6,203 569.9,203 570.2,203 570.5,203 570.7,203 571,202.9 571.3,202.9 571.5,202.9 571.8,202.9 572.1,202.9 572.4,202.9 572.6,202.9 572.9,202.9 573.2,202.9 573.4,202.9 573.7,202.9 574,202.9 574.2,202.9 574.5,202.9 574.8,203 575.1,203 575.3,203 575.6,203.1 575.9,203.1 576.1,203.2 576.4,203.2 576.7,203.2 576.9,203.2 577.2,203.2 577.5,203.1 577.8,203.1 578,203 578.3,202.9 578.6,202.7 578.8,202.6 579.1,202.5 579.4,202.3 579.6,202.2 579.9,202.1 580.2,202.1 580.5,202.1 580.7,202.1 581,202.3 581.3,202.5 581.5,202.7 581.8,203.1 582.1,203.5 582.3,203.9 582.6,204.4 582.9,204.8 583.2,205.2 583.4,205.5 583.7,205.6 584,205.6 584.2,205.5 584.5,205.1 584.8,204.5 585,203.8 585.3,202.9 585.6,201.8 585.9,200.7 586.1,199.5 586.4,198.5 586.7,197.5 586.9,196.8 587.2,196.4 587.5,196.3 587.8,196.7 588,197.5 588.3,198.8 588.6,200.4 588.8,202.5 589.1,204.8 589.4,207.2 589.6,209.6 589.9,211.9 590.2,213.8 590.5,215.3 590.7,216.2 591,216.3 591.3,215.6 591.5,214.1 591.8,211.8 592.1,208.7 592.3,205 592.6,200.9 592.9,196.7 593.2,192.4 593.4,188.5 593.7,185.2 594,182.7 594.2,181.2 594.5,180.9 594.8,182 595,184.3 595.3,187.9 595.6,192.5 595.9,198 596.1,204.1 596.4,210.3 596.7,216.5 596.9,222 597.2,226.7 597.5,230.2 597.7,232.3 598,232.7 598.3,231.4 598.6,228.4 598.8,223.9 599.1,218.1 599.4,211.3 599.6,203.9 599.9,196.3 600.2,189 600.4,182.4 600.7,177 601,172.9 601.3,170.6 601.5,170.1 601.8,171.4 602.1,174.5 602.3,179.3 602.6,185.3 602.9,192.2 603.2,199.7 603.4,207.3 603.7,214.5 604,220.9 604.2,226.1 604.5,230 604.8,232.2 605,232.7 605.3,231.6 605.6,228.8 605.9,224.8 606.1,219.6 606.4,213.7 606.7,207.5 606.9,201.3 607.2,195.4 607.5,190.3 607.7,186.1 608,183.1 608.3,181.3 608.6,180.9 608.8,181.7 609.1,183.7 609.4,186.6 609.6,190.2 609.9,194.3 610.2,198.6 610.4,202.8 610.7,206.8 611,210.2 611.3,212.9 611.5,214.9 611.8,216 612.1,216.3 612.3,215.9 612.6,214.7 612.9,213 613.1,210.9 613.4,208.5 613.7,206.1 614,203.7 614.2,201.5 614.5,199.6 614.8,198.2 615,197.1 615.3,196.5 615.6,196.3 615.8,196.5 616.1,197.1 616.4,197.9 616.7,198.9 616.9,200.1 617.2,201.2 617.5,202.3 617.7,203.3 618,204.2 618.3,204.8 618.6,205.3 618.8,205.6 619.1,205.6 619.4,205.6 619.6,205.3 619.9,205 620.2,204.6 620.4,204.2 620.7,203.7 621,203.3 621.3,202.9 621.5,202.6 621.8,202.4 622.1,202.2 622.3,202.1 622.6,202.1 622.9,202.1 623.1,202.2 623.4,202.3 623.7,202.4 624,202.5 624.2,202.7 624.5,202.8 624.8,202.9 625,203 625.3,203.1 625.6,203.2 625.8,203.2 626.1,203.2 626.4,203.2 626.7,203.2 626.9,203.1 627.2,203.1 627.5,203.1 627.7,203 628,203 628.3,203 628.5,202.9 628.8,202.9 629.1,202.9 629.4,202.9 629.6,202.9 629.9,202.9 630.2,202.9 630.4,202.9 630.7,202.9 631,202.9 631.2,202.9 631.5,202.9 631.8,202.9 632.1,203 632.3,203 632.6,203 632.9,203 633.1,203 633.4,203 633.7,203 634,203 634.2,203 634.5,203 634.8,203 635,203 635.3,203 635.6,203 635.8,202.9 636.1,202.9 636.4,202.9 636.7,202.9 636.9,202.9 637.2,202.9 637.5,202.9 637.7,202.9 638,202.9 638.3,202.9 638.5,202.9 638.8,202.9 639.1,202.9 639.4,203 639.6,203 639.9,203 640.2,203 640.4,203 640.7,203 641,203 641.2,203 641.5,203 641.8,203 642.1,203 642.3,203 642.6,203 642.9,202.9 643.1,202.9 643.4,202.9 643.7,202.9 643.9,202.9 644.2,202.9 644.5,202.9" fill="none" stroke="#2c3cd0" stroke-width="0.9" stroke-linejoin="round"/>
<polyline points="555.6,203 555.9,203 556.1,203 556.4,203 556.7,203 557,203 557.2,203 557.5,203 557.8,202.9 558,202.9 558.3,202.9 558.6,202.9 558.8,202.9 559.1,202.9 559.4,202.9 559.7,202.9 559.9,202.9 560.2,202.9 560.5,202.9 560.7,202.9 561,202.9 561.3,203 561.5,203 561.8,203 562.1,203 562.4,203 562.6,203 562.9,203 563.2,203 563.4,203 563.7,203 564,203 564.2,203 564.5,203 564.8,202.9 565.1,202.9 565.3,202.9 565.6,202.9 565.9,202.9 566.1,202.9 566.4,202.9 566.7,202.9 566.9,202.9 567.2,202.9 567.5,202.9 567.8,202.9 568,202.9 568.3,202.9 568.6,203 568.8,203 569.1,203 569.4,203 569.6,203 569.9,203 570.2,203 570.5,203 570.7,203 571,203 571.3,203 571.5,203 571.8,203 572.1,202.9 572.4,202.9 572.6,202.9 572.9,202.9 573.2,202.9 573.4,202.9 573.7,202.9 574,202.9 574.2,202.9 574.5,202.9 574.8,202.9 575.1,202.9 575.3,202.9 575.6,203 575.9,203 576.1,203 576.4,203 576.7,203.1 576.9,203.1 577.2,203.1 577.5,203.2 577.8,203.2 578,203.2 578.3,203.1 578.6,203.1 578.8,203 579.1,203 579.4,202.9 579.6,202.7 579.9,202.6 580.2,202.5 580.5,202.4 580.7,202.3 581,202.2 581.3,202.1 581.5,202.2 581.8,202.2 582.1,202.4 582.3,202.6 582.6,202.8 582.9,203.1 583.2,203.5 583.4,203.9 583.7,204.3 584,204.7 584.2,205 584.5,205.2 584.8,205.4 585,205.3 585.3,205.2 585.6,204.8 585.9,204.3 586.1,203.5 586.4,202.7 586.7,201.7 586.9,200.7 587.2,199.7 587.5,198.7 587.8,197.9 588,197.3 588.3,197 588.6,197 588.8,197.4 589.1,198.3 589.4,199.5 589.6,201.1 589.9,202.9 590.2,205 590.5,207.2 590.7,209.4 591,211.4 591.3,213.1 591.5,214.3 591.8,214.9 592.1,214.9 592.3,214.1 592.6,212.6 592.9,210.4 593.2,207.5 593.4,204.1 593.7,200.3 594,196.5 594.2,192.7 594.5,189.2 594.8,186.4 595,184.3 595.3,183.2 595.6,183.2 595.9,184.4 596.1,186.7 596.4,190.1 596.7,194.5 596.9,199.6 597.2,205.1 597.5,210.8 597.7,216.2 598,221.1 598.3,225.2 598.6,228.1 598.8,229.6 599.1,229.7 599.4,228.2 599.6,225.2 599.9,220.8 600.2,215.4 600.4,209.1 600.7,202.4 601,195.5 601.3,189.1 601.5,183.3 601.8,178.6 602.1,175.3 602.3,173.5 602.6,173.4 602.9,175 603.2,178.1 603.4,182.6 603.7,188.3 604,194.7 604.2,201.5 604.5,208.2 604.8,214.6 605,220.2 605.3,224.7 605.6,227.9 605.9,229.6 606.1,229.7 606.4,228.3 606.7,225.6 606.9,221.7 607.2,216.9 607.5,211.5 607.7,205.9 608,200.3 608.3,195.1 608.6,190.7 608.8,187.1 609.1,184.6 609.4,183.3 609.6,183.1 609.9,184.1 610.2,186 610.4,188.8 610.7,192.2 611,196 611.3,199.8 611.5,203.6 611.8,207.1 612.1,210 612.3,212.4 612.6,214 612.9,214.9 613.1,215 613.4,214.4 613.7,213.3 614,211.6 614.2,209.7 614.5,207.5 614.8,205.3 615,203.2 615.3,201.3 615.6,199.7 615.8,198.4 616.1,197.5 616.4,197.1 616.7,197 616.9,197.2 617.2,197.8 617.5,198.6 617.7,199.5 618,200.6 618.3,201.6 618.6,202.6 618.8,203.4 619.1,204.2 619.4,204.7 619.6,205.1 619.9,205.3 620.2,205.4 620.4,205.3 620.7,205 621,204.7 621.3,204.4 621.5,204 621.8,203.6 622.1,203.2 622.3,202.9 622.6,202.6 622.9,202.4 623.1,202.2 623.4,202.2 623.7,202.1 624,202.2 624.2,202.2 624.5,202.4 624.8,202.5 625,202.6 625.3,202.7 625.6,202.8 625.8,202.9 626.1,203 626.4,203.1 626.7,203.1 626.9,203.2 627.2,203.2 627.5,203.2 627.7,203.1 628,203.1 628.3,203.1 628.5,203 628.8,203 629.1,203 629.4,203 629.6,202.9 629.9,202.9 630.2,202.9 630.4,202.9 630.7,202.9 631,202.9 631.2,202.9 631.5,202.9 631.8,202.9 632.1,202.9 632.3,202.9 632.6,202.9 632.9,202.9 633.1,203 633.4,203 633.7,203 634,203 634.2,203 634.5,203 634.8,203 635,203 635.3,203 635.6,203 635.8,203 636.1,203 636.4,203 636.7,202.9 636.9,202.9 637.2,202.9 637.5,202.9 637.7,202.9 638,202.9 638.3,202.9 638.5,202.9 638.8,202.9 639.1,202.9 639.4,202.9 639.6,202.9 639.9,202.9 640.2,202.9 640.4,203 640.7,203 641,203 641.2,203 641.5,203 641.8,203 642.1,203 642.3,203 642.6,203 642.9,203 643.1,203 643.4,203 643.7,203 643.9,202.9 644.2,202.9 644.5,202.9" fill="none" stroke="#26262c" stroke-width="1" stroke-linejoin="round"/>
</g>
<line x1="555.6" y1="246" x2="663.4" y2="246" stroke="#8a8a8a" stroke-width="1.2"/>
<line x1="555.6" y1="159.9" x2="663.4" y2="159.9" stroke="#9a9aa6" stroke-width="1"/>
<line x1="663.4" y1="159.9" x2="663.4" y2="246" stroke="#8e8e96" stroke-width="1"/>
<line x1="555.6" y1="159.9" x2="555.6" y2="246" stroke="#a4bcbc" stroke-width="1.3"/>
<line x1="554.1" y1="246" x2="555.6" y2="246" stroke="#889" stroke-width="0.8"/>
<line x1="554.1" y1="235.2" x2="555.6" y2="235.2" stroke="#889" stroke-width="0.8"/>
<line x1="554.1" y1="224.5" x2="555.6" y2="224.5" stroke="#889" stroke-width="0.8"/>
<line x1="554.1" y1="213.7" x2="555.6" y2="213.7" stroke="#889" stroke-width="0.8"/>
<line x1="554.1" y1="202.9" x2="555.6" y2="202.9" stroke="#889" stroke-width="0.8"/>
<line x1="554.1" y1="192.2" x2="555.6" y2="192.2" stroke="#889" stroke-width="0.8"/>
<line x1="554.1" y1="181.4" x2="555.6" y2="181.4" stroke="#889" stroke-width="0.8"/>
<line x1="554.1" y1="170.7" x2="555.6" y2="170.7" stroke="#889" stroke-width="0.8"/>
<line x1="554.1" y1="159.9" x2="555.6" y2="159.9" stroke="#889" stroke-width="0.8"/>
<line x1="555.6" y1="246" x2="555.6" y2="244.5" stroke="#888" stroke-width="0.8"/>
<line x1="582.6" y1="246" x2="582.6" y2="244.5" stroke="#888" stroke-width="0.8"/>
<line x1="609.5" y1="246" x2="609.5" y2="244.5" stroke="#888" stroke-width="0.8"/>
<line x1="636.5" y1="246" x2="636.5" y2="244.5" stroke="#888" stroke-width="0.8"/>
<line x1="663.4" y1="246" x2="663.4" y2="244.5" stroke="#888" stroke-width="0.8"/>
<text x="555.6" y="257.8" font-size="10.5" text-anchor="middle">0</text>
<text x="609.5" y="257.8" font-size="10.5" text-anchor="middle">20</text>
<text x="663.4" y="257.8" font-size="10.5" text-anchor="middle">40</text>
<text x="290.8" y="34.3" font-size="13.8" font-weight="bold" textLength="25.8" lengthAdjust="spacingAndGlyphs">(b1)</text>
<text x="423.3" y="34.3" font-size="13.8" font-weight="bold" textLength="25.8" lengthAdjust="spacingAndGlyphs">(b2)</text>
<text x="555.8" y="34.3" font-size="13.8" font-weight="bold" textLength="25.8" lengthAdjust="spacingAndGlyphs">(b3)</text>
<text x="290.8" y="155.7" font-size="13.8" font-weight="bold" textLength="25.1" lengthAdjust="spacingAndGlyphs">(c1)</text>
<text x="423.3" y="155.7" font-size="13.8" font-weight="bold" textLength="25.1" lengthAdjust="spacingAndGlyphs">(c2)</text>
<text x="555.8" y="155.7" font-size="13.8" font-weight="bold" textLength="25.1" lengthAdjust="spacingAndGlyphs">(c3)</text>
<text x="341.2" y="36.9" font-size="10" text-anchor="middle">2.7 fs</text>
<text x="397" y="48.3" font-size="9.6" text-anchor="end" textLength="50" lengthAdjust="spacingAndGlyphs">E<tspan font-size="5" dy="1.5">x</tspan><tspan dy="-1.5"> 2.7 fs x2</tspan></text>
<line x1="362.6" y1="52" x2="381.1" y2="52" stroke="#2a2a2a" stroke-width="2.8"/>
<text x="473.4" y="36.9" font-size="10" text-anchor="middle">4 fs</text>
<text x="529.1" y="48.3" font-size="9.6" text-anchor="end" textLength="41.1" lengthAdjust="spacingAndGlyphs">E<tspan font-size="5" dy="1.5">x</tspan><tspan dy="-1.5"> 4 fs x2</tspan></text>
<line x1="498.9" y1="52" x2="517.2" y2="52" stroke="#2a2a2a" stroke-width="2.8"/>
<text x="606" y="36.9" font-size="10" text-anchor="middle">5 fs</text>
<text x="660.9" y="48.3" font-size="9.6" text-anchor="end" textLength="41.3" lengthAdjust="spacingAndGlyphs">E<tspan font-size="5" dy="1.5">x</tspan><tspan dy="-1.5"> 5 fs x2</tspan></text>
<line x1="630.6" y1="52" x2="648.9" y2="52" stroke="#2a2a2a" stroke-width="2.8"/>
<text x="293.8" y="50.7" font-size="11.6">Au</text>
<text x="294.8" y="169.8" font-size="11.6">Ag</text>
<text x="344.6" y="264.5" font-size="10.5" text-anchor="middle">time (fs)</text>
<text x="477.1" y="264.5" font-size="10.5" text-anchor="middle">time (fs)</text>
<text x="609.6" y="264.5" font-size="10.5" text-anchor="middle">time (fs)</text>
<text x="275.6" y="232.8" font-size="10.5" textLength="163" lengthAdjust="spacingAndGlyphs" transform="rotate(-90 275.6 232.8)">electric field x component (rel.u.)</text>
</svg></body></html>
